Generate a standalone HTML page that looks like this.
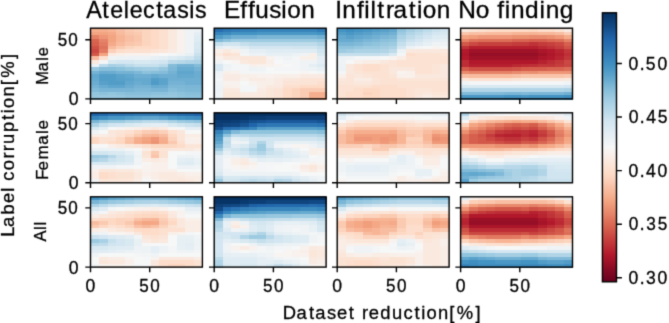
<!DOCTYPE html><html><head><meta charset="utf-8"><title>heatmaps</title><style>html,body{margin:0;padding:0;background:#fff}svg{display:block}text{font-family:"Liberation Sans",sans-serif;fill:#000;stroke:#000;stroke-width:0.30px}</style></head><body>
<svg width="669" height="323" viewBox="0 0 669 323">
<defs><filter id="bl" color-interpolation-filters="sRGB" x="-5%" y="-5%" width="110%" height="110%"><feConvolveMatrix order="3" kernelMatrix="0 0 0 0 1 0 0 0 0" edgeMode="duplicate"/></filter>
<filter id="gb" color-interpolation-filters="sRGB" x="0" y="0" width="669" height="323" filterUnits="userSpaceOnUse"><feConvolveMatrix order="3" kernelMatrix="0.01917 0.10012 0.01917 0.10012 0.52283 0.10012 0.01917 0.10012 0.01917" edgeMode="duplicate"/></filter>
<linearGradient id="cb" x1="0" y1="1" x2="0" y2="0"><stop offset="0.000" stop-color="#67001f"/><stop offset="0.025" stop-color="#790622"/><stop offset="0.050" stop-color="#8a0b25"/><stop offset="0.075" stop-color="#9f1228"/><stop offset="0.100" stop-color="#b1182b"/><stop offset="0.125" stop-color="#bb2a34"/><stop offset="0.150" stop-color="#c43b3c"/><stop offset="0.175" stop-color="#cc4c44"/><stop offset="0.200" stop-color="#d6604d"/><stop offset="0.225" stop-color="#dd7059"/><stop offset="0.250" stop-color="#e58368"/><stop offset="0.275" stop-color="#ec9374"/><stop offset="0.300" stop-color="#f3a481"/><stop offset="0.325" stop-color="#f6b394"/><stop offset="0.350" stop-color="#f8bfa4"/><stop offset="0.375" stop-color="#fbceb7"/><stop offset="0.400" stop-color="#fddbc7"/><stop offset="0.425" stop-color="#fce2d2"/><stop offset="0.450" stop-color="#fae9df"/><stop offset="0.475" stop-color="#f9f0eb"/><stop offset="0.500" stop-color="#f6f7f7"/><stop offset="0.525" stop-color="#edf2f5"/><stop offset="0.550" stop-color="#e4eef4"/><stop offset="0.575" stop-color="#dae9f2"/><stop offset="0.600" stop-color="#d1e5f0"/><stop offset="0.625" stop-color="#c0dceb"/><stop offset="0.650" stop-color="#b1d5e7"/><stop offset="0.675" stop-color="#a2cde3"/><stop offset="0.700" stop-color="#90c4dd"/><stop offset="0.725" stop-color="#7eb8d7"/><stop offset="0.750" stop-color="#68abd0"/><stop offset="0.775" stop-color="#569fc9"/><stop offset="0.800" stop-color="#4393c3"/><stop offset="0.825" stop-color="#3a87bd"/><stop offset="0.850" stop-color="#327cb7"/><stop offset="0.875" stop-color="#2870b1"/><stop offset="0.900" stop-color="#2065ab"/><stop offset="0.925" stop-color="#1a5899"/><stop offset="0.950" stop-color="#124984"/><stop offset="0.975" stop-color="#0c3d73"/><stop offset="1.000" stop-color="#053061"/></linearGradient></defs>
<g filter="url(#gb)"><rect x="0" y="0" width="669" height="323" fill="#fff"/>
<g filter="url(#bl)" shape-rendering="crispEdges"><rect x="90.50" y="28.20" width="9.21" height="4.13" fill="#f6af8e"/><rect x="99.11" y="28.20" width="9.21" height="4.13" fill="#f6af8e"/><rect x="107.72" y="28.20" width="9.21" height="4.13" fill="#f7b596"/><rect x="116.32" y="28.20" width="9.21" height="4.13" fill="#f8bfa4"/><rect x="124.93" y="28.20" width="9.21" height="4.13" fill="#facab1"/><rect x="133.54" y="28.20" width="9.21" height="4.13" fill="#fbd0b9"/><rect x="142.15" y="28.20" width="9.21" height="4.13" fill="#fcd5bf"/><rect x="150.75" y="28.20" width="9.21" height="4.13" fill="#fddbc7"/><rect x="159.36" y="28.20" width="9.21" height="4.13" fill="#fce0d0"/><rect x="167.97" y="28.20" width="9.21" height="4.13" fill="#fae9df"/><rect x="176.58" y="28.20" width="9.21" height="4.13" fill="#f8f1ed"/><rect x="185.18" y="28.20" width="9.21" height="4.13" fill="#eff3f5"/><rect x="193.79" y="28.20" width="9.21" height="4.13" fill="#ecf2f5"/><rect x="90.50" y="31.73" width="9.21" height="4.13" fill="#f3a481"/><rect x="99.11" y="31.73" width="9.21" height="4.13" fill="#f3a481"/><rect x="107.72" y="31.73" width="9.21" height="4.13" fill="#f5aa89"/><rect x="116.32" y="31.73" width="9.21" height="4.13" fill="#f8bb9e"/><rect x="124.93" y="31.73" width="9.21" height="4.13" fill="#f9c6ac"/><rect x="133.54" y="31.73" width="9.21" height="4.13" fill="#facab1"/><rect x="142.15" y="31.73" width="9.21" height="4.13" fill="#fcd5bf"/><rect x="150.75" y="31.73" width="9.21" height="4.13" fill="#fddbc7"/><rect x="159.36" y="31.73" width="9.21" height="4.13" fill="#fce0d0"/><rect x="167.97" y="31.73" width="9.21" height="4.13" fill="#fae9df"/><rect x="176.58" y="31.73" width="9.21" height="4.13" fill="#f8f1ed"/><rect x="185.18" y="31.73" width="9.21" height="4.13" fill="#eff3f5"/><rect x="193.79" y="31.73" width="9.21" height="4.13" fill="#e4eef4"/><rect x="90.50" y="35.27" width="9.21" height="4.13" fill="#e58368"/><rect x="99.11" y="35.27" width="9.21" height="4.13" fill="#ee9677"/><rect x="107.72" y="35.27" width="9.21" height="4.13" fill="#f3a481"/><rect x="116.32" y="35.27" width="9.21" height="4.13" fill="#f7b596"/><rect x="124.93" y="35.27" width="9.21" height="4.13" fill="#f8bfa4"/><rect x="133.54" y="35.27" width="9.21" height="4.13" fill="#f9c6ac"/><rect x="142.15" y="35.27" width="9.21" height="4.13" fill="#fcd5bf"/><rect x="150.75" y="35.27" width="9.21" height="4.13" fill="#fddbc7"/><rect x="159.36" y="35.27" width="9.21" height="4.13" fill="#fce0d0"/><rect x="167.97" y="35.27" width="9.21" height="4.13" fill="#fae9df"/><rect x="176.58" y="35.27" width="9.21" height="4.13" fill="#f8f1ed"/><rect x="185.18" y="35.27" width="9.21" height="4.13" fill="#eff3f5"/><rect x="193.79" y="35.27" width="9.21" height="4.13" fill="#e0ecf3"/><rect x="90.50" y="38.80" width="9.21" height="4.13" fill="#d86551"/><rect x="99.11" y="38.80" width="9.21" height="4.13" fill="#e58368"/><rect x="107.72" y="38.80" width="9.21" height="4.13" fill="#f3a481"/><rect x="116.32" y="38.80" width="9.21" height="4.13" fill="#f7b596"/><rect x="124.93" y="38.80" width="9.21" height="4.13" fill="#f8bfa4"/><rect x="133.54" y="38.80" width="9.21" height="4.13" fill="#f9c6ac"/><rect x="142.15" y="38.80" width="9.21" height="4.13" fill="#fcd5bf"/><rect x="150.75" y="38.80" width="9.21" height="4.13" fill="#fddbc7"/><rect x="159.36" y="38.80" width="9.21" height="4.13" fill="#fce0d0"/><rect x="167.97" y="38.80" width="9.21" height="4.13" fill="#fae9df"/><rect x="176.58" y="38.80" width="9.21" height="4.13" fill="#f8f1ed"/><rect x="185.18" y="38.80" width="9.21" height="4.13" fill="#eff3f5"/><rect x="193.79" y="38.80" width="9.21" height="4.13" fill="#ddebf2"/><rect x="90.50" y="42.34" width="9.21" height="4.13" fill="#d6604d"/><rect x="99.11" y="42.34" width="9.21" height="4.13" fill="#e27b62"/><rect x="107.72" y="42.34" width="9.21" height="4.13" fill="#f5aa89"/><rect x="116.32" y="42.34" width="9.21" height="4.13" fill="#f8bb9e"/><rect x="124.93" y="42.34" width="9.21" height="4.13" fill="#f9c6ac"/><rect x="133.54" y="42.34" width="9.21" height="4.13" fill="#facab1"/><rect x="142.15" y="42.34" width="9.21" height="4.13" fill="#fcd5bf"/><rect x="150.75" y="42.34" width="9.21" height="4.13" fill="#fddbc7"/><rect x="159.36" y="42.34" width="9.21" height="4.13" fill="#fce0d0"/><rect x="167.97" y="42.34" width="9.21" height="4.13" fill="#fae9df"/><rect x="176.58" y="42.34" width="9.21" height="4.13" fill="#f8f1ed"/><rect x="185.18" y="42.34" width="9.21" height="4.13" fill="#eff3f5"/><rect x="193.79" y="42.34" width="9.21" height="4.13" fill="#d8e9f1"/><rect x="90.50" y="45.88" width="9.21" height="4.13" fill="#cf5246"/><rect x="99.11" y="45.88" width="9.21" height="4.13" fill="#de735c"/><rect x="107.72" y="45.88" width="9.21" height="4.13" fill="#f8bb9e"/><rect x="116.32" y="45.88" width="9.21" height="4.13" fill="#facab1"/><rect x="124.93" y="45.88" width="9.21" height="4.13" fill="#fcd5bf"/><rect x="133.54" y="45.88" width="9.21" height="4.13" fill="#fddbc7"/><rect x="142.15" y="45.88" width="9.21" height="4.13" fill="#fddbc7"/><rect x="150.75" y="45.88" width="9.21" height="4.13" fill="#fddbc7"/><rect x="159.36" y="45.88" width="9.21" height="4.13" fill="#fce0d0"/><rect x="167.97" y="45.88" width="9.21" height="4.13" fill="#fae9df"/><rect x="176.58" y="45.88" width="9.21" height="4.13" fill="#f8f1ed"/><rect x="185.18" y="45.88" width="9.21" height="4.13" fill="#eff3f5"/><rect x="193.79" y="45.88" width="9.21" height="4.13" fill="#d8e9f1"/><rect x="90.50" y="49.41" width="9.21" height="4.13" fill="#cb4942"/><rect x="99.11" y="49.41" width="9.21" height="4.13" fill="#e27b62"/><rect x="107.72" y="49.41" width="9.21" height="4.13" fill="#fbd0b9"/><rect x="116.32" y="49.41" width="9.21" height="4.13" fill="#fdddcb"/><rect x="124.93" y="49.41" width="9.21" height="4.13" fill="#fce0d0"/><rect x="133.54" y="49.41" width="9.21" height="4.13" fill="#fce0d0"/><rect x="142.15" y="49.41" width="9.21" height="4.13" fill="#fce0d0"/><rect x="150.75" y="49.41" width="9.21" height="4.13" fill="#fbe4d6"/><rect x="159.36" y="49.41" width="9.21" height="4.13" fill="#fbe6da"/><rect x="167.97" y="49.41" width="9.21" height="4.13" fill="#f9ebe3"/><rect x="176.58" y="49.41" width="9.21" height="4.13" fill="#f8f1ed"/><rect x="185.18" y="49.41" width="9.21" height="4.13" fill="#eff3f5"/><rect x="193.79" y="49.41" width="9.21" height="4.13" fill="#d4e6f1"/><rect x="90.50" y="52.95" width="9.21" height="4.13" fill="#d25849"/><rect x="99.11" y="52.95" width="9.21" height="4.13" fill="#f3a481"/><rect x="107.72" y="52.95" width="9.21" height="4.13" fill="#f9ebe3"/><rect x="116.32" y="52.95" width="9.21" height="4.13" fill="#f9efe9"/><rect x="124.93" y="52.95" width="9.21" height="4.13" fill="#f8f1ed"/><rect x="133.54" y="52.95" width="9.21" height="4.13" fill="#f8f1ed"/><rect x="142.15" y="52.95" width="9.21" height="4.13" fill="#f8f1ed"/><rect x="150.75" y="52.95" width="9.21" height="4.13" fill="#f8f4f2"/><rect x="159.36" y="52.95" width="9.21" height="4.13" fill="#f6f7f7"/><rect x="167.97" y="52.95" width="9.21" height="4.13" fill="#f3f5f6"/><rect x="176.58" y="52.95" width="9.21" height="4.13" fill="#eff3f5"/><rect x="185.18" y="52.95" width="9.21" height="4.13" fill="#e7f0f4"/><rect x="193.79" y="52.95" width="9.21" height="4.13" fill="#cae1ee"/><rect x="90.50" y="56.48" width="9.21" height="4.13" fill="#f8bb9e"/><rect x="99.11" y="56.48" width="9.21" height="4.13" fill="#fce0d0"/><rect x="107.72" y="56.48" width="9.21" height="4.13" fill="#eff3f5"/><rect x="116.32" y="56.48" width="9.21" height="4.13" fill="#ecf2f5"/><rect x="124.93" y="56.48" width="9.21" height="4.13" fill="#ecf2f5"/><rect x="133.54" y="56.48" width="9.21" height="4.13" fill="#ecf2f5"/><rect x="142.15" y="56.48" width="9.21" height="4.13" fill="#ecf2f5"/><rect x="150.75" y="56.48" width="9.21" height="4.13" fill="#e7f0f4"/><rect x="159.36" y="56.48" width="9.21" height="4.13" fill="#e4eef4"/><rect x="167.97" y="56.48" width="9.21" height="4.13" fill="#ddebf2"/><rect x="176.58" y="56.48" width="9.21" height="4.13" fill="#d8e9f1"/><rect x="185.18" y="56.48" width="9.21" height="4.13" fill="#d1e5f0"/><rect x="193.79" y="56.48" width="9.21" height="4.13" fill="#bddbea"/><rect x="90.50" y="60.02" width="9.21" height="4.13" fill="#fae9df"/><rect x="99.11" y="60.02" width="9.21" height="4.13" fill="#f3f5f6"/><rect x="107.72" y="60.02" width="9.21" height="4.13" fill="#d8e9f1"/><rect x="116.32" y="60.02" width="9.21" height="4.13" fill="#d4e6f1"/><rect x="124.93" y="60.02" width="9.21" height="4.13" fill="#d4e6f1"/><rect x="133.54" y="60.02" width="9.21" height="4.13" fill="#d8e9f1"/><rect x="142.15" y="60.02" width="9.21" height="4.13" fill="#d8e9f1"/><rect x="150.75" y="60.02" width="9.21" height="4.13" fill="#d4e6f1"/><rect x="159.36" y="60.02" width="9.21" height="4.13" fill="#d1e5f0"/><rect x="167.97" y="60.02" width="9.21" height="4.13" fill="#bddbea"/><rect x="176.58" y="60.02" width="9.21" height="4.13" fill="#b8d8e9"/><rect x="185.18" y="60.02" width="9.21" height="4.13" fill="#b1d5e7"/><rect x="193.79" y="60.02" width="9.21" height="4.13" fill="#acd2e5"/><rect x="90.50" y="63.55" width="9.21" height="4.13" fill="#ecf2f5"/><rect x="99.11" y="63.55" width="9.21" height="4.13" fill="#bbdaea"/><rect x="107.72" y="63.55" width="9.21" height="4.13" fill="#a7d0e4"/><rect x="116.32" y="63.55" width="9.21" height="4.13" fill="#aed3e6"/><rect x="124.93" y="63.55" width="9.21" height="4.13" fill="#bbdaea"/><rect x="133.54" y="63.55" width="9.21" height="4.13" fill="#c7e0ed"/><rect x="142.15" y="63.55" width="9.21" height="4.13" fill="#c7e0ed"/><rect x="150.75" y="63.55" width="9.21" height="4.13" fill="#c7e0ed"/><rect x="159.36" y="63.55" width="9.21" height="4.13" fill="#bbdaea"/><rect x="167.97" y="63.55" width="9.21" height="4.13" fill="#84bcd9"/><rect x="176.58" y="63.55" width="9.21" height="4.13" fill="#75b2d4"/><rect x="185.18" y="63.55" width="9.21" height="4.13" fill="#75b2d4"/><rect x="193.79" y="63.55" width="9.21" height="4.13" fill="#84bcd9"/><rect x="90.50" y="67.09" width="9.21" height="4.13" fill="#96c7df"/><rect x="99.11" y="67.09" width="9.21" height="4.13" fill="#87beda"/><rect x="107.72" y="67.09" width="9.21" height="4.13" fill="#87beda"/><rect x="116.32" y="67.09" width="9.21" height="4.13" fill="#8dc2dc"/><rect x="124.93" y="67.09" width="9.21" height="4.13" fill="#96c7df"/><rect x="133.54" y="67.09" width="9.21" height="4.13" fill="#9dcbe1"/><rect x="142.15" y="67.09" width="9.21" height="4.13" fill="#a2cde3"/><rect x="150.75" y="67.09" width="9.21" height="4.13" fill="#a2cde3"/><rect x="159.36" y="67.09" width="9.21" height="4.13" fill="#96c7df"/><rect x="167.97" y="67.09" width="9.21" height="4.13" fill="#7eb8d7"/><rect x="176.58" y="67.09" width="9.21" height="4.13" fill="#68abd0"/><rect x="185.18" y="67.09" width="9.21" height="4.13" fill="#68abd0"/><rect x="193.79" y="67.09" width="9.21" height="4.13" fill="#75b2d4"/><rect x="90.50" y="70.62" width="9.21" height="4.13" fill="#75b2d4"/><rect x="99.11" y="70.62" width="9.21" height="4.13" fill="#68abd0"/><rect x="107.72" y="70.62" width="9.21" height="4.13" fill="#6bacd1"/><rect x="116.32" y="70.62" width="9.21" height="4.13" fill="#75b2d4"/><rect x="124.93" y="70.62" width="9.21" height="4.13" fill="#75b2d4"/><rect x="133.54" y="70.62" width="9.21" height="4.13" fill="#7eb8d7"/><rect x="142.15" y="70.62" width="9.21" height="4.13" fill="#8dc2dc"/><rect x="150.75" y="70.62" width="9.21" height="4.13" fill="#87beda"/><rect x="159.36" y="70.62" width="9.21" height="4.13" fill="#84bcd9"/><rect x="167.97" y="70.62" width="9.21" height="4.13" fill="#75b2d4"/><rect x="176.58" y="70.62" width="9.21" height="4.13" fill="#5fa5cd"/><rect x="185.18" y="70.62" width="9.21" height="4.13" fill="#5fa5cd"/><rect x="193.79" y="70.62" width="9.21" height="4.13" fill="#6bacd1"/><rect x="90.50" y="74.16" width="9.21" height="4.13" fill="#62a7ce"/><rect x="99.11" y="74.16" width="9.21" height="4.13" fill="#529dc8"/><rect x="107.72" y="74.16" width="9.21" height="4.13" fill="#529dc8"/><rect x="116.32" y="74.16" width="9.21" height="4.13" fill="#5ca3cb"/><rect x="124.93" y="74.16" width="9.21" height="4.13" fill="#62a7ce"/><rect x="133.54" y="74.16" width="9.21" height="4.13" fill="#6eaed2"/><rect x="142.15" y="74.16" width="9.21" height="4.13" fill="#6eaed2"/><rect x="150.75" y="74.16" width="9.21" height="4.13" fill="#65a9cf"/><rect x="159.36" y="74.16" width="9.21" height="4.13" fill="#6eaed2"/><rect x="167.97" y="74.16" width="9.21" height="4.13" fill="#6eaed2"/><rect x="176.58" y="74.16" width="9.21" height="4.13" fill="#65a9cf"/><rect x="185.18" y="74.16" width="9.21" height="4.13" fill="#65a9cf"/><rect x="193.79" y="74.16" width="9.21" height="4.13" fill="#6bacd1"/><rect x="90.50" y="77.69" width="9.21" height="4.13" fill="#65a9cf"/><rect x="99.11" y="77.69" width="9.21" height="4.13" fill="#529dc8"/><rect x="107.72" y="77.69" width="9.21" height="4.13" fill="#529dc8"/><rect x="116.32" y="77.69" width="9.21" height="4.13" fill="#59a1ca"/><rect x="124.93" y="77.69" width="9.21" height="4.13" fill="#5ca3cb"/><rect x="133.54" y="77.69" width="9.21" height="4.13" fill="#65a9cf"/><rect x="142.15" y="77.69" width="9.21" height="4.13" fill="#65a9cf"/><rect x="150.75" y="77.69" width="9.21" height="4.13" fill="#529dc8"/><rect x="159.36" y="77.69" width="9.21" height="4.13" fill="#5ca3cb"/><rect x="167.97" y="77.69" width="9.21" height="4.13" fill="#6eaed2"/><rect x="176.58" y="77.69" width="9.21" height="4.13" fill="#6eaed2"/><rect x="185.18" y="77.69" width="9.21" height="4.13" fill="#6eaed2"/><rect x="193.79" y="77.69" width="9.21" height="4.13" fill="#6eaed2"/><rect x="90.50" y="81.23" width="9.21" height="4.13" fill="#6bacd1"/><rect x="99.11" y="81.23" width="9.21" height="4.13" fill="#59a1ca"/><rect x="107.72" y="81.23" width="9.21" height="4.13" fill="#529dc8"/><rect x="116.32" y="81.23" width="9.21" height="4.13" fill="#529dc8"/><rect x="124.93" y="81.23" width="9.21" height="4.13" fill="#62a7ce"/><rect x="133.54" y="81.23" width="9.21" height="4.13" fill="#6bacd1"/><rect x="142.15" y="81.23" width="9.21" height="4.13" fill="#65a9cf"/><rect x="150.75" y="81.23" width="9.21" height="4.13" fill="#4f9bc7"/><rect x="159.36" y="81.23" width="9.21" height="4.13" fill="#5ca3cb"/><rect x="167.97" y="81.23" width="9.21" height="4.13" fill="#75b2d4"/><rect x="176.58" y="81.23" width="9.21" height="4.13" fill="#75b2d4"/><rect x="185.18" y="81.23" width="9.21" height="4.13" fill="#6eaed2"/><rect x="193.79" y="81.23" width="9.21" height="4.13" fill="#6eaed2"/><rect x="90.50" y="84.76" width="9.21" height="4.13" fill="#75b2d4"/><rect x="99.11" y="84.76" width="9.21" height="4.13" fill="#68abd0"/><rect x="107.72" y="84.76" width="9.21" height="4.13" fill="#5fa5cd"/><rect x="116.32" y="84.76" width="9.21" height="4.13" fill="#5fa5cd"/><rect x="124.93" y="84.76" width="9.21" height="4.13" fill="#6bacd1"/><rect x="133.54" y="84.76" width="9.21" height="4.13" fill="#75b2d4"/><rect x="142.15" y="84.76" width="9.21" height="4.13" fill="#75b2d4"/><rect x="150.75" y="84.76" width="9.21" height="4.13" fill="#68abd0"/><rect x="159.36" y="84.76" width="9.21" height="4.13" fill="#6bacd1"/><rect x="167.97" y="84.76" width="9.21" height="4.13" fill="#7eb8d7"/><rect x="176.58" y="84.76" width="9.21" height="4.13" fill="#7eb8d7"/><rect x="185.18" y="84.76" width="9.21" height="4.13" fill="#7bb6d6"/><rect x="193.79" y="84.76" width="9.21" height="4.13" fill="#7bb6d6"/><rect x="90.50" y="88.30" width="9.21" height="4.13" fill="#81bad8"/><rect x="99.11" y="88.30" width="9.21" height="4.13" fill="#78b4d5"/><rect x="107.72" y="88.30" width="9.21" height="4.13" fill="#78b4d5"/><rect x="116.32" y="88.30" width="9.21" height="4.13" fill="#78b4d5"/><rect x="124.93" y="88.30" width="9.21" height="4.13" fill="#78b4d5"/><rect x="133.54" y="88.30" width="9.21" height="4.13" fill="#7eb8d7"/><rect x="142.15" y="88.30" width="9.21" height="4.13" fill="#7eb8d7"/><rect x="150.75" y="88.30" width="9.21" height="4.13" fill="#78b4d5"/><rect x="159.36" y="88.30" width="9.21" height="4.13" fill="#78b4d5"/><rect x="167.97" y="88.30" width="9.21" height="4.13" fill="#87beda"/><rect x="176.58" y="88.30" width="9.21" height="4.13" fill="#81bad8"/><rect x="185.18" y="88.30" width="9.21" height="4.13" fill="#7eb8d7"/><rect x="193.79" y="88.30" width="9.21" height="4.13" fill="#7eb8d7"/><rect x="90.50" y="91.83" width="9.21" height="4.13" fill="#93c6de"/><rect x="99.11" y="91.83" width="9.21" height="4.13" fill="#8dc2dc"/><rect x="107.72" y="91.83" width="9.21" height="4.13" fill="#93c6de"/><rect x="116.32" y="91.83" width="9.21" height="4.13" fill="#8dc2dc"/><rect x="124.93" y="91.83" width="9.21" height="4.13" fill="#87beda"/><rect x="133.54" y="91.83" width="9.21" height="4.13" fill="#87beda"/><rect x="142.15" y="91.83" width="9.21" height="4.13" fill="#87beda"/><rect x="150.75" y="91.83" width="9.21" height="4.13" fill="#8dc2dc"/><rect x="159.36" y="91.83" width="9.21" height="4.13" fill="#8dc2dc"/><rect x="167.97" y="91.83" width="9.21" height="4.13" fill="#93c6de"/><rect x="176.58" y="91.83" width="9.21" height="4.13" fill="#8dc2dc"/><rect x="185.18" y="91.83" width="9.21" height="4.13" fill="#87beda"/><rect x="193.79" y="91.83" width="9.21" height="4.13" fill="#87beda"/><rect x="90.50" y="95.37" width="9.21" height="4.13" fill="#96c7df"/><rect x="99.11" y="95.37" width="9.21" height="4.13" fill="#98c8e0"/><rect x="107.72" y="95.37" width="9.21" height="4.13" fill="#98c8e0"/><rect x="116.32" y="95.37" width="9.21" height="4.13" fill="#96c7df"/><rect x="124.93" y="95.37" width="9.21" height="4.13" fill="#90c4dd"/><rect x="133.54" y="95.37" width="9.21" height="4.13" fill="#90c4dd"/><rect x="142.15" y="95.37" width="9.21" height="4.13" fill="#90c4dd"/><rect x="150.75" y="95.37" width="9.21" height="4.13" fill="#96c7df"/><rect x="159.36" y="95.37" width="9.21" height="4.13" fill="#96c7df"/><rect x="167.97" y="95.37" width="9.21" height="4.13" fill="#96c7df"/><rect x="176.58" y="95.37" width="9.21" height="4.13" fill="#90c4dd"/><rect x="185.18" y="95.37" width="9.21" height="4.13" fill="#8dc2dc"/><rect x="193.79" y="95.37" width="9.21" height="4.13" fill="#8dc2dc"/></g>
<rect x="90.50" y="28.20" width="111.90" height="70.70" fill="none" stroke="#000" stroke-width="1.40"/>
<path d="M85.30 39.70H90.50M85.30 98.90H90.50M90.50 98.90V104.10M149.70 98.90V104.10" stroke="#000" stroke-width="1.40" fill="none"/>
<g filter="url(#bl)" shape-rendering="crispEdges"><rect x="214.20" y="28.20" width="9.21" height="4.13" fill="#276eb0"/><rect x="222.81" y="28.20" width="9.21" height="4.13" fill="#2e77b5"/><rect x="231.42" y="28.20" width="9.21" height="4.13" fill="#327cb7"/><rect x="240.02" y="28.20" width="9.21" height="4.13" fill="#3480b9"/><rect x="248.63" y="28.20" width="9.21" height="4.13" fill="#3480b9"/><rect x="257.24" y="28.20" width="9.21" height="4.13" fill="#3885bc"/><rect x="265.85" y="28.20" width="9.21" height="4.13" fill="#3885bc"/><rect x="274.45" y="28.20" width="9.21" height="4.13" fill="#3885bc"/><rect x="283.06" y="28.20" width="9.21" height="4.13" fill="#3885bc"/><rect x="291.67" y="28.20" width="9.21" height="4.13" fill="#3885bc"/><rect x="300.28" y="28.20" width="9.21" height="4.13" fill="#3885bc"/><rect x="308.88" y="28.20" width="9.21" height="4.13" fill="#3885bc"/><rect x="317.49" y="28.20" width="9.21" height="4.13" fill="#327cb7"/><rect x="214.20" y="31.73" width="9.21" height="4.13" fill="#3885bc"/><rect x="222.81" y="31.73" width="9.21" height="4.13" fill="#3c8abe"/><rect x="231.42" y="31.73" width="9.21" height="4.13" fill="#4393c3"/><rect x="240.02" y="31.73" width="9.21" height="4.13" fill="#4393c3"/><rect x="248.63" y="31.73" width="9.21" height="4.13" fill="#4393c3"/><rect x="257.24" y="31.73" width="9.21" height="4.13" fill="#4997c5"/><rect x="265.85" y="31.73" width="9.21" height="4.13" fill="#4997c5"/><rect x="274.45" y="31.73" width="9.21" height="4.13" fill="#4997c5"/><rect x="283.06" y="31.73" width="9.21" height="4.13" fill="#4997c5"/><rect x="291.67" y="31.73" width="9.21" height="4.13" fill="#4997c5"/><rect x="300.28" y="31.73" width="9.21" height="4.13" fill="#4997c5"/><rect x="308.88" y="31.73" width="9.21" height="4.13" fill="#4997c5"/><rect x="317.49" y="31.73" width="9.21" height="4.13" fill="#4393c3"/><rect x="214.20" y="35.27" width="9.21" height="4.13" fill="#529dc8"/><rect x="222.81" y="35.27" width="9.21" height="4.13" fill="#62a7ce"/><rect x="231.42" y="35.27" width="9.21" height="4.13" fill="#71b0d3"/><rect x="240.02" y="35.27" width="9.21" height="4.13" fill="#71b0d3"/><rect x="248.63" y="35.27" width="9.21" height="4.13" fill="#71b0d3"/><rect x="257.24" y="35.27" width="9.21" height="4.13" fill="#7bb6d6"/><rect x="265.85" y="35.27" width="9.21" height="4.13" fill="#7bb6d6"/><rect x="274.45" y="35.27" width="9.21" height="4.13" fill="#7bb6d6"/><rect x="283.06" y="35.27" width="9.21" height="4.13" fill="#7bb6d6"/><rect x="291.67" y="35.27" width="9.21" height="4.13" fill="#7bb6d6"/><rect x="300.28" y="35.27" width="9.21" height="4.13" fill="#7bb6d6"/><rect x="308.88" y="35.27" width="9.21" height="4.13" fill="#7bb6d6"/><rect x="317.49" y="35.27" width="9.21" height="4.13" fill="#71b0d3"/><rect x="214.20" y="38.80" width="9.21" height="4.13" fill="#81bad8"/><rect x="222.81" y="38.80" width="9.21" height="4.13" fill="#90c4dd"/><rect x="231.42" y="38.80" width="9.21" height="4.13" fill="#9dcbe1"/><rect x="240.02" y="38.80" width="9.21" height="4.13" fill="#9dcbe1"/><rect x="248.63" y="38.80" width="9.21" height="4.13" fill="#9dcbe1"/><rect x="257.24" y="38.80" width="9.21" height="4.13" fill="#9dcbe1"/><rect x="265.85" y="38.80" width="9.21" height="4.13" fill="#9dcbe1"/><rect x="274.45" y="38.80" width="9.21" height="4.13" fill="#9dcbe1"/><rect x="283.06" y="38.80" width="9.21" height="4.13" fill="#9dcbe1"/><rect x="291.67" y="38.80" width="9.21" height="4.13" fill="#9dcbe1"/><rect x="300.28" y="38.80" width="9.21" height="4.13" fill="#9dcbe1"/><rect x="308.88" y="38.80" width="9.21" height="4.13" fill="#9dcbe1"/><rect x="317.49" y="38.80" width="9.21" height="4.13" fill="#98c8e0"/><rect x="214.20" y="42.34" width="9.21" height="4.13" fill="#c5dfec"/><rect x="222.81" y="42.34" width="9.21" height="4.13" fill="#d1e5f0"/><rect x="231.42" y="42.34" width="9.21" height="4.13" fill="#d1e5f0"/><rect x="240.02" y="42.34" width="9.21" height="4.13" fill="#c5dfec"/><rect x="248.63" y="42.34" width="9.21" height="4.13" fill="#bddbea"/><rect x="257.24" y="42.34" width="9.21" height="4.13" fill="#bddbea"/><rect x="265.85" y="42.34" width="9.21" height="4.13" fill="#bddbea"/><rect x="274.45" y="42.34" width="9.21" height="4.13" fill="#bddbea"/><rect x="283.06" y="42.34" width="9.21" height="4.13" fill="#bddbea"/><rect x="291.67" y="42.34" width="9.21" height="4.13" fill="#bddbea"/><rect x="300.28" y="42.34" width="9.21" height="4.13" fill="#bddbea"/><rect x="308.88" y="42.34" width="9.21" height="4.13" fill="#bddbea"/><rect x="317.49" y="42.34" width="9.21" height="4.13" fill="#b1d5e7"/><rect x="214.20" y="45.88" width="9.21" height="4.13" fill="#e4eef4"/><rect x="222.81" y="45.88" width="9.21" height="4.13" fill="#ecf2f5"/><rect x="231.42" y="45.88" width="9.21" height="4.13" fill="#e7f0f4"/><rect x="240.02" y="45.88" width="9.21" height="4.13" fill="#e0ecf3"/><rect x="248.63" y="45.88" width="9.21" height="4.13" fill="#d4e6f1"/><rect x="257.24" y="45.88" width="9.21" height="4.13" fill="#d4e6f1"/><rect x="265.85" y="45.88" width="9.21" height="4.13" fill="#d4e6f1"/><rect x="274.45" y="45.88" width="9.21" height="4.13" fill="#d4e6f1"/><rect x="283.06" y="45.88" width="9.21" height="4.13" fill="#d4e6f1"/><rect x="291.67" y="45.88" width="9.21" height="4.13" fill="#d1e5f0"/><rect x="300.28" y="45.88" width="9.21" height="4.13" fill="#d1e5f0"/><rect x="308.88" y="45.88" width="9.21" height="4.13" fill="#d1e5f0"/><rect x="317.49" y="45.88" width="9.21" height="4.13" fill="#c5dfec"/><rect x="214.20" y="49.41" width="9.21" height="4.13" fill="#f9efe9"/><rect x="222.81" y="49.41" width="9.21" height="4.13" fill="#fae9df"/><rect x="231.42" y="49.41" width="9.21" height="4.13" fill="#f9efe9"/><rect x="240.02" y="49.41" width="9.21" height="4.13" fill="#eff3f5"/><rect x="248.63" y="49.41" width="9.21" height="4.13" fill="#e4eef4"/><rect x="257.24" y="49.41" width="9.21" height="4.13" fill="#e4eef4"/><rect x="265.85" y="49.41" width="9.21" height="4.13" fill="#e0ecf3"/><rect x="274.45" y="49.41" width="9.21" height="4.13" fill="#e0ecf3"/><rect x="283.06" y="49.41" width="9.21" height="4.13" fill="#e0ecf3"/><rect x="291.67" y="49.41" width="9.21" height="4.13" fill="#e0ecf3"/><rect x="300.28" y="49.41" width="9.21" height="4.13" fill="#e0ecf3"/><rect x="308.88" y="49.41" width="9.21" height="4.13" fill="#e0ecf3"/><rect x="317.49" y="49.41" width="9.21" height="4.13" fill="#d1e5f0"/><rect x="214.20" y="52.95" width="9.21" height="4.13" fill="#fae9df"/><rect x="222.81" y="52.95" width="9.21" height="4.13" fill="#fce0d0"/><rect x="231.42" y="52.95" width="9.21" height="4.13" fill="#fbe4d6"/><rect x="240.02" y="52.95" width="9.21" height="4.13" fill="#f3f5f6"/><rect x="248.63" y="52.95" width="9.21" height="4.13" fill="#ecf2f5"/><rect x="257.24" y="52.95" width="9.21" height="4.13" fill="#ecf2f5"/><rect x="265.85" y="52.95" width="9.21" height="4.13" fill="#e7f0f4"/><rect x="274.45" y="52.95" width="9.21" height="4.13" fill="#e7f0f4"/><rect x="283.06" y="52.95" width="9.21" height="4.13" fill="#e7f0f4"/><rect x="291.67" y="52.95" width="9.21" height="4.13" fill="#ecf2f5"/><rect x="300.28" y="52.95" width="9.21" height="4.13" fill="#eff3f5"/><rect x="308.88" y="52.95" width="9.21" height="4.13" fill="#f9efe9"/><rect x="317.49" y="52.95" width="9.21" height="4.13" fill="#d8e9f1"/><rect x="214.20" y="56.48" width="9.21" height="4.13" fill="#f8f1ed"/><rect x="222.81" y="56.48" width="9.21" height="4.13" fill="#fae9df"/><rect x="231.42" y="56.48" width="9.21" height="4.13" fill="#fae9df"/><rect x="240.02" y="56.48" width="9.21" height="4.13" fill="#fbe6da"/><rect x="248.63" y="56.48" width="9.21" height="4.13" fill="#fbe6da"/><rect x="257.24" y="56.48" width="9.21" height="4.13" fill="#fbe6da"/><rect x="265.85" y="56.48" width="9.21" height="4.13" fill="#f8f1ed"/><rect x="274.45" y="56.48" width="9.21" height="4.13" fill="#f3f5f6"/><rect x="283.06" y="56.48" width="9.21" height="4.13" fill="#eff3f5"/><rect x="291.67" y="56.48" width="9.21" height="4.13" fill="#f3f5f6"/><rect x="300.28" y="56.48" width="9.21" height="4.13" fill="#f9efe9"/><rect x="308.88" y="56.48" width="9.21" height="4.13" fill="#f9efe9"/><rect x="317.49" y="56.48" width="9.21" height="4.13" fill="#e4eef4"/><rect x="214.20" y="60.02" width="9.21" height="4.13" fill="#eff3f5"/><rect x="222.81" y="60.02" width="9.21" height="4.13" fill="#f6f7f7"/><rect x="231.42" y="60.02" width="9.21" height="4.13" fill="#f8f4f2"/><rect x="240.02" y="60.02" width="9.21" height="4.13" fill="#fae9df"/><rect x="248.63" y="60.02" width="9.21" height="4.13" fill="#fbe6da"/><rect x="257.24" y="60.02" width="9.21" height="4.13" fill="#fbe6da"/><rect x="265.85" y="60.02" width="9.21" height="4.13" fill="#f9efe9"/><rect x="274.45" y="60.02" width="9.21" height="4.13" fill="#f6f7f7"/><rect x="283.06" y="60.02" width="9.21" height="4.13" fill="#f3f5f6"/><rect x="291.67" y="60.02" width="9.21" height="4.13" fill="#f3f5f6"/><rect x="300.28" y="60.02" width="9.21" height="4.13" fill="#eff3f5"/><rect x="308.88" y="60.02" width="9.21" height="4.13" fill="#eff3f5"/><rect x="317.49" y="60.02" width="9.21" height="4.13" fill="#e4eef4"/><rect x="214.20" y="63.55" width="9.21" height="4.13" fill="#d8e9f1"/><rect x="222.81" y="63.55" width="9.21" height="4.13" fill="#ecf2f5"/><rect x="231.42" y="63.55" width="9.21" height="4.13" fill="#f3f5f6"/><rect x="240.02" y="63.55" width="9.21" height="4.13" fill="#f3f5f6"/><rect x="248.63" y="63.55" width="9.21" height="4.13" fill="#f9efe9"/><rect x="257.24" y="63.55" width="9.21" height="4.13" fill="#f8f1ed"/><rect x="265.85" y="63.55" width="9.21" height="4.13" fill="#f8f1ed"/><rect x="274.45" y="63.55" width="9.21" height="4.13" fill="#f8f4f2"/><rect x="283.06" y="63.55" width="9.21" height="4.13" fill="#f6f7f7"/><rect x="291.67" y="63.55" width="9.21" height="4.13" fill="#f3f5f6"/><rect x="300.28" y="63.55" width="9.21" height="4.13" fill="#eff3f5"/><rect x="308.88" y="63.55" width="9.21" height="4.13" fill="#e4eef4"/><rect x="317.49" y="63.55" width="9.21" height="4.13" fill="#ddebf2"/><rect x="214.20" y="67.09" width="9.21" height="4.13" fill="#d8e9f1"/><rect x="222.81" y="67.09" width="9.21" height="4.13" fill="#eff3f5"/><rect x="231.42" y="67.09" width="9.21" height="4.13" fill="#f3f5f6"/><rect x="240.02" y="67.09" width="9.21" height="4.13" fill="#f3f5f6"/><rect x="248.63" y="67.09" width="9.21" height="4.13" fill="#ecf2f5"/><rect x="257.24" y="67.09" width="9.21" height="4.13" fill="#eff3f5"/><rect x="265.85" y="67.09" width="9.21" height="4.13" fill="#f6f7f7"/><rect x="274.45" y="67.09" width="9.21" height="4.13" fill="#f3f5f6"/><rect x="283.06" y="67.09" width="9.21" height="4.13" fill="#f3f5f6"/><rect x="291.67" y="67.09" width="9.21" height="4.13" fill="#f3f5f6"/><rect x="300.28" y="67.09" width="9.21" height="4.13" fill="#eff3f5"/><rect x="308.88" y="67.09" width="9.21" height="4.13" fill="#ecf2f5"/><rect x="317.49" y="67.09" width="9.21" height="4.13" fill="#e7f0f4"/><rect x="214.20" y="70.62" width="9.21" height="4.13" fill="#ecf2f5"/><rect x="222.81" y="70.62" width="9.21" height="4.13" fill="#f9efe9"/><rect x="231.42" y="70.62" width="9.21" height="4.13" fill="#f8f1ed"/><rect x="240.02" y="70.62" width="9.21" height="4.13" fill="#f3f5f6"/><rect x="248.63" y="70.62" width="9.21" height="4.13" fill="#f3f5f6"/><rect x="257.24" y="70.62" width="9.21" height="4.13" fill="#f3f5f6"/><rect x="265.85" y="70.62" width="9.21" height="4.13" fill="#f6f7f7"/><rect x="274.45" y="70.62" width="9.21" height="4.13" fill="#f6f7f7"/><rect x="283.06" y="70.62" width="9.21" height="4.13" fill="#f6f7f7"/><rect x="291.67" y="70.62" width="9.21" height="4.13" fill="#f6f7f7"/><rect x="300.28" y="70.62" width="9.21" height="4.13" fill="#f8f4f2"/><rect x="308.88" y="70.62" width="9.21" height="4.13" fill="#f6f7f7"/><rect x="317.49" y="70.62" width="9.21" height="4.13" fill="#f3f5f6"/><rect x="214.20" y="74.16" width="9.21" height="4.13" fill="#eff3f5"/><rect x="222.81" y="74.16" width="9.21" height="4.13" fill="#f9ebe3"/><rect x="231.42" y="74.16" width="9.21" height="4.13" fill="#f9ebe3"/><rect x="240.02" y="74.16" width="9.21" height="4.13" fill="#f9efe9"/><rect x="248.63" y="74.16" width="9.21" height="4.13" fill="#f9efe9"/><rect x="257.24" y="74.16" width="9.21" height="4.13" fill="#f8f1ed"/><rect x="265.85" y="74.16" width="9.21" height="4.13" fill="#f8f1ed"/><rect x="274.45" y="74.16" width="9.21" height="4.13" fill="#f9efe9"/><rect x="283.06" y="74.16" width="9.21" height="4.13" fill="#f9efe9"/><rect x="291.67" y="74.16" width="9.21" height="4.13" fill="#f9efe9"/><rect x="300.28" y="74.16" width="9.21" height="4.13" fill="#f9ebe3"/><rect x="308.88" y="74.16" width="9.21" height="4.13" fill="#f9ebe3"/><rect x="317.49" y="74.16" width="9.21" height="4.13" fill="#f9ebe3"/><rect x="214.20" y="77.69" width="9.21" height="4.13" fill="#f3f5f6"/><rect x="222.81" y="77.69" width="9.21" height="4.13" fill="#f9ebe3"/><rect x="231.42" y="77.69" width="9.21" height="4.13" fill="#f9ebe3"/><rect x="240.02" y="77.69" width="9.21" height="4.13" fill="#f8f1ed"/><rect x="248.63" y="77.69" width="9.21" height="4.13" fill="#f9ebe3"/><rect x="257.24" y="77.69" width="9.21" height="4.13" fill="#f9ebe3"/><rect x="265.85" y="77.69" width="9.21" height="4.13" fill="#f9efe9"/><rect x="274.45" y="77.69" width="9.21" height="4.13" fill="#f9ebe3"/><rect x="283.06" y="77.69" width="9.21" height="4.13" fill="#fae7dc"/><rect x="291.67" y="77.69" width="9.21" height="4.13" fill="#fae7dc"/><rect x="300.28" y="77.69" width="9.21" height="4.13" fill="#fbe4d6"/><rect x="308.88" y="77.69" width="9.21" height="4.13" fill="#fbe4d6"/><rect x="317.49" y="77.69" width="9.21" height="4.13" fill="#fbe4d6"/><rect x="214.20" y="81.23" width="9.21" height="4.13" fill="#eff3f5"/><rect x="222.81" y="81.23" width="9.21" height="4.13" fill="#f8f1ed"/><rect x="231.42" y="81.23" width="9.21" height="4.13" fill="#f8f1ed"/><rect x="240.02" y="81.23" width="9.21" height="4.13" fill="#f6f7f7"/><rect x="248.63" y="81.23" width="9.21" height="4.13" fill="#f8f1ed"/><rect x="257.24" y="81.23" width="9.21" height="4.13" fill="#f9efe9"/><rect x="265.85" y="81.23" width="9.21" height="4.13" fill="#f9efe9"/><rect x="274.45" y="81.23" width="9.21" height="4.13" fill="#f9ebe3"/><rect x="283.06" y="81.23" width="9.21" height="4.13" fill="#fbe4d6"/><rect x="291.67" y="81.23" width="9.21" height="4.13" fill="#fbe4d6"/><rect x="300.28" y="81.23" width="9.21" height="4.13" fill="#fbe4d6"/><rect x="308.88" y="81.23" width="9.21" height="4.13" fill="#fbe4d6"/><rect x="317.49" y="81.23" width="9.21" height="4.13" fill="#fcdfcf"/><rect x="214.20" y="84.76" width="9.21" height="4.13" fill="#ecf2f5"/><rect x="222.81" y="84.76" width="9.21" height="4.13" fill="#f9efe9"/><rect x="231.42" y="84.76" width="9.21" height="4.13" fill="#f8f1ed"/><rect x="240.02" y="84.76" width="9.21" height="4.13" fill="#f3f5f6"/><rect x="248.63" y="84.76" width="9.21" height="4.13" fill="#f3f5f6"/><rect x="257.24" y="84.76" width="9.21" height="4.13" fill="#f9efe9"/><rect x="265.85" y="84.76" width="9.21" height="4.13" fill="#fae9df"/><rect x="274.45" y="84.76" width="9.21" height="4.13" fill="#fae9df"/><rect x="283.06" y="84.76" width="9.21" height="4.13" fill="#fcdfcf"/><rect x="291.67" y="84.76" width="9.21" height="4.13" fill="#fcdfcf"/><rect x="300.28" y="84.76" width="9.21" height="4.13" fill="#fddbc7"/><rect x="308.88" y="84.76" width="9.21" height="4.13" fill="#fddbc7"/><rect x="317.49" y="84.76" width="9.21" height="4.13" fill="#fddbc7"/><rect x="214.20" y="88.30" width="9.21" height="4.13" fill="#ecf2f5"/><rect x="222.81" y="88.30" width="9.21" height="4.13" fill="#fae9df"/><rect x="231.42" y="88.30" width="9.21" height="4.13" fill="#fae9df"/><rect x="240.02" y="88.30" width="9.21" height="4.13" fill="#f3f5f6"/><rect x="248.63" y="88.30" width="9.21" height="4.13" fill="#f3f5f6"/><rect x="257.24" y="88.30" width="9.21" height="4.13" fill="#f9ebe3"/><rect x="265.85" y="88.30" width="9.21" height="4.13" fill="#fbe6da"/><rect x="274.45" y="88.30" width="9.21" height="4.13" fill="#fbe4d6"/><rect x="283.06" y="88.30" width="9.21" height="4.13" fill="#fddbc7"/><rect x="291.67" y="88.30" width="9.21" height="4.13" fill="#fcd5bf"/><rect x="300.28" y="88.30" width="9.21" height="4.13" fill="#fbccb4"/><rect x="308.88" y="88.30" width="9.21" height="4.13" fill="#fbccb4"/><rect x="317.49" y="88.30" width="9.21" height="4.13" fill="#fbccb4"/><rect x="214.20" y="91.83" width="9.21" height="4.13" fill="#eff3f5"/><rect x="222.81" y="91.83" width="9.21" height="4.13" fill="#fbe6da"/><rect x="231.42" y="91.83" width="9.21" height="4.13" fill="#fbe6da"/><rect x="240.02" y="91.83" width="9.21" height="4.13" fill="#f9ebe3"/><rect x="248.63" y="91.83" width="9.21" height="4.13" fill="#f9ebe3"/><rect x="257.24" y="91.83" width="9.21" height="4.13" fill="#fae9df"/><rect x="265.85" y="91.83" width="9.21" height="4.13" fill="#fbe6da"/><rect x="274.45" y="91.83" width="9.21" height="4.13" fill="#fbe4d6"/><rect x="283.06" y="91.83" width="9.21" height="4.13" fill="#fddbc7"/><rect x="291.67" y="91.83" width="9.21" height="4.13" fill="#fcd5bf"/><rect x="300.28" y="91.83" width="9.21" height="4.13" fill="#fbccb4"/><rect x="308.88" y="91.83" width="9.21" height="4.13" fill="#f6af8e"/><rect x="317.49" y="91.83" width="9.21" height="4.13" fill="#f6af8e"/><rect x="214.20" y="95.37" width="9.21" height="4.13" fill="#eff3f5"/><rect x="222.81" y="95.37" width="9.21" height="4.13" fill="#fbe6da"/><rect x="231.42" y="95.37" width="9.21" height="4.13" fill="#fbe6da"/><rect x="240.02" y="95.37" width="9.21" height="4.13" fill="#fae9df"/><rect x="248.63" y="95.37" width="9.21" height="4.13" fill="#fae9df"/><rect x="257.24" y="95.37" width="9.21" height="4.13" fill="#fae9df"/><rect x="265.85" y="95.37" width="9.21" height="4.13" fill="#fbe6da"/><rect x="274.45" y="95.37" width="9.21" height="4.13" fill="#fbe4d6"/><rect x="283.06" y="95.37" width="9.21" height="4.13" fill="#fddbc7"/><rect x="291.67" y="95.37" width="9.21" height="4.13" fill="#fcd5bf"/><rect x="300.28" y="95.37" width="9.21" height="4.13" fill="#fbccb4"/><rect x="308.88" y="95.37" width="9.21" height="4.13" fill="#f6af8e"/><rect x="317.49" y="95.37" width="9.21" height="4.13" fill="#f6af8e"/></g>
<rect x="214.20" y="28.20" width="111.90" height="70.70" fill="none" stroke="#000" stroke-width="1.40"/>
<path d="M209.00 39.70H214.20M209.00 98.90H214.20M214.20 98.90V104.10M273.40 98.90V104.10" stroke="#000" stroke-width="1.40" fill="none"/>
<g filter="url(#bl)" shape-rendering="crispEdges"><rect x="337.20" y="28.20" width="9.21" height="4.13" fill="#4393c3"/><rect x="345.81" y="28.20" width="9.21" height="4.13" fill="#3f8ec0"/><rect x="354.42" y="28.20" width="9.21" height="4.13" fill="#4393c3"/><rect x="363.02" y="28.20" width="9.21" height="4.13" fill="#4997c5"/><rect x="371.63" y="28.20" width="9.21" height="4.13" fill="#529dc8"/><rect x="380.24" y="28.20" width="9.21" height="4.13" fill="#59a1ca"/><rect x="388.85" y="28.20" width="9.21" height="4.13" fill="#62a7ce"/><rect x="397.45" y="28.20" width="9.21" height="4.13" fill="#90c4dd"/><rect x="406.06" y="28.20" width="9.21" height="4.13" fill="#a5cee3"/><rect x="414.67" y="28.20" width="9.21" height="4.13" fill="#b1d5e7"/><rect x="423.28" y="28.20" width="9.21" height="4.13" fill="#bddbea"/><rect x="431.88" y="28.20" width="9.21" height="4.13" fill="#cae1ee"/><rect x="440.49" y="28.20" width="9.21" height="4.13" fill="#d1e5f0"/><rect x="337.20" y="31.73" width="9.21" height="4.13" fill="#529dc8"/><rect x="345.81" y="31.73" width="9.21" height="4.13" fill="#4997c5"/><rect x="354.42" y="31.73" width="9.21" height="4.13" fill="#529dc8"/><rect x="363.02" y="31.73" width="9.21" height="4.13" fill="#59a1ca"/><rect x="371.63" y="31.73" width="9.21" height="4.13" fill="#62a7ce"/><rect x="380.24" y="31.73" width="9.21" height="4.13" fill="#68abd0"/><rect x="388.85" y="31.73" width="9.21" height="4.13" fill="#71b0d3"/><rect x="397.45" y="31.73" width="9.21" height="4.13" fill="#9dcbe1"/><rect x="406.06" y="31.73" width="9.21" height="4.13" fill="#b1d5e7"/><rect x="414.67" y="31.73" width="9.21" height="4.13" fill="#bddbea"/><rect x="423.28" y="31.73" width="9.21" height="4.13" fill="#cae1ee"/><rect x="431.88" y="31.73" width="9.21" height="4.13" fill="#d4e6f1"/><rect x="440.49" y="31.73" width="9.21" height="4.13" fill="#d8e9f1"/><rect x="337.20" y="35.27" width="9.21" height="4.13" fill="#62a7ce"/><rect x="345.81" y="35.27" width="9.21" height="4.13" fill="#59a1ca"/><rect x="354.42" y="35.27" width="9.21" height="4.13" fill="#62a7ce"/><rect x="363.02" y="35.27" width="9.21" height="4.13" fill="#68abd0"/><rect x="371.63" y="35.27" width="9.21" height="4.13" fill="#71b0d3"/><rect x="380.24" y="35.27" width="9.21" height="4.13" fill="#7bb6d6"/><rect x="388.85" y="35.27" width="9.21" height="4.13" fill="#81bad8"/><rect x="397.45" y="35.27" width="9.21" height="4.13" fill="#acd2e5"/><rect x="406.06" y="35.27" width="9.21" height="4.13" fill="#bddbea"/><rect x="414.67" y="35.27" width="9.21" height="4.13" fill="#cae1ee"/><rect x="423.28" y="35.27" width="9.21" height="4.13" fill="#d4e6f1"/><rect x="431.88" y="35.27" width="9.21" height="4.13" fill="#ddebf2"/><rect x="440.49" y="35.27" width="9.21" height="4.13" fill="#e0ecf3"/><rect x="337.20" y="38.80" width="9.21" height="4.13" fill="#68abd0"/><rect x="345.81" y="38.80" width="9.21" height="4.13" fill="#68abd0"/><rect x="354.42" y="38.80" width="9.21" height="4.13" fill="#71b0d3"/><rect x="363.02" y="38.80" width="9.21" height="4.13" fill="#7bb6d6"/><rect x="371.63" y="38.80" width="9.21" height="4.13" fill="#81bad8"/><rect x="380.24" y="38.80" width="9.21" height="4.13" fill="#8ac0db"/><rect x="388.85" y="38.80" width="9.21" height="4.13" fill="#90c4dd"/><rect x="397.45" y="38.80" width="9.21" height="4.13" fill="#b8d8e9"/><rect x="406.06" y="38.80" width="9.21" height="4.13" fill="#cae1ee"/><rect x="414.67" y="38.80" width="9.21" height="4.13" fill="#d4e6f1"/><rect x="423.28" y="38.80" width="9.21" height="4.13" fill="#e0ecf3"/><rect x="431.88" y="38.80" width="9.21" height="4.13" fill="#e4eef4"/><rect x="440.49" y="38.80" width="9.21" height="4.13" fill="#e7f0f4"/><rect x="337.20" y="42.34" width="9.21" height="4.13" fill="#7bb6d6"/><rect x="345.81" y="42.34" width="9.21" height="4.13" fill="#7bb6d6"/><rect x="354.42" y="42.34" width="9.21" height="4.13" fill="#81bad8"/><rect x="363.02" y="42.34" width="9.21" height="4.13" fill="#8ac0db"/><rect x="371.63" y="42.34" width="9.21" height="4.13" fill="#90c4dd"/><rect x="380.24" y="42.34" width="9.21" height="4.13" fill="#98c8e0"/><rect x="388.85" y="42.34" width="9.21" height="4.13" fill="#9dcbe1"/><rect x="397.45" y="42.34" width="9.21" height="4.13" fill="#c5dfec"/><rect x="406.06" y="42.34" width="9.21" height="4.13" fill="#d8e9f1"/><rect x="414.67" y="42.34" width="9.21" height="4.13" fill="#e0ecf3"/><rect x="423.28" y="42.34" width="9.21" height="4.13" fill="#e7f0f4"/><rect x="431.88" y="42.34" width="9.21" height="4.13" fill="#eff3f5"/><rect x="440.49" y="42.34" width="9.21" height="4.13" fill="#eff3f5"/><rect x="337.20" y="45.88" width="9.21" height="4.13" fill="#90c4dd"/><rect x="345.81" y="45.88" width="9.21" height="4.13" fill="#90c4dd"/><rect x="354.42" y="45.88" width="9.21" height="4.13" fill="#98c8e0"/><rect x="363.02" y="45.88" width="9.21" height="4.13" fill="#9dcbe1"/><rect x="371.63" y="45.88" width="9.21" height="4.13" fill="#9dcbe1"/><rect x="380.24" y="45.88" width="9.21" height="4.13" fill="#a5cee3"/><rect x="388.85" y="45.88" width="9.21" height="4.13" fill="#acd2e5"/><rect x="397.45" y="45.88" width="9.21" height="4.13" fill="#d4e6f1"/><rect x="406.06" y="45.88" width="9.21" height="4.13" fill="#ecf2f5"/><rect x="414.67" y="45.88" width="9.21" height="4.13" fill="#f3f5f6"/><rect x="423.28" y="45.88" width="9.21" height="4.13" fill="#f6f7f7"/><rect x="431.88" y="45.88" width="9.21" height="4.13" fill="#f8f3f0"/><rect x="440.49" y="45.88" width="9.21" height="4.13" fill="#f6f7f7"/><rect x="337.20" y="49.41" width="9.21" height="4.13" fill="#9dcbe1"/><rect x="345.81" y="49.41" width="9.21" height="4.13" fill="#a5cee3"/><rect x="354.42" y="49.41" width="9.21" height="4.13" fill="#acd2e5"/><rect x="363.02" y="49.41" width="9.21" height="4.13" fill="#acd2e5"/><rect x="371.63" y="49.41" width="9.21" height="4.13" fill="#acd2e5"/><rect x="380.24" y="49.41" width="9.21" height="4.13" fill="#b1d5e7"/><rect x="388.85" y="49.41" width="9.21" height="4.13" fill="#bddbea"/><rect x="397.45" y="49.41" width="9.21" height="4.13" fill="#ecf2f5"/><rect x="406.06" y="49.41" width="9.21" height="4.13" fill="#fae8de"/><rect x="414.67" y="49.41" width="9.21" height="4.13" fill="#fae8de"/><rect x="423.28" y="49.41" width="9.21" height="4.13" fill="#fae8de"/><rect x="431.88" y="49.41" width="9.21" height="4.13" fill="#fae8de"/><rect x="440.49" y="49.41" width="9.21" height="4.13" fill="#fae8de"/><rect x="337.20" y="52.95" width="9.21" height="4.13" fill="#c5dfec"/><rect x="345.81" y="52.95" width="9.21" height="4.13" fill="#c5dfec"/><rect x="354.42" y="52.95" width="9.21" height="4.13" fill="#c5dfec"/><rect x="363.02" y="52.95" width="9.21" height="4.13" fill="#c5dfec"/><rect x="371.63" y="52.95" width="9.21" height="4.13" fill="#c5dfec"/><rect x="380.24" y="52.95" width="9.21" height="4.13" fill="#cae1ee"/><rect x="388.85" y="52.95" width="9.21" height="4.13" fill="#d8e9f1"/><rect x="397.45" y="52.95" width="9.21" height="4.13" fill="#f3f5f6"/><rect x="406.06" y="52.95" width="9.21" height="4.13" fill="#fdddcb"/><rect x="414.67" y="52.95" width="9.21" height="4.13" fill="#fce2d2"/><rect x="423.28" y="52.95" width="9.21" height="4.13" fill="#fce2d2"/><rect x="431.88" y="52.95" width="9.21" height="4.13" fill="#fce2d2"/><rect x="440.49" y="52.95" width="9.21" height="4.13" fill="#fbe5d8"/><rect x="337.20" y="56.48" width="9.21" height="4.13" fill="#ecf2f5"/><rect x="345.81" y="56.48" width="9.21" height="4.13" fill="#eff3f5"/><rect x="354.42" y="56.48" width="9.21" height="4.13" fill="#f3f5f6"/><rect x="363.02" y="56.48" width="9.21" height="4.13" fill="#f3f5f6"/><rect x="371.63" y="56.48" width="9.21" height="4.13" fill="#f3f5f6"/><rect x="380.24" y="56.48" width="9.21" height="4.13" fill="#f6f7f7"/><rect x="388.85" y="56.48" width="9.21" height="4.13" fill="#f8f3f0"/><rect x="397.45" y="56.48" width="9.21" height="4.13" fill="#f9ede5"/><rect x="406.06" y="56.48" width="9.21" height="4.13" fill="#fce2d2"/><rect x="414.67" y="56.48" width="9.21" height="4.13" fill="#fce2d2"/><rect x="423.28" y="56.48" width="9.21" height="4.13" fill="#fce2d2"/><rect x="431.88" y="56.48" width="9.21" height="4.13" fill="#fce2d2"/><rect x="440.49" y="56.48" width="9.21" height="4.13" fill="#fce2d2"/><rect x="337.20" y="60.02" width="9.21" height="4.13" fill="#eff3f5"/><rect x="345.81" y="60.02" width="9.21" height="4.13" fill="#f6f7f7"/><rect x="354.42" y="60.02" width="9.21" height="4.13" fill="#f9f0eb"/><rect x="363.02" y="60.02" width="9.21" height="4.13" fill="#f9ede5"/><rect x="371.63" y="60.02" width="9.21" height="4.13" fill="#f9ede5"/><rect x="380.24" y="60.02" width="9.21" height="4.13" fill="#fae8de"/><rect x="388.85" y="60.02" width="9.21" height="4.13" fill="#fbe5d8"/><rect x="397.45" y="60.02" width="9.21" height="4.13" fill="#fce2d2"/><rect x="406.06" y="60.02" width="9.21" height="4.13" fill="#fce2d2"/><rect x="414.67" y="60.02" width="9.21" height="4.13" fill="#fce2d2"/><rect x="423.28" y="60.02" width="9.21" height="4.13" fill="#fce2d2"/><rect x="431.88" y="60.02" width="9.21" height="4.13" fill="#fce2d2"/><rect x="440.49" y="60.02" width="9.21" height="4.13" fill="#fce2d2"/><rect x="337.20" y="63.55" width="9.21" height="4.13" fill="#ecf2f5"/><rect x="345.81" y="63.55" width="9.21" height="4.13" fill="#fae8de"/><rect x="354.42" y="63.55" width="9.21" height="4.13" fill="#fce2d2"/><rect x="363.02" y="63.55" width="9.21" height="4.13" fill="#fdddcb"/><rect x="371.63" y="63.55" width="9.21" height="4.13" fill="#fdddcb"/><rect x="380.24" y="63.55" width="9.21" height="4.13" fill="#fce2d2"/><rect x="388.85" y="63.55" width="9.21" height="4.13" fill="#fbe5d8"/><rect x="397.45" y="63.55" width="9.21" height="4.13" fill="#fce2d2"/><rect x="406.06" y="63.55" width="9.21" height="4.13" fill="#fce2d2"/><rect x="414.67" y="63.55" width="9.21" height="4.13" fill="#fce2d2"/><rect x="423.28" y="63.55" width="9.21" height="4.13" fill="#fce2d2"/><rect x="431.88" y="63.55" width="9.21" height="4.13" fill="#fbe5d8"/><rect x="440.49" y="63.55" width="9.21" height="4.13" fill="#fae8de"/><rect x="337.20" y="67.09" width="9.21" height="4.13" fill="#ecf2f5"/><rect x="345.81" y="67.09" width="9.21" height="4.13" fill="#fae8de"/><rect x="354.42" y="67.09" width="9.21" height="4.13" fill="#fce2d2"/><rect x="363.02" y="67.09" width="9.21" height="4.13" fill="#fdddcb"/><rect x="371.63" y="67.09" width="9.21" height="4.13" fill="#fdddcb"/><rect x="380.24" y="67.09" width="9.21" height="4.13" fill="#fce2d2"/><rect x="388.85" y="67.09" width="9.21" height="4.13" fill="#fae8de"/><rect x="397.45" y="67.09" width="9.21" height="4.13" fill="#fae8de"/><rect x="406.06" y="67.09" width="9.21" height="4.13" fill="#fae8de"/><rect x="414.67" y="67.09" width="9.21" height="4.13" fill="#fce2d2"/><rect x="423.28" y="67.09" width="9.21" height="4.13" fill="#fce2d2"/><rect x="431.88" y="67.09" width="9.21" height="4.13" fill="#fbe5d8"/><rect x="440.49" y="67.09" width="9.21" height="4.13" fill="#fae8de"/><rect x="337.20" y="70.62" width="9.21" height="4.13" fill="#f3f5f6"/><rect x="345.81" y="70.62" width="9.21" height="4.13" fill="#fae8de"/><rect x="354.42" y="70.62" width="9.21" height="4.13" fill="#fbe5d8"/><rect x="363.02" y="70.62" width="9.21" height="4.13" fill="#fce2d2"/><rect x="371.63" y="70.62" width="9.21" height="4.13" fill="#fce2d2"/><rect x="380.24" y="70.62" width="9.21" height="4.13" fill="#fce2d2"/><rect x="388.85" y="70.62" width="9.21" height="4.13" fill="#fae8de"/><rect x="397.45" y="70.62" width="9.21" height="4.13" fill="#f8f3f0"/><rect x="406.06" y="70.62" width="9.21" height="4.13" fill="#f9f0eb"/><rect x="414.67" y="70.62" width="9.21" height="4.13" fill="#fce2d2"/><rect x="423.28" y="70.62" width="9.21" height="4.13" fill="#fce2d2"/><rect x="431.88" y="70.62" width="9.21" height="4.13" fill="#fbe5d8"/><rect x="440.49" y="70.62" width="9.21" height="4.13" fill="#fae8de"/><rect x="337.20" y="74.16" width="9.21" height="4.13" fill="#f9f0eb"/><rect x="345.81" y="74.16" width="9.21" height="4.13" fill="#fbe5d8"/><rect x="354.42" y="74.16" width="9.21" height="4.13" fill="#fae8de"/><rect x="363.02" y="74.16" width="9.21" height="4.13" fill="#fbe5d8"/><rect x="371.63" y="74.16" width="9.21" height="4.13" fill="#fce2d2"/><rect x="380.24" y="74.16" width="9.21" height="4.13" fill="#fce2d2"/><rect x="388.85" y="74.16" width="9.21" height="4.13" fill="#fbe5d8"/><rect x="397.45" y="74.16" width="9.21" height="4.13" fill="#f9f0eb"/><rect x="406.06" y="74.16" width="9.21" height="4.13" fill="#f9f0eb"/><rect x="414.67" y="74.16" width="9.21" height="4.13" fill="#fae8de"/><rect x="423.28" y="74.16" width="9.21" height="4.13" fill="#fae8de"/><rect x="431.88" y="74.16" width="9.21" height="4.13" fill="#fae8de"/><rect x="440.49" y="74.16" width="9.21" height="4.13" fill="#fae8de"/><rect x="337.20" y="77.69" width="9.21" height="4.13" fill="#fae8de"/><rect x="345.81" y="77.69" width="9.21" height="4.13" fill="#fbe5d8"/><rect x="354.42" y="77.69" width="9.21" height="4.13" fill="#f9ede5"/><rect x="363.02" y="77.69" width="9.21" height="4.13" fill="#f9ede5"/><rect x="371.63" y="77.69" width="9.21" height="4.13" fill="#fbe5d8"/><rect x="380.24" y="77.69" width="9.21" height="4.13" fill="#fce2d2"/><rect x="388.85" y="77.69" width="9.21" height="4.13" fill="#fce2d2"/><rect x="397.45" y="77.69" width="9.21" height="4.13" fill="#fbe5d8"/><rect x="406.06" y="77.69" width="9.21" height="4.13" fill="#fbe5d8"/><rect x="414.67" y="77.69" width="9.21" height="4.13" fill="#fbe5d8"/><rect x="423.28" y="77.69" width="9.21" height="4.13" fill="#fbe5d8"/><rect x="431.88" y="77.69" width="9.21" height="4.13" fill="#fbe5d8"/><rect x="440.49" y="77.69" width="9.21" height="4.13" fill="#fbe5d8"/><rect x="337.20" y="81.23" width="9.21" height="4.13" fill="#fbe5d8"/><rect x="345.81" y="81.23" width="9.21" height="4.13" fill="#fbe5d8"/><rect x="354.42" y="81.23" width="9.21" height="4.13" fill="#fae8de"/><rect x="363.02" y="81.23" width="9.21" height="4.13" fill="#fae8de"/><rect x="371.63" y="81.23" width="9.21" height="4.13" fill="#fbe5d8"/><rect x="380.24" y="81.23" width="9.21" height="4.13" fill="#fce2d2"/><rect x="388.85" y="81.23" width="9.21" height="4.13" fill="#fce2d2"/><rect x="397.45" y="81.23" width="9.21" height="4.13" fill="#fce2d2"/><rect x="406.06" y="81.23" width="9.21" height="4.13" fill="#fce2d2"/><rect x="414.67" y="81.23" width="9.21" height="4.13" fill="#fce2d2"/><rect x="423.28" y="81.23" width="9.21" height="4.13" fill="#fce2d2"/><rect x="431.88" y="81.23" width="9.21" height="4.13" fill="#fce2d2"/><rect x="440.49" y="81.23" width="9.21" height="4.13" fill="#fce2d2"/><rect x="337.20" y="84.76" width="9.21" height="4.13" fill="#fce2d2"/><rect x="345.81" y="84.76" width="9.21" height="4.13" fill="#fce2d2"/><rect x="354.42" y="84.76" width="9.21" height="4.13" fill="#fce2d2"/><rect x="363.02" y="84.76" width="9.21" height="4.13" fill="#fce2d2"/><rect x="371.63" y="84.76" width="9.21" height="4.13" fill="#fdddcb"/><rect x="380.24" y="84.76" width="9.21" height="4.13" fill="#fdddcb"/><rect x="388.85" y="84.76" width="9.21" height="4.13" fill="#fdddcb"/><rect x="397.45" y="84.76" width="9.21" height="4.13" fill="#fce2d2"/><rect x="406.06" y="84.76" width="9.21" height="4.13" fill="#fce2d2"/><rect x="414.67" y="84.76" width="9.21" height="4.13" fill="#fce2d2"/><rect x="423.28" y="84.76" width="9.21" height="4.13" fill="#fce2d2"/><rect x="431.88" y="84.76" width="9.21" height="4.13" fill="#fce2d2"/><rect x="440.49" y="84.76" width="9.21" height="4.13" fill="#fce2d2"/><rect x="337.20" y="88.30" width="9.21" height="4.13" fill="#fce2d2"/><rect x="345.81" y="88.30" width="9.21" height="4.13" fill="#fce2d2"/><rect x="354.42" y="88.30" width="9.21" height="4.13" fill="#fdddcb"/><rect x="363.02" y="88.30" width="9.21" height="4.13" fill="#fdd9c4"/><rect x="371.63" y="88.30" width="9.21" height="4.13" fill="#fdd9c4"/><rect x="380.24" y="88.30" width="9.21" height="4.13" fill="#fdddcb"/><rect x="388.85" y="88.30" width="9.21" height="4.13" fill="#fdddcb"/><rect x="397.45" y="88.30" width="9.21" height="4.13" fill="#fdddcb"/><rect x="406.06" y="88.30" width="9.21" height="4.13" fill="#fce2d2"/><rect x="414.67" y="88.30" width="9.21" height="4.13" fill="#fbe5d8"/><rect x="423.28" y="88.30" width="9.21" height="4.13" fill="#fbe5d8"/><rect x="431.88" y="88.30" width="9.21" height="4.13" fill="#fce2d2"/><rect x="440.49" y="88.30" width="9.21" height="4.13" fill="#fce2d2"/><rect x="337.20" y="91.83" width="9.21" height="4.13" fill="#fce2d2"/><rect x="345.81" y="91.83" width="9.21" height="4.13" fill="#fdddcb"/><rect x="354.42" y="91.83" width="9.21" height="4.13" fill="#fdddcb"/><rect x="363.02" y="91.83" width="9.21" height="4.13" fill="#fcd3bc"/><rect x="371.63" y="91.83" width="9.21" height="4.13" fill="#fdd9c4"/><rect x="380.24" y="91.83" width="9.21" height="4.13" fill="#fdddcb"/><rect x="388.85" y="91.83" width="9.21" height="4.13" fill="#fdddcb"/><rect x="397.45" y="91.83" width="9.21" height="4.13" fill="#fdddcb"/><rect x="406.06" y="91.83" width="9.21" height="4.13" fill="#fce2d2"/><rect x="414.67" y="91.83" width="9.21" height="4.13" fill="#fbe5d8"/><rect x="423.28" y="91.83" width="9.21" height="4.13" fill="#fae8de"/><rect x="431.88" y="91.83" width="9.21" height="4.13" fill="#fbe5d8"/><rect x="440.49" y="91.83" width="9.21" height="4.13" fill="#fbe5d8"/><rect x="337.20" y="95.37" width="9.21" height="4.13" fill="#fce2d2"/><rect x="345.81" y="95.37" width="9.21" height="4.13" fill="#fdddcb"/><rect x="354.42" y="95.37" width="9.21" height="4.13" fill="#fdddcb"/><rect x="363.02" y="95.37" width="9.21" height="4.13" fill="#fdd9c4"/><rect x="371.63" y="95.37" width="9.21" height="4.13" fill="#fdd9c4"/><rect x="380.24" y="95.37" width="9.21" height="4.13" fill="#fdddcb"/><rect x="388.85" y="95.37" width="9.21" height="4.13" fill="#fdddcb"/><rect x="397.45" y="95.37" width="9.21" height="4.13" fill="#fdddcb"/><rect x="406.06" y="95.37" width="9.21" height="4.13" fill="#fce2d2"/><rect x="414.67" y="95.37" width="9.21" height="4.13" fill="#fae8de"/><rect x="423.28" y="95.37" width="9.21" height="4.13" fill="#f9ede5"/><rect x="431.88" y="95.37" width="9.21" height="4.13" fill="#fae8de"/><rect x="440.49" y="95.37" width="9.21" height="4.13" fill="#fae8de"/></g>
<rect x="337.20" y="28.20" width="111.90" height="70.70" fill="none" stroke="#000" stroke-width="1.40"/>
<path d="M332.00 39.70H337.20M332.00 98.90H337.20M337.20 98.90V104.10M396.40 98.90V104.10" stroke="#000" stroke-width="1.40" fill="none"/>
<g filter="url(#bl)" shape-rendering="crispEdges"><rect x="460.60" y="28.20" width="9.21" height="4.13" fill="#fae9df"/><rect x="469.21" y="28.20" width="9.21" height="4.13" fill="#fbe4d6"/><rect x="477.82" y="28.20" width="9.21" height="4.13" fill="#fce0d0"/><rect x="486.42" y="28.20" width="9.21" height="4.13" fill="#fdddcb"/><rect x="495.03" y="28.20" width="9.21" height="4.13" fill="#fddbc7"/><rect x="503.64" y="28.20" width="9.21" height="4.13" fill="#fddbc7"/><rect x="512.25" y="28.20" width="9.21" height="4.13" fill="#fddbc7"/><rect x="520.85" y="28.20" width="9.21" height="4.13" fill="#fddbc7"/><rect x="529.46" y="28.20" width="9.21" height="4.13" fill="#fdd9c4"/><rect x="538.07" y="28.20" width="9.21" height="4.13" fill="#fdddcb"/><rect x="546.68" y="28.20" width="9.21" height="4.13" fill="#fdddcb"/><rect x="555.28" y="28.20" width="9.21" height="4.13" fill="#fbe3d4"/><rect x="563.89" y="28.20" width="9.21" height="4.13" fill="#f9ebe3"/><rect x="460.60" y="31.73" width="9.21" height="4.13" fill="#f9c6ac"/><rect x="469.21" y="31.73" width="9.21" height="4.13" fill="#f8bfa4"/><rect x="477.82" y="31.73" width="9.21" height="4.13" fill="#f8bfa4"/><rect x="486.42" y="31.73" width="9.21" height="4.13" fill="#f8bb9e"/><rect x="495.03" y="31.73" width="9.21" height="4.13" fill="#f8bb9e"/><rect x="503.64" y="31.73" width="9.21" height="4.13" fill="#f8bb9e"/><rect x="512.25" y="31.73" width="9.21" height="4.13" fill="#f7b596"/><rect x="520.85" y="31.73" width="9.21" height="4.13" fill="#f7b596"/><rect x="529.46" y="31.73" width="9.21" height="4.13" fill="#f6b394"/><rect x="538.07" y="31.73" width="9.21" height="4.13" fill="#f7b799"/><rect x="546.68" y="31.73" width="9.21" height="4.13" fill="#f7b799"/><rect x="555.28" y="31.73" width="9.21" height="4.13" fill="#f8bda1"/><rect x="563.89" y="31.73" width="9.21" height="4.13" fill="#fbceb7"/><rect x="460.60" y="35.27" width="9.21" height="4.13" fill="#f3a481"/><rect x="469.21" y="35.27" width="9.21" height="4.13" fill="#f19e7d"/><rect x="477.82" y="35.27" width="9.21" height="4.13" fill="#ee9677"/><rect x="486.42" y="35.27" width="9.21" height="4.13" fill="#ee9677"/><rect x="495.03" y="35.27" width="9.21" height="4.13" fill="#ee9677"/><rect x="503.64" y="35.27" width="9.21" height="4.13" fill="#ee9677"/><rect x="512.25" y="35.27" width="9.21" height="4.13" fill="#eb9172"/><rect x="520.85" y="35.27" width="9.21" height="4.13" fill="#eb9172"/><rect x="529.46" y="35.27" width="9.21" height="4.13" fill="#e98b6e"/><rect x="538.07" y="35.27" width="9.21" height="4.13" fill="#e98b6e"/><rect x="546.68" y="35.27" width="9.21" height="4.13" fill="#eb9172"/><rect x="555.28" y="35.27" width="9.21" height="4.13" fill="#ef9979"/><rect x="563.89" y="35.27" width="9.21" height="4.13" fill="#f5ac8b"/><rect x="460.60" y="38.80" width="9.21" height="4.13" fill="#e58368"/><rect x="469.21" y="38.80" width="9.21" height="4.13" fill="#de735c"/><rect x="477.82" y="38.80" width="9.21" height="4.13" fill="#dc6e57"/><rect x="486.42" y="38.80" width="9.21" height="4.13" fill="#dc6e57"/><rect x="495.03" y="38.80" width="9.21" height="4.13" fill="#dc6e57"/><rect x="503.64" y="38.80" width="9.21" height="4.13" fill="#dc6e57"/><rect x="512.25" y="38.80" width="9.21" height="4.13" fill="#d86551"/><rect x="520.85" y="38.80" width="9.21" height="4.13" fill="#d86551"/><rect x="529.46" y="38.80" width="9.21" height="4.13" fill="#d6604d"/><rect x="538.07" y="38.80" width="9.21" height="4.13" fill="#d6604d"/><rect x="546.68" y="38.80" width="9.21" height="4.13" fill="#da6853"/><rect x="555.28" y="38.80" width="9.21" height="4.13" fill="#dc6e57"/><rect x="563.89" y="38.80" width="9.21" height="4.13" fill="#e58368"/><rect x="460.60" y="42.34" width="9.21" height="4.13" fill="#d25849"/><rect x="469.21" y="42.34" width="9.21" height="4.13" fill="#cb4942"/><rect x="477.82" y="42.34" width="9.21" height="4.13" fill="#c6413e"/><rect x="486.42" y="42.34" width="9.21" height="4.13" fill="#c6413e"/><rect x="495.03" y="42.34" width="9.21" height="4.13" fill="#c6413e"/><rect x="503.64" y="42.34" width="9.21" height="4.13" fill="#c6413e"/><rect x="512.25" y="42.34" width="9.21" height="4.13" fill="#c43b3c"/><rect x="520.85" y="42.34" width="9.21" height="4.13" fill="#c43b3c"/><rect x="529.46" y="42.34" width="9.21" height="4.13" fill="#bf3338"/><rect x="538.07" y="42.34" width="9.21" height="4.13" fill="#c43b3c"/><rect x="546.68" y="42.34" width="9.21" height="4.13" fill="#c6413e"/><rect x="555.28" y="42.34" width="9.21" height="4.13" fill="#cb4942"/><rect x="563.89" y="42.34" width="9.21" height="4.13" fill="#d6604d"/><rect x="460.60" y="45.88" width="9.21" height="4.13" fill="#bf3338"/><rect x="469.21" y="45.88" width="9.21" height="4.13" fill="#b61f2e"/><rect x="477.82" y="45.88" width="9.21" height="4.13" fill="#b61f2e"/><rect x="486.42" y="45.88" width="9.21" height="4.13" fill="#b61f2e"/><rect x="495.03" y="45.88" width="9.21" height="4.13" fill="#b61f2e"/><rect x="503.64" y="45.88" width="9.21" height="4.13" fill="#b61f2e"/><rect x="512.25" y="45.88" width="9.21" height="4.13" fill="#b61f2e"/><rect x="520.85" y="45.88" width="9.21" height="4.13" fill="#b61f2e"/><rect x="529.46" y="45.88" width="9.21" height="4.13" fill="#b61f2e"/><rect x="538.07" y="45.88" width="9.21" height="4.13" fill="#bb2a34"/><rect x="546.68" y="45.88" width="9.21" height="4.13" fill="#bf3338"/><rect x="555.28" y="45.88" width="9.21" height="4.13" fill="#c53e3d"/><rect x="563.89" y="45.88" width="9.21" height="4.13" fill="#cf5246"/><rect x="460.60" y="49.41" width="9.21" height="4.13" fill="#b3192c"/><rect x="469.21" y="49.41" width="9.21" height="4.13" fill="#9f1228"/><rect x="477.82" y="49.41" width="9.21" height="4.13" fill="#9f1228"/><rect x="486.42" y="49.41" width="9.21" height="4.13" fill="#9f1228"/><rect x="495.03" y="49.41" width="9.21" height="4.13" fill="#9f1228"/><rect x="503.64" y="49.41" width="9.21" height="4.13" fill="#9f1228"/><rect x="512.25" y="49.41" width="9.21" height="4.13" fill="#9f1228"/><rect x="520.85" y="49.41" width="9.21" height="4.13" fill="#9f1228"/><rect x="529.46" y="49.41" width="9.21" height="4.13" fill="#9f1228"/><rect x="538.07" y="49.41" width="9.21" height="4.13" fill="#ab162a"/><rect x="546.68" y="49.41" width="9.21" height="4.13" fill="#b3192c"/><rect x="555.28" y="49.41" width="9.21" height="4.13" fill="#b82531"/><rect x="563.89" y="49.41" width="9.21" height="4.13" fill="#c2383a"/><rect x="460.60" y="52.95" width="9.21" height="4.13" fill="#ae172a"/><rect x="469.21" y="52.95" width="9.21" height="4.13" fill="#960f27"/><rect x="477.82" y="52.95" width="9.21" height="4.13" fill="#960f27"/><rect x="486.42" y="52.95" width="9.21" height="4.13" fill="#960f27"/><rect x="495.03" y="52.95" width="9.21" height="4.13" fill="#960f27"/><rect x="503.64" y="52.95" width="9.21" height="4.13" fill="#960f27"/><rect x="512.25" y="52.95" width="9.21" height="4.13" fill="#960f27"/><rect x="520.85" y="52.95" width="9.21" height="4.13" fill="#960f27"/><rect x="529.46" y="52.95" width="9.21" height="4.13" fill="#960f27"/><rect x="538.07" y="52.95" width="9.21" height="4.13" fill="#a21328"/><rect x="546.68" y="52.95" width="9.21" height="4.13" fill="#ae172a"/><rect x="555.28" y="52.95" width="9.21" height="4.13" fill="#b61f2e"/><rect x="563.89" y="52.95" width="9.21" height="4.13" fill="#be3036"/><rect x="460.60" y="56.48" width="9.21" height="4.13" fill="#b3192c"/><rect x="469.21" y="56.48" width="9.21" height="4.13" fill="#9f1228"/><rect x="477.82" y="56.48" width="9.21" height="4.13" fill="#9f1228"/><rect x="486.42" y="56.48" width="9.21" height="4.13" fill="#9f1228"/><rect x="495.03" y="56.48" width="9.21" height="4.13" fill="#9f1228"/><rect x="503.64" y="56.48" width="9.21" height="4.13" fill="#9f1228"/><rect x="512.25" y="56.48" width="9.21" height="4.13" fill="#9f1228"/><rect x="520.85" y="56.48" width="9.21" height="4.13" fill="#9f1228"/><rect x="529.46" y="56.48" width="9.21" height="4.13" fill="#9f1228"/><rect x="538.07" y="56.48" width="9.21" height="4.13" fill="#ab162a"/><rect x="546.68" y="56.48" width="9.21" height="4.13" fill="#b3192c"/><rect x="555.28" y="56.48" width="9.21" height="4.13" fill="#b82531"/><rect x="563.89" y="56.48" width="9.21" height="4.13" fill="#c2383a"/><rect x="460.60" y="60.02" width="9.21" height="4.13" fill="#bd2d35"/><rect x="469.21" y="60.02" width="9.21" height="4.13" fill="#b1182b"/><rect x="477.82" y="60.02" width="9.21" height="4.13" fill="#b1182b"/><rect x="486.42" y="60.02" width="9.21" height="4.13" fill="#b1182b"/><rect x="495.03" y="60.02" width="9.21" height="4.13" fill="#b1182b"/><rect x="503.64" y="60.02" width="9.21" height="4.13" fill="#b1182b"/><rect x="512.25" y="60.02" width="9.21" height="4.13" fill="#b1182b"/><rect x="520.85" y="60.02" width="9.21" height="4.13" fill="#b1182b"/><rect x="529.46" y="60.02" width="9.21" height="4.13" fill="#b1182b"/><rect x="538.07" y="60.02" width="9.21" height="4.13" fill="#b72230"/><rect x="546.68" y="60.02" width="9.21" height="4.13" fill="#bd2d35"/><rect x="555.28" y="60.02" width="9.21" height="4.13" fill="#c2383a"/><rect x="563.89" y="60.02" width="9.21" height="4.13" fill="#cb4942"/><rect x="460.60" y="63.55" width="9.21" height="4.13" fill="#bd2d35"/><rect x="469.21" y="63.55" width="9.21" height="4.13" fill="#b61f2e"/><rect x="477.82" y="63.55" width="9.21" height="4.13" fill="#b61f2e"/><rect x="486.42" y="63.55" width="9.21" height="4.13" fill="#b61f2e"/><rect x="495.03" y="63.55" width="9.21" height="4.13" fill="#b61f2e"/><rect x="503.64" y="63.55" width="9.21" height="4.13" fill="#b61f2e"/><rect x="512.25" y="63.55" width="9.21" height="4.13" fill="#ba2832"/><rect x="520.85" y="63.55" width="9.21" height="4.13" fill="#bd2d35"/><rect x="529.46" y="63.55" width="9.21" height="4.13" fill="#be3036"/><rect x="538.07" y="63.55" width="9.21" height="4.13" fill="#c13639"/><rect x="546.68" y="63.55" width="9.21" height="4.13" fill="#c13639"/><rect x="555.28" y="63.55" width="9.21" height="4.13" fill="#c53e3d"/><rect x="563.89" y="63.55" width="9.21" height="4.13" fill="#c94741"/><rect x="460.60" y="67.09" width="9.21" height="4.13" fill="#d55d4c"/><rect x="469.21" y="67.09" width="9.21" height="4.13" fill="#ce4f45"/><rect x="477.82" y="67.09" width="9.21" height="4.13" fill="#ce4f45"/><rect x="486.42" y="67.09" width="9.21" height="4.13" fill="#ce4f45"/><rect x="495.03" y="67.09" width="9.21" height="4.13" fill="#ce4f45"/><rect x="503.64" y="67.09" width="9.21" height="4.13" fill="#ce4f45"/><rect x="512.25" y="67.09" width="9.21" height="4.13" fill="#d05548"/><rect x="520.85" y="67.09" width="9.21" height="4.13" fill="#d55d4c"/><rect x="529.46" y="67.09" width="9.21" height="4.13" fill="#d6604d"/><rect x="538.07" y="67.09" width="9.21" height="4.13" fill="#d6604d"/><rect x="546.68" y="67.09" width="9.21" height="4.13" fill="#d86551"/><rect x="555.28" y="67.09" width="9.21" height="4.13" fill="#d86551"/><rect x="563.89" y="67.09" width="9.21" height="4.13" fill="#dc6e57"/><rect x="460.60" y="70.62" width="9.21" height="4.13" fill="#e98b6e"/><rect x="469.21" y="70.62" width="9.21" height="4.13" fill="#e58368"/><rect x="477.82" y="70.62" width="9.21" height="4.13" fill="#e58368"/><rect x="486.42" y="70.62" width="9.21" height="4.13" fill="#e58368"/><rect x="495.03" y="70.62" width="9.21" height="4.13" fill="#e58368"/><rect x="503.64" y="70.62" width="9.21" height="4.13" fill="#e58368"/><rect x="512.25" y="70.62" width="9.21" height="4.13" fill="#e98b6e"/><rect x="520.85" y="70.62" width="9.21" height="4.13" fill="#eb9172"/><rect x="529.46" y="70.62" width="9.21" height="4.13" fill="#ea8e70"/><rect x="538.07" y="70.62" width="9.21" height="4.13" fill="#ee9677"/><rect x="546.68" y="70.62" width="9.21" height="4.13" fill="#ee9677"/><rect x="555.28" y="70.62" width="9.21" height="4.13" fill="#ee9677"/><rect x="563.89" y="70.62" width="9.21" height="4.13" fill="#ee9677"/><rect x="460.60" y="74.16" width="9.21" height="4.13" fill="#f8bfa4"/><rect x="469.21" y="74.16" width="9.21" height="4.13" fill="#f8bb9e"/><rect x="477.82" y="74.16" width="9.21" height="4.13" fill="#f8bb9e"/><rect x="486.42" y="74.16" width="9.21" height="4.13" fill="#f8bb9e"/><rect x="495.03" y="74.16" width="9.21" height="4.13" fill="#f8bb9e"/><rect x="503.64" y="74.16" width="9.21" height="4.13" fill="#f8bb9e"/><rect x="512.25" y="74.16" width="9.21" height="4.13" fill="#f8bfa4"/><rect x="520.85" y="74.16" width="9.21" height="4.13" fill="#f9c6ac"/><rect x="529.46" y="74.16" width="9.21" height="4.13" fill="#f9c4a9"/><rect x="538.07" y="74.16" width="9.21" height="4.13" fill="#f9c4a9"/><rect x="546.68" y="74.16" width="9.21" height="4.13" fill="#f9c4a9"/><rect x="555.28" y="74.16" width="9.21" height="4.13" fill="#f9c4a9"/><rect x="563.89" y="74.16" width="9.21" height="4.13" fill="#fac8af"/><rect x="460.60" y="77.69" width="9.21" height="4.13" fill="#fbe6da"/><rect x="469.21" y="77.69" width="9.21" height="4.13" fill="#fce0d0"/><rect x="477.82" y="77.69" width="9.21" height="4.13" fill="#fce0d0"/><rect x="486.42" y="77.69" width="9.21" height="4.13" fill="#fce0d0"/><rect x="495.03" y="77.69" width="9.21" height="4.13" fill="#fce0d0"/><rect x="503.64" y="77.69" width="9.21" height="4.13" fill="#fce0d0"/><rect x="512.25" y="77.69" width="9.21" height="4.13" fill="#fbe4d6"/><rect x="520.85" y="77.69" width="9.21" height="4.13" fill="#fbe6da"/><rect x="529.46" y="77.69" width="9.21" height="4.13" fill="#fbe6da"/><rect x="538.07" y="77.69" width="9.21" height="4.13" fill="#fbe6da"/><rect x="546.68" y="77.69" width="9.21" height="4.13" fill="#fbe6da"/><rect x="555.28" y="77.69" width="9.21" height="4.13" fill="#fbe6da"/><rect x="563.89" y="77.69" width="9.21" height="4.13" fill="#fae9df"/><rect x="460.60" y="81.23" width="9.21" height="4.13" fill="#eff3f5"/><rect x="469.21" y="81.23" width="9.21" height="4.13" fill="#f3f5f6"/><rect x="477.82" y="81.23" width="9.21" height="4.13" fill="#f3f5f6"/><rect x="486.42" y="81.23" width="9.21" height="4.13" fill="#f3f5f6"/><rect x="495.03" y="81.23" width="9.21" height="4.13" fill="#f3f5f6"/><rect x="503.64" y="81.23" width="9.21" height="4.13" fill="#f3f5f6"/><rect x="512.25" y="81.23" width="9.21" height="4.13" fill="#f3f5f6"/><rect x="520.85" y="81.23" width="9.21" height="4.13" fill="#f3f5f6"/><rect x="529.46" y="81.23" width="9.21" height="4.13" fill="#f3f5f6"/><rect x="538.07" y="81.23" width="9.21" height="4.13" fill="#f3f5f6"/><rect x="546.68" y="81.23" width="9.21" height="4.13" fill="#f3f5f6"/><rect x="555.28" y="81.23" width="9.21" height="4.13" fill="#f3f5f6"/><rect x="563.89" y="81.23" width="9.21" height="4.13" fill="#eff3f5"/><rect x="460.60" y="84.76" width="9.21" height="4.13" fill="#d8e9f1"/><rect x="469.21" y="84.76" width="9.21" height="4.13" fill="#d8e9f1"/><rect x="477.82" y="84.76" width="9.21" height="4.13" fill="#d8e9f1"/><rect x="486.42" y="84.76" width="9.21" height="4.13" fill="#d8e9f1"/><rect x="495.03" y="84.76" width="9.21" height="4.13" fill="#d8e9f1"/><rect x="503.64" y="84.76" width="9.21" height="4.13" fill="#d8e9f1"/><rect x="512.25" y="84.76" width="9.21" height="4.13" fill="#d8e9f1"/><rect x="520.85" y="84.76" width="9.21" height="4.13" fill="#d8e9f1"/><rect x="529.46" y="84.76" width="9.21" height="4.13" fill="#d8e9f1"/><rect x="538.07" y="84.76" width="9.21" height="4.13" fill="#d8e9f1"/><rect x="546.68" y="84.76" width="9.21" height="4.13" fill="#d8e9f1"/><rect x="555.28" y="84.76" width="9.21" height="4.13" fill="#d8e9f1"/><rect x="563.89" y="84.76" width="9.21" height="4.13" fill="#d4e6f1"/><rect x="460.60" y="88.30" width="9.21" height="4.13" fill="#b1d5e7"/><rect x="469.21" y="88.30" width="9.21" height="4.13" fill="#b1d5e7"/><rect x="477.82" y="88.30" width="9.21" height="4.13" fill="#b1d5e7"/><rect x="486.42" y="88.30" width="9.21" height="4.13" fill="#b1d5e7"/><rect x="495.03" y="88.30" width="9.21" height="4.13" fill="#b1d5e7"/><rect x="503.64" y="88.30" width="9.21" height="4.13" fill="#b1d5e7"/><rect x="512.25" y="88.30" width="9.21" height="4.13" fill="#b1d5e7"/><rect x="520.85" y="88.30" width="9.21" height="4.13" fill="#b1d5e7"/><rect x="529.46" y="88.30" width="9.21" height="4.13" fill="#b1d5e7"/><rect x="538.07" y="88.30" width="9.21" height="4.13" fill="#b1d5e7"/><rect x="546.68" y="88.30" width="9.21" height="4.13" fill="#b1d5e7"/><rect x="555.28" y="88.30" width="9.21" height="4.13" fill="#b1d5e7"/><rect x="563.89" y="88.30" width="9.21" height="4.13" fill="#acd2e5"/><rect x="460.60" y="91.83" width="9.21" height="4.13" fill="#81bad8"/><rect x="469.21" y="91.83" width="9.21" height="4.13" fill="#81bad8"/><rect x="477.82" y="91.83" width="9.21" height="4.13" fill="#81bad8"/><rect x="486.42" y="91.83" width="9.21" height="4.13" fill="#81bad8"/><rect x="495.03" y="91.83" width="9.21" height="4.13" fill="#81bad8"/><rect x="503.64" y="91.83" width="9.21" height="4.13" fill="#7bb6d6"/><rect x="512.25" y="91.83" width="9.21" height="4.13" fill="#7bb6d6"/><rect x="520.85" y="91.83" width="9.21" height="4.13" fill="#81bad8"/><rect x="529.46" y="91.83" width="9.21" height="4.13" fill="#7bb6d6"/><rect x="538.07" y="91.83" width="9.21" height="4.13" fill="#7bb6d6"/><rect x="546.68" y="91.83" width="9.21" height="4.13" fill="#7bb6d6"/><rect x="555.28" y="91.83" width="9.21" height="4.13" fill="#7bb6d6"/><rect x="563.89" y="91.83" width="9.21" height="4.13" fill="#71b0d3"/><rect x="460.60" y="95.37" width="9.21" height="4.13" fill="#4997c5"/><rect x="469.21" y="95.37" width="9.21" height="4.13" fill="#4997c5"/><rect x="477.82" y="95.37" width="9.21" height="4.13" fill="#4997c5"/><rect x="486.42" y="95.37" width="9.21" height="4.13" fill="#4997c5"/><rect x="495.03" y="95.37" width="9.21" height="4.13" fill="#4997c5"/><rect x="503.64" y="95.37" width="9.21" height="4.13" fill="#4393c3"/><rect x="512.25" y="95.37" width="9.21" height="4.13" fill="#4393c3"/><rect x="520.85" y="95.37" width="9.21" height="4.13" fill="#4997c5"/><rect x="529.46" y="95.37" width="9.21" height="4.13" fill="#4393c3"/><rect x="538.07" y="95.37" width="9.21" height="4.13" fill="#4393c3"/><rect x="546.68" y="95.37" width="9.21" height="4.13" fill="#4393c3"/><rect x="555.28" y="95.37" width="9.21" height="4.13" fill="#4393c3"/><rect x="563.89" y="95.37" width="9.21" height="4.13" fill="#3f8ec0"/></g>
<rect x="460.60" y="28.20" width="111.90" height="70.70" fill="none" stroke="#000" stroke-width="1.40"/>
<path d="M455.40 39.70H460.60M455.40 98.90H460.60M460.60 98.90V104.10M519.80 98.90V104.10" stroke="#000" stroke-width="1.40" fill="none"/>
<g filter="url(#bl)" shape-rendering="crispEdges"><rect x="90.50" y="112.80" width="9.21" height="4.10" fill="#2065ab"/><rect x="99.11" y="112.80" width="9.21" height="4.10" fill="#246aae"/><rect x="107.72" y="112.80" width="9.21" height="4.10" fill="#2b73b3"/><rect x="116.32" y="112.80" width="9.21" height="4.10" fill="#2b73b3"/><rect x="124.93" y="112.80" width="9.21" height="4.10" fill="#2e77b5"/><rect x="133.54" y="112.80" width="9.21" height="4.10" fill="#327cb7"/><rect x="142.15" y="112.80" width="9.21" height="4.10" fill="#327cb7"/><rect x="150.75" y="112.80" width="9.21" height="4.10" fill="#327cb7"/><rect x="159.36" y="112.80" width="9.21" height="4.10" fill="#2e77b5"/><rect x="167.97" y="112.80" width="9.21" height="4.10" fill="#2b73b3"/><rect x="176.58" y="112.80" width="9.21" height="4.10" fill="#276eb0"/><rect x="185.18" y="112.80" width="9.21" height="4.10" fill="#246aae"/><rect x="193.79" y="112.80" width="9.21" height="4.10" fill="#2065ab"/><rect x="90.50" y="116.30" width="9.21" height="4.10" fill="#3885bc"/><rect x="99.11" y="116.30" width="9.21" height="4.10" fill="#3f8ec0"/><rect x="107.72" y="116.30" width="9.21" height="4.10" fill="#4997c5"/><rect x="116.32" y="116.30" width="9.21" height="4.10" fill="#4997c5"/><rect x="124.93" y="116.30" width="9.21" height="4.10" fill="#529dc8"/><rect x="133.54" y="116.30" width="9.21" height="4.10" fill="#59a1ca"/><rect x="142.15" y="116.30" width="9.21" height="4.10" fill="#5fa5cd"/><rect x="150.75" y="116.30" width="9.21" height="4.10" fill="#62a7ce"/><rect x="159.36" y="116.30" width="9.21" height="4.10" fill="#59a1ca"/><rect x="167.97" y="116.30" width="9.21" height="4.10" fill="#4997c5"/><rect x="176.58" y="116.30" width="9.21" height="4.10" fill="#4393c3"/><rect x="185.18" y="116.30" width="9.21" height="4.10" fill="#3f8ec0"/><rect x="193.79" y="116.30" width="9.21" height="4.10" fill="#3c8abe"/><rect x="90.50" y="119.80" width="9.21" height="4.10" fill="#7bb6d6"/><rect x="99.11" y="119.80" width="9.21" height="4.10" fill="#90c4dd"/><rect x="107.72" y="119.80" width="9.21" height="4.10" fill="#9dcbe1"/><rect x="116.32" y="119.80" width="9.21" height="4.10" fill="#9dcbe1"/><rect x="124.93" y="119.80" width="9.21" height="4.10" fill="#acd2e5"/><rect x="133.54" y="119.80" width="9.21" height="4.10" fill="#b1d5e7"/><rect x="142.15" y="119.80" width="9.21" height="4.10" fill="#bbdaea"/><rect x="150.75" y="119.80" width="9.21" height="4.10" fill="#bddbea"/><rect x="159.36" y="119.80" width="9.21" height="4.10" fill="#b8d8e9"/><rect x="167.97" y="119.80" width="9.21" height="4.10" fill="#acd2e5"/><rect x="176.58" y="119.80" width="9.21" height="4.10" fill="#9dcbe1"/><rect x="185.18" y="119.80" width="9.21" height="4.10" fill="#98c8e0"/><rect x="193.79" y="119.80" width="9.21" height="4.10" fill="#90c4dd"/><rect x="90.50" y="123.30" width="9.21" height="4.10" fill="#acd2e5"/><rect x="99.11" y="123.30" width="9.21" height="4.10" fill="#c5dfec"/><rect x="107.72" y="123.30" width="9.21" height="4.10" fill="#d1e5f0"/><rect x="116.32" y="123.30" width="9.21" height="4.10" fill="#d4e6f1"/><rect x="124.93" y="123.30" width="9.21" height="4.10" fill="#d8e9f1"/><rect x="133.54" y="123.30" width="9.21" height="4.10" fill="#ddebf2"/><rect x="142.15" y="123.30" width="9.21" height="4.10" fill="#e1edf3"/><rect x="150.75" y="123.30" width="9.21" height="4.10" fill="#e4eef4"/><rect x="159.36" y="123.30" width="9.21" height="4.10" fill="#e4eef4"/><rect x="167.97" y="123.30" width="9.21" height="4.10" fill="#d8e9f1"/><rect x="176.58" y="123.30" width="9.21" height="4.10" fill="#d1e5f0"/><rect x="185.18" y="123.30" width="9.21" height="4.10" fill="#cae1ee"/><rect x="193.79" y="123.30" width="9.21" height="4.10" fill="#c5dfec"/><rect x="90.50" y="126.80" width="9.21" height="4.10" fill="#d8e9f1"/><rect x="99.11" y="126.80" width="9.21" height="4.10" fill="#e4eef4"/><rect x="107.72" y="126.80" width="9.21" height="4.10" fill="#f6f7f7"/><rect x="116.32" y="126.80" width="9.21" height="4.10" fill="#f8f4f2"/><rect x="124.93" y="126.80" width="9.21" height="4.10" fill="#f8f1ed"/><rect x="133.54" y="126.80" width="9.21" height="4.10" fill="#f9efe9"/><rect x="142.15" y="126.80" width="9.21" height="4.10" fill="#faeae1"/><rect x="150.75" y="126.80" width="9.21" height="4.10" fill="#fae7dc"/><rect x="159.36" y="126.80" width="9.21" height="4.10" fill="#faeae1"/><rect x="167.97" y="126.80" width="9.21" height="4.10" fill="#f8f4f2"/><rect x="176.58" y="126.80" width="9.21" height="4.10" fill="#f3f5f6"/><rect x="185.18" y="126.80" width="9.21" height="4.10" fill="#e4eef4"/><rect x="193.79" y="126.80" width="9.21" height="4.10" fill="#e4eef4"/><rect x="90.50" y="130.30" width="9.21" height="4.10" fill="#eff3f5"/><rect x="99.11" y="130.30" width="9.21" height="4.10" fill="#f6f7f7"/><rect x="107.72" y="130.30" width="9.21" height="4.10" fill="#fae7dc"/><rect x="116.32" y="130.30" width="9.21" height="4.10" fill="#fbe4d6"/><rect x="124.93" y="130.30" width="9.21" height="4.10" fill="#fce0d0"/><rect x="133.54" y="130.30" width="9.21" height="4.10" fill="#fcd7c2"/><rect x="142.15" y="130.30" width="9.21" height="4.10" fill="#fbccb4"/><rect x="150.75" y="130.30" width="9.21" height="4.10" fill="#fac8af"/><rect x="159.36" y="130.30" width="9.21" height="4.10" fill="#fbd0b9"/><rect x="167.97" y="130.30" width="9.21" height="4.10" fill="#fce0d0"/><rect x="176.58" y="130.30" width="9.21" height="4.10" fill="#fae7dc"/><rect x="185.18" y="130.30" width="9.21" height="4.10" fill="#f6f7f7"/><rect x="193.79" y="130.30" width="9.21" height="4.10" fill="#f6f7f7"/><rect x="90.50" y="133.80" width="9.21" height="4.10" fill="#f9ede5"/><rect x="99.11" y="133.80" width="9.21" height="4.10" fill="#f9ede5"/><rect x="107.72" y="133.80" width="9.21" height="4.10" fill="#fae8de"/><rect x="116.32" y="133.80" width="9.21" height="4.10" fill="#fce2d2"/><rect x="124.93" y="133.80" width="9.21" height="4.10" fill="#fdd9c4"/><rect x="133.54" y="133.80" width="9.21" height="4.10" fill="#facab1"/><rect x="142.15" y="133.80" width="9.21" height="4.10" fill="#f7b99c"/><rect x="150.75" y="133.80" width="9.21" height="4.10" fill="#f7b596"/><rect x="159.36" y="133.80" width="9.21" height="4.10" fill="#f8bda1"/><rect x="167.97" y="133.80" width="9.21" height="4.10" fill="#fdd9c4"/><rect x="176.58" y="133.80" width="9.21" height="4.10" fill="#fbe5d8"/><rect x="185.18" y="133.80" width="9.21" height="4.10" fill="#f9ede5"/><rect x="193.79" y="133.80" width="9.21" height="4.10" fill="#f9ede5"/><rect x="90.50" y="137.30" width="9.21" height="4.10" fill="#fdd9c4"/><rect x="99.11" y="137.30" width="9.21" height="4.10" fill="#fce2d2"/><rect x="107.72" y="137.30" width="9.21" height="4.10" fill="#fce2d2"/><rect x="116.32" y="137.30" width="9.21" height="4.10" fill="#fdd9c4"/><rect x="124.93" y="137.30" width="9.21" height="4.10" fill="#f9c4a9"/><rect x="133.54" y="137.30" width="9.21" height="4.10" fill="#f6af8e"/><rect x="142.15" y="137.30" width="9.21" height="4.10" fill="#f3a481"/><rect x="150.75" y="137.30" width="9.21" height="4.10" fill="#ee9677"/><rect x="159.36" y="137.30" width="9.21" height="4.10" fill="#f6af8e"/><rect x="167.97" y="137.30" width="9.21" height="4.10" fill="#fcd3bc"/><rect x="176.58" y="137.30" width="9.21" height="4.10" fill="#fbe5d8"/><rect x="185.18" y="137.30" width="9.21" height="4.10" fill="#f9f0eb"/><rect x="193.79" y="137.30" width="9.21" height="4.10" fill="#f9f0eb"/><rect x="90.50" y="140.80" width="9.21" height="4.10" fill="#fdd9c4"/><rect x="99.11" y="140.80" width="9.21" height="4.10" fill="#fce2d2"/><rect x="107.72" y="140.80" width="9.21" height="4.10" fill="#fddcc9"/><rect x="116.32" y="140.80" width="9.21" height="4.10" fill="#fcd7c2"/><rect x="124.93" y="140.80" width="9.21" height="4.10" fill="#f9c2a7"/><rect x="133.54" y="140.80" width="9.21" height="4.10" fill="#f5ac8b"/><rect x="142.15" y="140.80" width="9.21" height="4.10" fill="#f2a17f"/><rect x="150.75" y="140.80" width="9.21" height="4.10" fill="#ec9374"/><rect x="159.36" y="140.80" width="9.21" height="4.10" fill="#f5ac8b"/><rect x="167.97" y="140.80" width="9.21" height="4.10" fill="#fac8af"/><rect x="176.58" y="140.80" width="9.21" height="4.10" fill="#fce0d0"/><rect x="185.18" y="140.80" width="9.21" height="4.10" fill="#f9f0eb"/><rect x="193.79" y="140.80" width="9.21" height="4.10" fill="#f9f0eb"/><rect x="90.50" y="144.30" width="9.21" height="4.10" fill="#f6f7f7"/><rect x="99.11" y="144.30" width="9.21" height="4.10" fill="#f6f7f7"/><rect x="107.72" y="144.30" width="9.21" height="4.10" fill="#f9efe9"/><rect x="116.32" y="144.30" width="9.21" height="4.10" fill="#faeae1"/><rect x="124.93" y="144.30" width="9.21" height="4.10" fill="#fae7dc"/><rect x="133.54" y="144.30" width="9.21" height="4.10" fill="#fbe4d6"/><rect x="142.15" y="144.30" width="9.21" height="4.10" fill="#fcdecd"/><rect x="150.75" y="144.30" width="9.21" height="4.10" fill="#fcd7c2"/><rect x="159.36" y="144.30" width="9.21" height="4.10" fill="#fcd7c2"/><rect x="167.97" y="144.30" width="9.21" height="4.10" fill="#fcd7c2"/><rect x="176.58" y="144.30" width="9.21" height="4.10" fill="#fddcc9"/><rect x="185.18" y="144.30" width="9.21" height="4.10" fill="#fbe5d8"/><rect x="193.79" y="144.30" width="9.21" height="4.10" fill="#fbe5d8"/><rect x="90.50" y="147.80" width="9.21" height="4.10" fill="#ecf2f5"/><rect x="99.11" y="147.80" width="9.21" height="4.10" fill="#ecf2f5"/><rect x="107.72" y="147.80" width="9.21" height="4.10" fill="#ecf2f5"/><rect x="116.32" y="147.80" width="9.21" height="4.10" fill="#ecf2f5"/><rect x="124.93" y="147.80" width="9.21" height="4.10" fill="#f3f5f6"/><rect x="133.54" y="147.80" width="9.21" height="4.10" fill="#f6f7f7"/><rect x="142.15" y="147.80" width="9.21" height="4.10" fill="#f9ede5"/><rect x="150.75" y="147.80" width="9.21" height="4.10" fill="#fbe5d8"/><rect x="159.36" y="147.80" width="9.21" height="4.10" fill="#fbe5d8"/><rect x="167.97" y="147.80" width="9.21" height="4.10" fill="#fae8de"/><rect x="176.58" y="147.80" width="9.21" height="4.10" fill="#fae8de"/><rect x="185.18" y="147.80" width="9.21" height="4.10" fill="#fae8de"/><rect x="193.79" y="147.80" width="9.21" height="4.10" fill="#f9ede5"/><rect x="90.50" y="151.30" width="9.21" height="4.10" fill="#d2e6f0"/><rect x="99.11" y="151.30" width="9.21" height="4.10" fill="#d2e6f0"/><rect x="107.72" y="151.30" width="9.21" height="4.10" fill="#d8e9f1"/><rect x="116.32" y="151.30" width="9.21" height="4.10" fill="#dbeaf2"/><rect x="124.93" y="151.30" width="9.21" height="4.10" fill="#e4eef4"/><rect x="133.54" y="151.30" width="9.21" height="4.10" fill="#f0f4f6"/><rect x="142.15" y="151.30" width="9.21" height="4.10" fill="#fbe3d4"/><rect x="150.75" y="151.30" width="9.21" height="4.10" fill="#facab1"/><rect x="159.36" y="151.30" width="9.21" height="4.10" fill="#fce2d2"/><rect x="167.97" y="151.30" width="9.21" height="4.10" fill="#f6f7f7"/><rect x="176.58" y="151.30" width="9.21" height="4.10" fill="#f6f7f7"/><rect x="185.18" y="151.30" width="9.21" height="4.10" fill="#f3f5f6"/><rect x="193.79" y="151.30" width="9.21" height="4.10" fill="#f3f5f6"/><rect x="90.50" y="154.80" width="9.21" height="4.10" fill="#9bc9e0"/><rect x="99.11" y="154.80" width="9.21" height="4.10" fill="#a0cce2"/><rect x="107.72" y="154.80" width="9.21" height="4.10" fill="#b6d7e8"/><rect x="116.32" y="154.80" width="9.21" height="4.10" fill="#cfe4ef"/><rect x="124.93" y="154.80" width="9.21" height="4.10" fill="#d8e9f1"/><rect x="133.54" y="154.80" width="9.21" height="4.10" fill="#edf2f5"/><rect x="142.15" y="154.80" width="9.21" height="4.10" fill="#fbe5d8"/><rect x="150.75" y="154.80" width="9.21" height="4.10" fill="#f9c4a9"/><rect x="159.36" y="154.80" width="9.21" height="4.10" fill="#fbe3d4"/><rect x="167.97" y="154.80" width="9.21" height="4.10" fill="#f6f7f7"/><rect x="176.58" y="154.80" width="9.21" height="4.10" fill="#edf2f5"/><rect x="185.18" y="154.80" width="9.21" height="4.10" fill="#edf2f5"/><rect x="193.79" y="154.80" width="9.21" height="4.10" fill="#f0f4f6"/><rect x="90.50" y="158.30" width="9.21" height="4.10" fill="#acd2e5"/><rect x="99.11" y="158.30" width="9.21" height="4.10" fill="#b6d7e8"/><rect x="107.72" y="158.30" width="9.21" height="4.10" fill="#cae1ee"/><rect x="116.32" y="158.30" width="9.21" height="4.10" fill="#d2e6f0"/><rect x="124.93" y="158.30" width="9.21" height="4.10" fill="#d8e9f1"/><rect x="133.54" y="158.30" width="9.21" height="4.10" fill="#f0f4f6"/><rect x="142.15" y="158.30" width="9.21" height="4.10" fill="#f9ede5"/><rect x="150.75" y="158.30" width="9.21" height="4.10" fill="#fae9df"/><rect x="159.36" y="158.30" width="9.21" height="4.10" fill="#f9ede5"/><rect x="167.97" y="158.30" width="9.21" height="4.10" fill="#f6f7f7"/><rect x="176.58" y="158.30" width="9.21" height="4.10" fill="#e4eef4"/><rect x="185.18" y="158.30" width="9.21" height="4.10" fill="#e1edf3"/><rect x="193.79" y="158.30" width="9.21" height="4.10" fill="#eaf1f5"/><rect x="90.50" y="161.80" width="9.21" height="4.10" fill="#d8e9f1"/><rect x="99.11" y="161.80" width="9.21" height="4.10" fill="#d8e9f1"/><rect x="107.72" y="161.80" width="9.21" height="4.10" fill="#d8e9f1"/><rect x="116.32" y="161.80" width="9.21" height="4.10" fill="#ddebf2"/><rect x="124.93" y="161.80" width="9.21" height="4.10" fill="#e0ecf3"/><rect x="133.54" y="161.80" width="9.21" height="4.10" fill="#eff3f5"/><rect x="142.15" y="161.80" width="9.21" height="4.10" fill="#f7f5f4"/><rect x="150.75" y="161.80" width="9.21" height="4.10" fill="#f9f0eb"/><rect x="159.36" y="161.80" width="9.21" height="4.10" fill="#f9f0eb"/><rect x="167.97" y="161.80" width="9.21" height="4.10" fill="#f6f7f7"/><rect x="176.58" y="161.80" width="9.21" height="4.10" fill="#e0ecf3"/><rect x="185.18" y="161.80" width="9.21" height="4.10" fill="#ddebf2"/><rect x="193.79" y="161.80" width="9.21" height="4.10" fill="#e7f0f4"/><rect x="90.50" y="165.30" width="9.21" height="4.10" fill="#eff3f5"/><rect x="99.11" y="165.30" width="9.21" height="4.10" fill="#eff3f5"/><rect x="107.72" y="165.30" width="9.21" height="4.10" fill="#eff3f5"/><rect x="116.32" y="165.30" width="9.21" height="4.10" fill="#f3f5f6"/><rect x="124.93" y="165.30" width="9.21" height="4.10" fill="#f3f5f6"/><rect x="133.54" y="165.30" width="9.21" height="4.10" fill="#f6f7f7"/><rect x="142.15" y="165.30" width="9.21" height="4.10" fill="#f8f3f0"/><rect x="150.75" y="165.30" width="9.21" height="4.10" fill="#f9f0eb"/><rect x="159.36" y="165.30" width="9.21" height="4.10" fill="#f9f0eb"/><rect x="167.97" y="165.30" width="9.21" height="4.10" fill="#f6f7f7"/><rect x="176.58" y="165.30" width="9.21" height="4.10" fill="#ecf2f5"/><rect x="185.18" y="165.30" width="9.21" height="4.10" fill="#ecf2f5"/><rect x="193.79" y="165.30" width="9.21" height="4.10" fill="#eff3f5"/><rect x="90.50" y="168.80" width="9.21" height="4.10" fill="#f9f0eb"/><rect x="99.11" y="168.80" width="9.21" height="4.10" fill="#fbe6da"/><rect x="107.72" y="168.80" width="9.21" height="4.10" fill="#fbe6da"/><rect x="116.32" y="168.80" width="9.21" height="4.10" fill="#fae9df"/><rect x="124.93" y="168.80" width="9.21" height="4.10" fill="#fae9df"/><rect x="133.54" y="168.80" width="9.21" height="4.10" fill="#f9ede5"/><rect x="142.15" y="168.80" width="9.21" height="4.10" fill="#f8f2ef"/><rect x="150.75" y="168.80" width="9.21" height="4.10" fill="#f9f0eb"/><rect x="159.36" y="168.80" width="9.21" height="4.10" fill="#f9f0eb"/><rect x="167.97" y="168.80" width="9.21" height="4.10" fill="#f9f0eb"/><rect x="176.58" y="168.80" width="9.21" height="4.10" fill="#f6f7f7"/><rect x="185.18" y="168.80" width="9.21" height="4.10" fill="#f6f7f7"/><rect x="193.79" y="168.80" width="9.21" height="4.10" fill="#f6f7f7"/><rect x="90.50" y="172.30" width="9.21" height="4.10" fill="#f9ede5"/><rect x="99.11" y="172.30" width="9.21" height="4.10" fill="#fddcc9"/><rect x="107.72" y="172.30" width="9.21" height="4.10" fill="#fcdfcf"/><rect x="116.32" y="172.30" width="9.21" height="4.10" fill="#fbe3d4"/><rect x="124.93" y="172.30" width="9.21" height="4.10" fill="#fbe3d4"/><rect x="133.54" y="172.30" width="9.21" height="4.10" fill="#fae9df"/><rect x="142.15" y="172.30" width="9.21" height="4.10" fill="#f9f0eb"/><rect x="150.75" y="172.30" width="9.21" height="4.10" fill="#f9ede5"/><rect x="159.36" y="172.30" width="9.21" height="4.10" fill="#fae9df"/><rect x="167.97" y="172.30" width="9.21" height="4.10" fill="#fae9df"/><rect x="176.58" y="172.30" width="9.21" height="4.10" fill="#f9ede5"/><rect x="185.18" y="172.30" width="9.21" height="4.10" fill="#f9f0eb"/><rect x="193.79" y="172.30" width="9.21" height="4.10" fill="#f9f0eb"/><rect x="90.50" y="175.80" width="9.21" height="4.10" fill="#f9ede5"/><rect x="99.11" y="175.80" width="9.21" height="4.10" fill="#fddcc9"/><rect x="107.72" y="175.80" width="9.21" height="4.10" fill="#fcdfcf"/><rect x="116.32" y="175.80" width="9.21" height="4.10" fill="#fbe3d4"/><rect x="124.93" y="175.80" width="9.21" height="4.10" fill="#fbe3d4"/><rect x="133.54" y="175.80" width="9.21" height="4.10" fill="#fae9df"/><rect x="142.15" y="175.80" width="9.21" height="4.10" fill="#f8f3f0"/><rect x="150.75" y="175.80" width="9.21" height="4.10" fill="#f9ede5"/><rect x="159.36" y="175.80" width="9.21" height="4.10" fill="#fae9df"/><rect x="167.97" y="175.80" width="9.21" height="4.10" fill="#fae9df"/><rect x="176.58" y="175.80" width="9.21" height="4.10" fill="#fae9df"/><rect x="185.18" y="175.80" width="9.21" height="4.10" fill="#f9ede5"/><rect x="193.79" y="175.80" width="9.21" height="4.10" fill="#f9ede5"/><rect x="90.50" y="179.30" width="9.21" height="4.10" fill="#eff3f5"/><rect x="99.11" y="179.30" width="9.21" height="4.10" fill="#fbe6da"/><rect x="107.72" y="179.30" width="9.21" height="4.10" fill="#fbe6da"/><rect x="116.32" y="179.30" width="9.21" height="4.10" fill="#fbe6da"/><rect x="124.93" y="179.30" width="9.21" height="4.10" fill="#fbe6da"/><rect x="133.54" y="179.30" width="9.21" height="4.10" fill="#f9ede5"/><rect x="142.15" y="179.30" width="9.21" height="4.10" fill="#f5f6f7"/><rect x="150.75" y="179.30" width="9.21" height="4.10" fill="#f8f3f0"/><rect x="159.36" y="179.30" width="9.21" height="4.10" fill="#f9ede5"/><rect x="167.97" y="179.30" width="9.21" height="4.10" fill="#fae9df"/><rect x="176.58" y="179.30" width="9.21" height="4.10" fill="#fbe6da"/><rect x="185.18" y="179.30" width="9.21" height="4.10" fill="#fae9df"/><rect x="193.79" y="179.30" width="9.21" height="4.10" fill="#f9ede5"/></g>
<rect x="90.50" y="112.80" width="111.90" height="70.00" fill="none" stroke="#000" stroke-width="1.40"/>
<path d="M85.30 123.60H90.50M85.30 182.80H90.50M90.50 182.80V188.00M149.70 182.80V188.00" stroke="#000" stroke-width="1.40" fill="none"/>
<g filter="url(#bl)" shape-rendering="crispEdges"><rect x="214.20" y="112.80" width="9.21" height="4.10" fill="#053061"/><rect x="222.81" y="112.80" width="9.21" height="4.10" fill="#053061"/><rect x="231.42" y="112.80" width="9.21" height="4.10" fill="#053061"/><rect x="240.02" y="112.80" width="9.21" height="4.10" fill="#053061"/><rect x="248.63" y="112.80" width="9.21" height="4.10" fill="#053061"/><rect x="257.24" y="112.80" width="9.21" height="4.10" fill="#053061"/><rect x="265.85" y="112.80" width="9.21" height="4.10" fill="#053061"/><rect x="274.45" y="112.80" width="9.21" height="4.10" fill="#053061"/><rect x="283.06" y="112.80" width="9.21" height="4.10" fill="#053061"/><rect x="291.67" y="112.80" width="9.21" height="4.10" fill="#053061"/><rect x="300.28" y="112.80" width="9.21" height="4.10" fill="#053061"/><rect x="308.88" y="112.80" width="9.21" height="4.10" fill="#053061"/><rect x="317.49" y="112.80" width="9.21" height="4.10" fill="#053061"/><rect x="214.20" y="116.30" width="9.21" height="4.10" fill="#053061"/><rect x="222.81" y="116.30" width="9.21" height="4.10" fill="#053061"/><rect x="231.42" y="116.30" width="9.21" height="4.10" fill="#053061"/><rect x="240.02" y="116.30" width="9.21" height="4.10" fill="#073467"/><rect x="248.63" y="116.30" width="9.21" height="4.10" fill="#0a3b70"/><rect x="257.24" y="116.30" width="9.21" height="4.10" fill="#0a3b70"/><rect x="265.85" y="116.30" width="9.21" height="4.10" fill="#0d3f76"/><rect x="274.45" y="116.30" width="9.21" height="4.10" fill="#0d3f76"/><rect x="283.06" y="116.30" width="9.21" height="4.10" fill="#0d3f76"/><rect x="291.67" y="116.30" width="9.21" height="4.10" fill="#0d3f76"/><rect x="300.28" y="116.30" width="9.21" height="4.10" fill="#0d3f76"/><rect x="308.88" y="116.30" width="9.21" height="4.10" fill="#0d3f76"/><rect x="317.49" y="116.30" width="9.21" height="4.10" fill="#0d3f76"/><rect x="214.20" y="119.80" width="9.21" height="4.10" fill="#0a3b70"/><rect x="222.81" y="119.80" width="9.21" height="4.10" fill="#0a3b70"/><rect x="231.42" y="119.80" width="9.21" height="4.10" fill="#0d3f76"/><rect x="240.02" y="119.80" width="9.21" height="4.10" fill="#10457e"/><rect x="248.63" y="119.80" width="9.21" height="4.10" fill="#15508d"/><rect x="257.24" y="119.80" width="9.21" height="4.10" fill="#185493"/><rect x="265.85" y="119.80" width="9.21" height="4.10" fill="#1b5a9c"/><rect x="274.45" y="119.80" width="9.21" height="4.10" fill="#1b5a9c"/><rect x="283.06" y="119.80" width="9.21" height="4.10" fill="#1b5a9c"/><rect x="291.67" y="119.80" width="9.21" height="4.10" fill="#1b5a9c"/><rect x="300.28" y="119.80" width="9.21" height="4.10" fill="#1b5a9c"/><rect x="308.88" y="119.80" width="9.21" height="4.10" fill="#1b5a9c"/><rect x="317.49" y="119.80" width="9.21" height="4.10" fill="#185493"/><rect x="214.20" y="123.30" width="9.21" height="4.10" fill="#0d3f76"/><rect x="222.81" y="123.30" width="9.21" height="4.10" fill="#10457e"/><rect x="231.42" y="123.30" width="9.21" height="4.10" fill="#124984"/><rect x="240.02" y="123.30" width="9.21" height="4.10" fill="#185493"/><rect x="248.63" y="123.30" width="9.21" height="4.10" fill="#2065ab"/><rect x="257.24" y="123.30" width="9.21" height="4.10" fill="#2b73b3"/><rect x="265.85" y="123.30" width="9.21" height="4.10" fill="#2e77b5"/><rect x="274.45" y="123.30" width="9.21" height="4.10" fill="#2e77b5"/><rect x="283.06" y="123.30" width="9.21" height="4.10" fill="#2e77b5"/><rect x="291.67" y="123.30" width="9.21" height="4.10" fill="#2e77b5"/><rect x="300.28" y="123.30" width="9.21" height="4.10" fill="#2e77b5"/><rect x="308.88" y="123.30" width="9.21" height="4.10" fill="#2e77b5"/><rect x="317.49" y="123.30" width="9.21" height="4.10" fill="#2b73b3"/><rect x="214.20" y="126.80" width="9.21" height="4.10" fill="#15508d"/><rect x="222.81" y="126.80" width="9.21" height="4.10" fill="#276eb0"/><rect x="231.42" y="126.80" width="9.21" height="4.10" fill="#2b73b3"/><rect x="240.02" y="126.80" width="9.21" height="4.10" fill="#327cb7"/><rect x="248.63" y="126.80" width="9.21" height="4.10" fill="#3885bc"/><rect x="257.24" y="126.80" width="9.21" height="4.10" fill="#529dc8"/><rect x="265.85" y="126.80" width="9.21" height="4.10" fill="#59a1ca"/><rect x="274.45" y="126.80" width="9.21" height="4.10" fill="#59a1ca"/><rect x="283.06" y="126.80" width="9.21" height="4.10" fill="#59a1ca"/><rect x="291.67" y="126.80" width="9.21" height="4.10" fill="#59a1ca"/><rect x="300.28" y="126.80" width="9.21" height="4.10" fill="#59a1ca"/><rect x="308.88" y="126.80" width="9.21" height="4.10" fill="#59a1ca"/><rect x="317.49" y="126.80" width="9.21" height="4.10" fill="#529dc8"/><rect x="214.20" y="130.30" width="9.21" height="4.10" fill="#3480b9"/><rect x="222.81" y="130.30" width="9.21" height="4.10" fill="#59a1ca"/><rect x="231.42" y="130.30" width="9.21" height="4.10" fill="#81bad8"/><rect x="240.02" y="130.30" width="9.21" height="4.10" fill="#90c4dd"/><rect x="248.63" y="130.30" width="9.21" height="4.10" fill="#90c4dd"/><rect x="257.24" y="130.30" width="9.21" height="4.10" fill="#90c4dd"/><rect x="265.85" y="130.30" width="9.21" height="4.10" fill="#90c4dd"/><rect x="274.45" y="130.30" width="9.21" height="4.10" fill="#90c4dd"/><rect x="283.06" y="130.30" width="9.21" height="4.10" fill="#90c4dd"/><rect x="291.67" y="130.30" width="9.21" height="4.10" fill="#90c4dd"/><rect x="300.28" y="130.30" width="9.21" height="4.10" fill="#90c4dd"/><rect x="308.88" y="130.30" width="9.21" height="4.10" fill="#90c4dd"/><rect x="317.49" y="130.30" width="9.21" height="4.10" fill="#8ac0db"/><rect x="214.20" y="133.80" width="9.21" height="4.10" fill="#4393c3"/><rect x="222.81" y="133.80" width="9.21" height="4.10" fill="#90c4dd"/><rect x="231.42" y="133.80" width="9.21" height="4.10" fill="#bddbea"/><rect x="240.02" y="133.80" width="9.21" height="4.10" fill="#b8d8e9"/><rect x="248.63" y="133.80" width="9.21" height="4.10" fill="#b1d5e7"/><rect x="257.24" y="133.80" width="9.21" height="4.10" fill="#b1d5e7"/><rect x="265.85" y="133.80" width="9.21" height="4.10" fill="#b3d6e8"/><rect x="274.45" y="133.80" width="9.21" height="4.10" fill="#b8d8e9"/><rect x="283.06" y="133.80" width="9.21" height="4.10" fill="#b8d8e9"/><rect x="291.67" y="133.80" width="9.21" height="4.10" fill="#b8d8e9"/><rect x="300.28" y="133.80" width="9.21" height="4.10" fill="#b8d8e9"/><rect x="308.88" y="133.80" width="9.21" height="4.10" fill="#b8d8e9"/><rect x="317.49" y="133.80" width="9.21" height="4.10" fill="#b1d5e7"/><rect x="214.20" y="137.30" width="9.21" height="4.10" fill="#529dc8"/><rect x="222.81" y="137.30" width="9.21" height="4.10" fill="#c5dfec"/><rect x="231.42" y="137.30" width="9.21" height="4.10" fill="#e4eef4"/><rect x="240.02" y="137.30" width="9.21" height="4.10" fill="#ddebf2"/><rect x="248.63" y="137.30" width="9.21" height="4.10" fill="#d1e5f0"/><rect x="257.24" y="137.30" width="9.21" height="4.10" fill="#d1e5f0"/><rect x="265.85" y="137.30" width="9.21" height="4.10" fill="#d1e5f0"/><rect x="274.45" y="137.30" width="9.21" height="4.10" fill="#d1e5f0"/><rect x="283.06" y="137.30" width="9.21" height="4.10" fill="#d1e5f0"/><rect x="291.67" y="137.30" width="9.21" height="4.10" fill="#d1e5f0"/><rect x="300.28" y="137.30" width="9.21" height="4.10" fill="#d1e5f0"/><rect x="308.88" y="137.30" width="9.21" height="4.10" fill="#d1e5f0"/><rect x="317.49" y="137.30" width="9.21" height="4.10" fill="#cae1ee"/><rect x="214.20" y="140.80" width="9.21" height="4.10" fill="#62a7ce"/><rect x="222.81" y="140.80" width="9.21" height="4.10" fill="#bddbea"/><rect x="231.42" y="140.80" width="9.21" height="4.10" fill="#eff3f5"/><rect x="240.02" y="140.80" width="9.21" height="4.10" fill="#ecf2f5"/><rect x="248.63" y="140.80" width="9.21" height="4.10" fill="#d1e5f0"/><rect x="257.24" y="140.80" width="9.21" height="4.10" fill="#b1d5e7"/><rect x="265.85" y="140.80" width="9.21" height="4.10" fill="#d2e6f0"/><rect x="274.45" y="140.80" width="9.21" height="4.10" fill="#e4eef4"/><rect x="283.06" y="140.80" width="9.21" height="4.10" fill="#e7f0f4"/><rect x="291.67" y="140.80" width="9.21" height="4.10" fill="#e7f0f4"/><rect x="300.28" y="140.80" width="9.21" height="4.10" fill="#e7f0f4"/><rect x="308.88" y="140.80" width="9.21" height="4.10" fill="#e4eef4"/><rect x="317.49" y="140.80" width="9.21" height="4.10" fill="#ddebf2"/><rect x="214.20" y="144.30" width="9.21" height="4.10" fill="#7bb6d6"/><rect x="222.81" y="144.30" width="9.21" height="4.10" fill="#c5dfec"/><rect x="231.42" y="144.30" width="9.21" height="4.10" fill="#e0ecf3"/><rect x="240.02" y="144.30" width="9.21" height="4.10" fill="#d8e9f1"/><rect x="248.63" y="144.30" width="9.21" height="4.10" fill="#c5dfec"/><rect x="257.24" y="144.30" width="9.21" height="4.10" fill="#9dcbe1"/><rect x="265.85" y="144.30" width="9.21" height="4.10" fill="#d4e6f1"/><rect x="274.45" y="144.30" width="9.21" height="4.10" fill="#eff3f5"/><rect x="283.06" y="144.30" width="9.21" height="4.10" fill="#f3f5f6"/><rect x="291.67" y="144.30" width="9.21" height="4.10" fill="#f8f4f2"/><rect x="300.28" y="144.30" width="9.21" height="4.10" fill="#f8f4f2"/><rect x="308.88" y="144.30" width="9.21" height="4.10" fill="#eff3f5"/><rect x="317.49" y="144.30" width="9.21" height="4.10" fill="#e4eef4"/><rect x="214.20" y="147.80" width="9.21" height="4.10" fill="#9dcbe1"/><rect x="222.81" y="147.80" width="9.21" height="4.10" fill="#d8e9f1"/><rect x="231.42" y="147.80" width="9.21" height="4.10" fill="#d1e5f0"/><rect x="240.02" y="147.80" width="9.21" height="4.10" fill="#c5dfec"/><rect x="248.63" y="147.80" width="9.21" height="4.10" fill="#acd2e5"/><rect x="257.24" y="147.80" width="9.21" height="4.10" fill="#9dcbe1"/><rect x="265.85" y="147.80" width="9.21" height="4.10" fill="#c0dceb"/><rect x="274.45" y="147.80" width="9.21" height="4.10" fill="#d8e9f1"/><rect x="283.06" y="147.80" width="9.21" height="4.10" fill="#e4eef4"/><rect x="291.67" y="147.80" width="9.21" height="4.10" fill="#ecf2f5"/><rect x="300.28" y="147.80" width="9.21" height="4.10" fill="#f6f7f7"/><rect x="308.88" y="147.80" width="9.21" height="4.10" fill="#f9efe9"/><rect x="317.49" y="147.80" width="9.21" height="4.10" fill="#f9efe9"/><rect x="214.20" y="151.30" width="9.21" height="4.10" fill="#c5dfec"/><rect x="222.81" y="151.30" width="9.21" height="4.10" fill="#e4eef4"/><rect x="231.42" y="151.30" width="9.21" height="4.10" fill="#d8e9f1"/><rect x="240.02" y="151.30" width="9.21" height="4.10" fill="#d1e5f0"/><rect x="248.63" y="151.30" width="9.21" height="4.10" fill="#bddbea"/><rect x="257.24" y="151.30" width="9.21" height="4.10" fill="#b1d5e7"/><rect x="265.85" y="151.30" width="9.21" height="4.10" fill="#cae1ee"/><rect x="274.45" y="151.30" width="9.21" height="4.10" fill="#d1e5f0"/><rect x="283.06" y="151.30" width="9.21" height="4.10" fill="#ddebf2"/><rect x="291.67" y="151.30" width="9.21" height="4.10" fill="#e4eef4"/><rect x="300.28" y="151.30" width="9.21" height="4.10" fill="#ecf2f5"/><rect x="308.88" y="151.30" width="9.21" height="4.10" fill="#f9efe9"/><rect x="317.49" y="151.30" width="9.21" height="4.10" fill="#f8f1ed"/><rect x="214.20" y="154.80" width="9.21" height="4.10" fill="#e4eef4"/><rect x="222.81" y="154.80" width="9.21" height="4.10" fill="#eff3f5"/><rect x="231.42" y="154.80" width="9.21" height="4.10" fill="#ecf2f5"/><rect x="240.02" y="154.80" width="9.21" height="4.10" fill="#e4eef4"/><rect x="248.63" y="154.80" width="9.21" height="4.10" fill="#d8e9f1"/><rect x="257.24" y="154.80" width="9.21" height="4.10" fill="#d1e5f0"/><rect x="265.85" y="154.80" width="9.21" height="4.10" fill="#d8e9f1"/><rect x="274.45" y="154.80" width="9.21" height="4.10" fill="#d8e9f1"/><rect x="283.06" y="154.80" width="9.21" height="4.10" fill="#ddebf2"/><rect x="291.67" y="154.80" width="9.21" height="4.10" fill="#e0ecf3"/><rect x="300.28" y="154.80" width="9.21" height="4.10" fill="#e7f0f4"/><rect x="308.88" y="154.80" width="9.21" height="4.10" fill="#f6f7f7"/><rect x="317.49" y="154.80" width="9.21" height="4.10" fill="#f3f5f6"/><rect x="214.20" y="158.30" width="9.21" height="4.10" fill="#e4eef4"/><rect x="222.81" y="158.30" width="9.21" height="4.10" fill="#f3f5f6"/><rect x="231.42" y="158.30" width="9.21" height="4.10" fill="#f9efe9"/><rect x="240.02" y="158.30" width="9.21" height="4.10" fill="#f9ebe3"/><rect x="248.63" y="158.30" width="9.21" height="4.10" fill="#eff3f5"/><rect x="257.24" y="158.30" width="9.21" height="4.10" fill="#e4eef4"/><rect x="265.85" y="158.30" width="9.21" height="4.10" fill="#e7f0f4"/><rect x="274.45" y="158.30" width="9.21" height="4.10" fill="#e4eef4"/><rect x="283.06" y="158.30" width="9.21" height="4.10" fill="#e7f0f4"/><rect x="291.67" y="158.30" width="9.21" height="4.10" fill="#ecf2f5"/><rect x="300.28" y="158.30" width="9.21" height="4.10" fill="#eff3f5"/><rect x="308.88" y="158.30" width="9.21" height="4.10" fill="#f3f5f6"/><rect x="317.49" y="158.30" width="9.21" height="4.10" fill="#f3f5f6"/><rect x="214.20" y="161.80" width="9.21" height="4.10" fill="#e4eef4"/><rect x="222.81" y="161.80" width="9.21" height="4.10" fill="#f3f5f6"/><rect x="231.42" y="161.80" width="9.21" height="4.10" fill="#f9efe9"/><rect x="240.02" y="161.80" width="9.21" height="4.10" fill="#fae9df"/><rect x="248.63" y="161.80" width="9.21" height="4.10" fill="#f9efe9"/><rect x="257.24" y="161.80" width="9.21" height="4.10" fill="#f3f5f6"/><rect x="265.85" y="161.80" width="9.21" height="4.10" fill="#f3f5f6"/><rect x="274.45" y="161.80" width="9.21" height="4.10" fill="#f3f5f6"/><rect x="283.06" y="161.80" width="9.21" height="4.10" fill="#f6f7f7"/><rect x="291.67" y="161.80" width="9.21" height="4.10" fill="#f6f7f7"/><rect x="300.28" y="161.80" width="9.21" height="4.10" fill="#f8f4f2"/><rect x="308.88" y="161.80" width="9.21" height="4.10" fill="#f8f1ed"/><rect x="317.49" y="161.80" width="9.21" height="4.10" fill="#f8f4f2"/><rect x="214.20" y="165.30" width="9.21" height="4.10" fill="#e4eef4"/><rect x="222.81" y="165.30" width="9.21" height="4.10" fill="#f3f5f6"/><rect x="231.42" y="165.30" width="9.21" height="4.10" fill="#f8f4f2"/><rect x="240.02" y="165.30" width="9.21" height="4.10" fill="#f8f1ed"/><rect x="248.63" y="165.30" width="9.21" height="4.10" fill="#f8f4f2"/><rect x="257.24" y="165.30" width="9.21" height="4.10" fill="#f3f5f6"/><rect x="265.85" y="165.30" width="9.21" height="4.10" fill="#f5f6f7"/><rect x="274.45" y="165.30" width="9.21" height="4.10" fill="#f6f7f7"/><rect x="283.06" y="165.30" width="9.21" height="4.10" fill="#f6f7f7"/><rect x="291.67" y="165.30" width="9.21" height="4.10" fill="#f8f4f2"/><rect x="300.28" y="165.30" width="9.21" height="4.10" fill="#f9ebe3"/><rect x="308.88" y="165.30" width="9.21" height="4.10" fill="#fbe6da"/><rect x="317.49" y="165.30" width="9.21" height="4.10" fill="#f9efe9"/><rect x="214.20" y="168.80" width="9.21" height="4.10" fill="#e0ecf3"/><rect x="222.81" y="168.80" width="9.21" height="4.10" fill="#eff3f5"/><rect x="231.42" y="168.80" width="9.21" height="4.10" fill="#f3f5f6"/><rect x="240.02" y="168.80" width="9.21" height="4.10" fill="#f3f5f6"/><rect x="248.63" y="168.80" width="9.21" height="4.10" fill="#f3f5f6"/><rect x="257.24" y="168.80" width="9.21" height="4.10" fill="#f3f5f6"/><rect x="265.85" y="168.80" width="9.21" height="4.10" fill="#f5f6f7"/><rect x="274.45" y="168.80" width="9.21" height="4.10" fill="#f6f7f7"/><rect x="283.06" y="168.80" width="9.21" height="4.10" fill="#f6f7f7"/><rect x="291.67" y="168.80" width="9.21" height="4.10" fill="#f6f7f7"/><rect x="300.28" y="168.80" width="9.21" height="4.10" fill="#f9efe9"/><rect x="308.88" y="168.80" width="9.21" height="4.10" fill="#fae9df"/><rect x="317.49" y="168.80" width="9.21" height="4.10" fill="#f8f1ed"/><rect x="214.20" y="172.30" width="9.21" height="4.10" fill="#d8e9f1"/><rect x="222.81" y="172.30" width="9.21" height="4.10" fill="#ecf2f5"/><rect x="231.42" y="172.30" width="9.21" height="4.10" fill="#ecf2f5"/><rect x="240.02" y="172.30" width="9.21" height="4.10" fill="#ecf2f5"/><rect x="248.63" y="172.30" width="9.21" height="4.10" fill="#ecf2f5"/><rect x="257.24" y="172.30" width="9.21" height="4.10" fill="#ecf2f5"/><rect x="265.85" y="172.30" width="9.21" height="4.10" fill="#edf2f5"/><rect x="274.45" y="172.30" width="9.21" height="4.10" fill="#ecf2f5"/><rect x="283.06" y="172.30" width="9.21" height="4.10" fill="#ecf2f5"/><rect x="291.67" y="172.30" width="9.21" height="4.10" fill="#eff3f5"/><rect x="300.28" y="172.30" width="9.21" height="4.10" fill="#f6f7f7"/><rect x="308.88" y="172.30" width="9.21" height="4.10" fill="#f6f7f7"/><rect x="317.49" y="172.30" width="9.21" height="4.10" fill="#f6f7f7"/><rect x="214.20" y="175.80" width="9.21" height="4.10" fill="#bddbea"/><rect x="222.81" y="175.80" width="9.21" height="4.10" fill="#d8e9f1"/><rect x="231.42" y="175.80" width="9.21" height="4.10" fill="#d8e9f1"/><rect x="240.02" y="175.80" width="9.21" height="4.10" fill="#d4e6f1"/><rect x="248.63" y="175.80" width="9.21" height="4.10" fill="#d1e5f0"/><rect x="257.24" y="175.80" width="9.21" height="4.10" fill="#d4e6f1"/><rect x="265.85" y="175.80" width="9.21" height="4.10" fill="#d8e9f1"/><rect x="274.45" y="175.80" width="9.21" height="4.10" fill="#d1e5f0"/><rect x="283.06" y="175.80" width="9.21" height="4.10" fill="#d4e6f1"/><rect x="291.67" y="175.80" width="9.21" height="4.10" fill="#ddebf2"/><rect x="300.28" y="175.80" width="9.21" height="4.10" fill="#e4eef4"/><rect x="308.88" y="175.80" width="9.21" height="4.10" fill="#ecf2f5"/><rect x="317.49" y="175.80" width="9.21" height="4.10" fill="#eff3f5"/><rect x="214.20" y="179.30" width="9.21" height="4.10" fill="#9dcbe1"/><rect x="222.81" y="179.30" width="9.21" height="4.10" fill="#d1e5f0"/><rect x="231.42" y="179.30" width="9.21" height="4.10" fill="#d1e5f0"/><rect x="240.02" y="179.30" width="9.21" height="4.10" fill="#c5dfec"/><rect x="248.63" y="179.30" width="9.21" height="4.10" fill="#bddbea"/><rect x="257.24" y="179.30" width="9.21" height="4.10" fill="#c5dfec"/><rect x="265.85" y="179.30" width="9.21" height="4.10" fill="#cae1ee"/><rect x="274.45" y="179.30" width="9.21" height="4.10" fill="#b1d5e7"/><rect x="283.06" y="179.30" width="9.21" height="4.10" fill="#b8d8e9"/><rect x="291.67" y="179.30" width="9.21" height="4.10" fill="#d1e5f0"/><rect x="300.28" y="179.30" width="9.21" height="4.10" fill="#ddebf2"/><rect x="308.88" y="179.30" width="9.21" height="4.10" fill="#e4eef4"/><rect x="317.49" y="179.30" width="9.21" height="4.10" fill="#ecf2f5"/></g>
<rect x="214.20" y="112.80" width="111.90" height="70.00" fill="none" stroke="#000" stroke-width="1.40"/>
<path d="M209.00 123.60H214.20M209.00 182.80H214.20M214.20 182.80V188.00M273.40 182.80V188.00" stroke="#000" stroke-width="1.40" fill="none"/>
<g filter="url(#bl)" shape-rendering="crispEdges"><rect x="337.20" y="112.80" width="9.21" height="4.10" fill="#d1e5f0"/><rect x="345.81" y="112.80" width="9.21" height="4.10" fill="#e0ecf3"/><rect x="354.42" y="112.80" width="9.21" height="4.10" fill="#e4eef4"/><rect x="363.02" y="112.80" width="9.21" height="4.10" fill="#e7f0f4"/><rect x="371.63" y="112.80" width="9.21" height="4.10" fill="#e7f0f4"/><rect x="380.24" y="112.80" width="9.21" height="4.10" fill="#ecf2f5"/><rect x="388.85" y="112.80" width="9.21" height="4.10" fill="#ecf2f5"/><rect x="397.45" y="112.80" width="9.21" height="4.10" fill="#ecf2f5"/><rect x="406.06" y="112.80" width="9.21" height="4.10" fill="#ecf2f5"/><rect x="414.67" y="112.80" width="9.21" height="4.10" fill="#ecf2f5"/><rect x="423.28" y="112.80" width="9.21" height="4.10" fill="#e7f0f4"/><rect x="431.88" y="112.80" width="9.21" height="4.10" fill="#e7f0f4"/><rect x="440.49" y="112.80" width="9.21" height="4.10" fill="#e4eef4"/><rect x="337.20" y="116.30" width="9.21" height="4.10" fill="#e4eef4"/><rect x="345.81" y="116.30" width="9.21" height="4.10" fill="#f3f5f6"/><rect x="354.42" y="116.30" width="9.21" height="4.10" fill="#f6f7f7"/><rect x="363.02" y="116.30" width="9.21" height="4.10" fill="#f8f4f2"/><rect x="371.63" y="116.30" width="9.21" height="4.10" fill="#f8f4f2"/><rect x="380.24" y="116.30" width="9.21" height="4.10" fill="#f8f4f2"/><rect x="388.85" y="116.30" width="9.21" height="4.10" fill="#f8f4f2"/><rect x="397.45" y="116.30" width="9.21" height="4.10" fill="#f8f4f2"/><rect x="406.06" y="116.30" width="9.21" height="4.10" fill="#f8f4f2"/><rect x="414.67" y="116.30" width="9.21" height="4.10" fill="#f6f7f7"/><rect x="423.28" y="116.30" width="9.21" height="4.10" fill="#f6f7f7"/><rect x="431.88" y="116.30" width="9.21" height="4.10" fill="#f3f5f6"/><rect x="440.49" y="116.30" width="9.21" height="4.10" fill="#f3f5f6"/><rect x="337.20" y="119.80" width="9.21" height="4.10" fill="#f6f7f7"/><rect x="345.81" y="119.80" width="9.21" height="4.10" fill="#f9ede5"/><rect x="354.42" y="119.80" width="9.21" height="4.10" fill="#fbe5d8"/><rect x="363.02" y="119.80" width="9.21" height="4.10" fill="#fbe5d8"/><rect x="371.63" y="119.80" width="9.21" height="4.10" fill="#fbe5d8"/><rect x="380.24" y="119.80" width="9.21" height="4.10" fill="#fbe5d8"/><rect x="388.85" y="119.80" width="9.21" height="4.10" fill="#fbe5d8"/><rect x="397.45" y="119.80" width="9.21" height="4.10" fill="#fbe5d8"/><rect x="406.06" y="119.80" width="9.21" height="4.10" fill="#fae8de"/><rect x="414.67" y="119.80" width="9.21" height="4.10" fill="#f9ede5"/><rect x="423.28" y="119.80" width="9.21" height="4.10" fill="#f9ede5"/><rect x="431.88" y="119.80" width="9.21" height="4.10" fill="#f9ede5"/><rect x="440.49" y="119.80" width="9.21" height="4.10" fill="#f9ede5"/><rect x="337.20" y="123.30" width="9.21" height="4.10" fill="#fbe5d8"/><rect x="345.81" y="123.30" width="9.21" height="4.10" fill="#fdddcb"/><rect x="354.42" y="123.30" width="9.21" height="4.10" fill="#fdd9c4"/><rect x="363.02" y="123.30" width="9.21" height="4.10" fill="#fdd9c4"/><rect x="371.63" y="123.30" width="9.21" height="4.10" fill="#fdd9c4"/><rect x="380.24" y="123.30" width="9.21" height="4.10" fill="#fdd9c4"/><rect x="388.85" y="123.30" width="9.21" height="4.10" fill="#fdd9c4"/><rect x="397.45" y="123.30" width="9.21" height="4.10" fill="#fdd9c4"/><rect x="406.06" y="123.30" width="9.21" height="4.10" fill="#fdddcb"/><rect x="414.67" y="123.30" width="9.21" height="4.10" fill="#fce2d2"/><rect x="423.28" y="123.30" width="9.21" height="4.10" fill="#fdddcb"/><rect x="431.88" y="123.30" width="9.21" height="4.10" fill="#fdddcb"/><rect x="440.49" y="123.30" width="9.21" height="4.10" fill="#fdddcb"/><rect x="337.20" y="126.80" width="9.21" height="4.10" fill="#fdd9c4"/><rect x="345.81" y="126.80" width="9.21" height="4.10" fill="#facab1"/><rect x="354.42" y="126.80" width="9.21" height="4.10" fill="#f9c4a9"/><rect x="363.02" y="126.80" width="9.21" height="4.10" fill="#f9c4a9"/><rect x="371.63" y="126.80" width="9.21" height="4.10" fill="#f9c4a9"/><rect x="380.24" y="126.80" width="9.21" height="4.10" fill="#f9c4a9"/><rect x="388.85" y="126.80" width="9.21" height="4.10" fill="#f9c4a9"/><rect x="397.45" y="126.80" width="9.21" height="4.10" fill="#facab1"/><rect x="406.06" y="126.80" width="9.21" height="4.10" fill="#fcd3bc"/><rect x="414.67" y="126.80" width="9.21" height="4.10" fill="#fcd3bc"/><rect x="423.28" y="126.80" width="9.21" height="4.10" fill="#facab1"/><rect x="431.88" y="126.80" width="9.21" height="4.10" fill="#facab1"/><rect x="440.49" y="126.80" width="9.21" height="4.10" fill="#facab1"/><rect x="337.20" y="130.30" width="9.21" height="4.10" fill="#facab1"/><rect x="345.81" y="130.30" width="9.21" height="4.10" fill="#f7b596"/><rect x="354.42" y="130.30" width="9.21" height="4.10" fill="#f6af8e"/><rect x="363.02" y="130.30" width="9.21" height="4.10" fill="#f6af8e"/><rect x="371.63" y="130.30" width="9.21" height="4.10" fill="#f6af8e"/><rect x="380.24" y="130.30" width="9.21" height="4.10" fill="#f6af8e"/><rect x="388.85" y="130.30" width="9.21" height="4.10" fill="#f5aa89"/><rect x="397.45" y="130.30" width="9.21" height="4.10" fill="#f8bda1"/><rect x="406.06" y="130.30" width="9.21" height="4.10" fill="#facab1"/><rect x="414.67" y="130.30" width="9.21" height="4.10" fill="#facab1"/><rect x="423.28" y="130.30" width="9.21" height="4.10" fill="#f8bda1"/><rect x="431.88" y="130.30" width="9.21" height="4.10" fill="#f6af8e"/><rect x="440.49" y="130.30" width="9.21" height="4.10" fill="#f7b596"/><rect x="337.20" y="133.80" width="9.21" height="4.10" fill="#f8bda1"/><rect x="345.81" y="133.80" width="9.21" height="4.10" fill="#f6af8e"/><rect x="354.42" y="133.80" width="9.21" height="4.10" fill="#f19e7d"/><rect x="363.02" y="133.80" width="9.21" height="4.10" fill="#f19e7d"/><rect x="371.63" y="133.80" width="9.21" height="4.10" fill="#f19e7d"/><rect x="380.24" y="133.80" width="9.21" height="4.10" fill="#f19e7d"/><rect x="388.85" y="133.80" width="9.21" height="4.10" fill="#f09c7b"/><rect x="397.45" y="133.80" width="9.21" height="4.10" fill="#f7b596"/><rect x="406.06" y="133.80" width="9.21" height="4.10" fill="#f9c4a9"/><rect x="414.67" y="133.80" width="9.21" height="4.10" fill="#facab1"/><rect x="423.28" y="133.80" width="9.21" height="4.10" fill="#f7b596"/><rect x="431.88" y="133.80" width="9.21" height="4.10" fill="#ee9677"/><rect x="440.49" y="133.80" width="9.21" height="4.10" fill="#f19e7d"/><rect x="337.20" y="137.30" width="9.21" height="4.10" fill="#f8bda1"/><rect x="345.81" y="137.30" width="9.21" height="4.10" fill="#f6af8e"/><rect x="354.42" y="137.30" width="9.21" height="4.10" fill="#ee9677"/><rect x="363.02" y="137.30" width="9.21" height="4.10" fill="#ee9677"/><rect x="371.63" y="137.30" width="9.21" height="4.10" fill="#f19e7d"/><rect x="380.24" y="137.30" width="9.21" height="4.10" fill="#ee9677"/><rect x="388.85" y="137.30" width="9.21" height="4.10" fill="#f09c7b"/><rect x="397.45" y="137.30" width="9.21" height="4.10" fill="#f7b596"/><rect x="406.06" y="137.30" width="9.21" height="4.10" fill="#fcd3bc"/><rect x="414.67" y="137.30" width="9.21" height="4.10" fill="#fcd3bc"/><rect x="423.28" y="137.30" width="9.21" height="4.10" fill="#f7b596"/><rect x="431.88" y="137.30" width="9.21" height="4.10" fill="#ea8e70"/><rect x="440.49" y="137.30" width="9.21" height="4.10" fill="#ee9677"/><rect x="337.20" y="140.80" width="9.21" height="4.10" fill="#f8bda1"/><rect x="345.81" y="140.80" width="9.21" height="4.10" fill="#f5ac8b"/><rect x="354.42" y="140.80" width="9.21" height="4.10" fill="#f3a481"/><rect x="363.02" y="140.80" width="9.21" height="4.10" fill="#f3a481"/><rect x="371.63" y="140.80" width="9.21" height="4.10" fill="#f3a481"/><rect x="380.24" y="140.80" width="9.21" height="4.10" fill="#ef9979"/><rect x="388.85" y="140.80" width="9.21" height="4.10" fill="#f3a481"/><rect x="397.45" y="140.80" width="9.21" height="4.10" fill="#f7b596"/><rect x="406.06" y="140.80" width="9.21" height="4.10" fill="#fbceb7"/><rect x="414.67" y="140.80" width="9.21" height="4.10" fill="#fbceb7"/><rect x="423.28" y="140.80" width="9.21" height="4.10" fill="#f8bda1"/><rect x="431.88" y="140.80" width="9.21" height="4.10" fill="#ef9979"/><rect x="440.49" y="140.80" width="9.21" height="4.10" fill="#ef9979"/><rect x="337.20" y="144.30" width="9.21" height="4.10" fill="#fbceb7"/><rect x="345.81" y="144.30" width="9.21" height="4.10" fill="#fbceb7"/><rect x="354.42" y="144.30" width="9.21" height="4.10" fill="#fbceb7"/><rect x="363.02" y="144.30" width="9.21" height="4.10" fill="#fcd7c2"/><rect x="371.63" y="144.30" width="9.21" height="4.10" fill="#fbceb7"/><rect x="380.24" y="144.30" width="9.21" height="4.10" fill="#f9c6ac"/><rect x="388.85" y="144.30" width="9.21" height="4.10" fill="#f9c6ac"/><rect x="397.45" y="144.30" width="9.21" height="4.10" fill="#fbceb7"/><rect x="406.06" y="144.30" width="9.21" height="4.10" fill="#fcd7c2"/><rect x="414.67" y="144.30" width="9.21" height="4.10" fill="#fcd7c2"/><rect x="423.28" y="144.30" width="9.21" height="4.10" fill="#fbceb7"/><rect x="431.88" y="144.30" width="9.21" height="4.10" fill="#f9c6ac"/><rect x="440.49" y="144.30" width="9.21" height="4.10" fill="#f9c6ac"/><rect x="337.20" y="147.80" width="9.21" height="4.10" fill="#fce2d2"/><rect x="345.81" y="147.80" width="9.21" height="4.10" fill="#fce2d2"/><rect x="354.42" y="147.80" width="9.21" height="4.10" fill="#fce2d2"/><rect x="363.02" y="147.80" width="9.21" height="4.10" fill="#fce2d2"/><rect x="371.63" y="147.80" width="9.21" height="4.10" fill="#facab1"/><rect x="380.24" y="147.80" width="9.21" height="4.10" fill="#facab1"/><rect x="388.85" y="147.80" width="9.21" height="4.10" fill="#fbe3d4"/><rect x="397.45" y="147.80" width="9.21" height="4.10" fill="#fbe5d8"/><rect x="406.06" y="147.80" width="9.21" height="4.10" fill="#fbe5d8"/><rect x="414.67" y="147.80" width="9.21" height="4.10" fill="#fbe5d8"/><rect x="423.28" y="147.80" width="9.21" height="4.10" fill="#fce2d2"/><rect x="431.88" y="147.80" width="9.21" height="4.10" fill="#fce2d2"/><rect x="440.49" y="147.80" width="9.21" height="4.10" fill="#fce2d2"/><rect x="337.20" y="151.30" width="9.21" height="4.10" fill="#fbe5d8"/><rect x="345.81" y="151.30" width="9.21" height="4.10" fill="#fbe5d8"/><rect x="354.42" y="151.30" width="9.21" height="4.10" fill="#fbe5d8"/><rect x="363.02" y="151.30" width="9.21" height="4.10" fill="#fbe5d8"/><rect x="371.63" y="151.30" width="9.21" height="4.10" fill="#fce2d2"/><rect x="380.24" y="151.30" width="9.21" height="4.10" fill="#fce2d2"/><rect x="388.85" y="151.30" width="9.21" height="4.10" fill="#faeae1"/><rect x="397.45" y="151.30" width="9.21" height="4.10" fill="#f9f0eb"/><rect x="406.06" y="151.30" width="9.21" height="4.10" fill="#f9f0eb"/><rect x="414.67" y="151.30" width="9.21" height="4.10" fill="#fbe5d8"/><rect x="423.28" y="151.30" width="9.21" height="4.10" fill="#fce2d2"/><rect x="431.88" y="151.30" width="9.21" height="4.10" fill="#fbe5d8"/><rect x="440.49" y="151.30" width="9.21" height="4.10" fill="#fae8de"/><rect x="337.20" y="154.80" width="9.21" height="4.10" fill="#f9ede5"/><rect x="345.81" y="154.80" width="9.21" height="4.10" fill="#f9ede5"/><rect x="354.42" y="154.80" width="9.21" height="4.10" fill="#f9ede5"/><rect x="363.02" y="154.80" width="9.21" height="4.10" fill="#f9ede5"/><rect x="371.63" y="154.80" width="9.21" height="4.10" fill="#f9ede5"/><rect x="380.24" y="154.80" width="9.21" height="4.10" fill="#f9ede5"/><rect x="388.85" y="154.80" width="9.21" height="4.10" fill="#f2f5f6"/><rect x="397.45" y="154.80" width="9.21" height="4.10" fill="#e4eef4"/><rect x="406.06" y="154.80" width="9.21" height="4.10" fill="#ecf2f5"/><rect x="414.67" y="154.80" width="9.21" height="4.10" fill="#f9f0eb"/><rect x="423.28" y="154.80" width="9.21" height="4.10" fill="#fae9df"/><rect x="431.88" y="154.80" width="9.21" height="4.10" fill="#fae9df"/><rect x="440.49" y="154.80" width="9.21" height="4.10" fill="#f8f3f0"/><rect x="337.20" y="158.30" width="9.21" height="4.10" fill="#f6f7f7"/><rect x="345.81" y="158.30" width="9.21" height="4.10" fill="#f8f3f0"/><rect x="354.42" y="158.30" width="9.21" height="4.10" fill="#f6f7f7"/><rect x="363.02" y="158.30" width="9.21" height="4.10" fill="#f6f7f7"/><rect x="371.63" y="158.30" width="9.21" height="4.10" fill="#f6f7f7"/><rect x="380.24" y="158.30" width="9.21" height="4.10" fill="#f6f7f7"/><rect x="388.85" y="158.30" width="9.21" height="4.10" fill="#ecf2f5"/><rect x="397.45" y="158.30" width="9.21" height="4.10" fill="#e4eef4"/><rect x="406.06" y="158.30" width="9.21" height="4.10" fill="#ecf2f5"/><rect x="414.67" y="158.30" width="9.21" height="4.10" fill="#f6f7f7"/><rect x="423.28" y="158.30" width="9.21" height="4.10" fill="#f9ede5"/><rect x="431.88" y="158.30" width="9.21" height="4.10" fill="#f9ede5"/><rect x="440.49" y="158.30" width="9.21" height="4.10" fill="#f6f7f7"/><rect x="337.20" y="161.80" width="9.21" height="4.10" fill="#eff3f5"/><rect x="345.81" y="161.80" width="9.21" height="4.10" fill="#eff3f5"/><rect x="354.42" y="161.80" width="9.21" height="4.10" fill="#ecf2f5"/><rect x="363.02" y="161.80" width="9.21" height="4.10" fill="#ecf2f5"/><rect x="371.63" y="161.80" width="9.21" height="4.10" fill="#ecf2f5"/><rect x="380.24" y="161.80" width="9.21" height="4.10" fill="#ecf2f5"/><rect x="388.85" y="161.80" width="9.21" height="4.10" fill="#eaf1f5"/><rect x="397.45" y="161.80" width="9.21" height="4.10" fill="#e7f0f4"/><rect x="406.06" y="161.80" width="9.21" height="4.10" fill="#ecf2f5"/><rect x="414.67" y="161.80" width="9.21" height="4.10" fill="#f6f7f7"/><rect x="423.28" y="161.80" width="9.21" height="4.10" fill="#f9ede5"/><rect x="431.88" y="161.80" width="9.21" height="4.10" fill="#f9ede5"/><rect x="440.49" y="161.80" width="9.21" height="4.10" fill="#f6f7f7"/><rect x="337.20" y="165.30" width="9.21" height="4.10" fill="#eff3f5"/><rect x="345.81" y="165.30" width="9.21" height="4.10" fill="#e7f0f4"/><rect x="354.42" y="165.30" width="9.21" height="4.10" fill="#e4eef4"/><rect x="363.02" y="165.30" width="9.21" height="4.10" fill="#e4eef4"/><rect x="371.63" y="165.30" width="9.21" height="4.10" fill="#e4eef4"/><rect x="380.24" y="165.30" width="9.21" height="4.10" fill="#e7f0f4"/><rect x="388.85" y="165.30" width="9.21" height="4.10" fill="#ecf2f5"/><rect x="397.45" y="165.30" width="9.21" height="4.10" fill="#eff3f5"/><rect x="406.06" y="165.30" width="9.21" height="4.10" fill="#eff3f5"/><rect x="414.67" y="165.30" width="9.21" height="4.10" fill="#f3f5f6"/><rect x="423.28" y="165.30" width="9.21" height="4.10" fill="#f8f3f0"/><rect x="431.88" y="165.30" width="9.21" height="4.10" fill="#f8f3f0"/><rect x="440.49" y="165.30" width="9.21" height="4.10" fill="#f6f7f7"/><rect x="337.20" y="168.80" width="9.21" height="4.10" fill="#eff3f5"/><rect x="345.81" y="168.80" width="9.21" height="4.10" fill="#e7f0f4"/><rect x="354.42" y="168.80" width="9.21" height="4.10" fill="#e4eef4"/><rect x="363.02" y="168.80" width="9.21" height="4.10" fill="#e4eef4"/><rect x="371.63" y="168.80" width="9.21" height="4.10" fill="#e4eef4"/><rect x="380.24" y="168.80" width="9.21" height="4.10" fill="#e7f0f4"/><rect x="388.85" y="168.80" width="9.21" height="4.10" fill="#eff3f5"/><rect x="397.45" y="168.80" width="9.21" height="4.10" fill="#f3f5f6"/><rect x="406.06" y="168.80" width="9.21" height="4.10" fill="#f3f5f6"/><rect x="414.67" y="168.80" width="9.21" height="4.10" fill="#e7f0f4"/><rect x="423.28" y="168.80" width="9.21" height="4.10" fill="#e7f0f4"/><rect x="431.88" y="168.80" width="9.21" height="4.10" fill="#f6f7f7"/><rect x="440.49" y="168.80" width="9.21" height="4.10" fill="#f8f3f0"/><rect x="337.20" y="172.30" width="9.21" height="4.10" fill="#f3f5f6"/><rect x="345.81" y="172.30" width="9.21" height="4.10" fill="#ecf2f5"/><rect x="354.42" y="172.30" width="9.21" height="4.10" fill="#ecf2f5"/><rect x="363.02" y="172.30" width="9.21" height="4.10" fill="#ecf2f5"/><rect x="371.63" y="172.30" width="9.21" height="4.10" fill="#ecf2f5"/><rect x="380.24" y="172.30" width="9.21" height="4.10" fill="#ecf2f5"/><rect x="388.85" y="172.30" width="9.21" height="4.10" fill="#f3f5f6"/><rect x="397.45" y="172.30" width="9.21" height="4.10" fill="#f6f7f7"/><rect x="406.06" y="172.30" width="9.21" height="4.10" fill="#f6f7f7"/><rect x="414.67" y="172.30" width="9.21" height="4.10" fill="#e7f0f4"/><rect x="423.28" y="172.30" width="9.21" height="4.10" fill="#e7f0f4"/><rect x="431.88" y="172.30" width="9.21" height="4.10" fill="#f6f7f7"/><rect x="440.49" y="172.30" width="9.21" height="4.10" fill="#f9f0eb"/><rect x="337.20" y="175.80" width="9.21" height="4.10" fill="#f6f7f7"/><rect x="345.81" y="175.80" width="9.21" height="4.10" fill="#f3f5f6"/><rect x="354.42" y="175.80" width="9.21" height="4.10" fill="#f3f5f6"/><rect x="363.02" y="175.80" width="9.21" height="4.10" fill="#f3f5f6"/><rect x="371.63" y="175.80" width="9.21" height="4.10" fill="#f3f5f6"/><rect x="380.24" y="175.80" width="9.21" height="4.10" fill="#f3f5f6"/><rect x="388.85" y="175.80" width="9.21" height="4.10" fill="#f7f5f4"/><rect x="397.45" y="175.80" width="9.21" height="4.10" fill="#f9ede5"/><rect x="406.06" y="175.80" width="9.21" height="4.10" fill="#f8f3f0"/><rect x="414.67" y="175.80" width="9.21" height="4.10" fill="#eff3f5"/><rect x="423.28" y="175.80" width="9.21" height="4.10" fill="#f3f5f6"/><rect x="431.88" y="175.80" width="9.21" height="4.10" fill="#f9f0eb"/><rect x="440.49" y="175.80" width="9.21" height="4.10" fill="#f9ede5"/><rect x="337.20" y="179.30" width="9.21" height="4.10" fill="#f8f3f0"/><rect x="345.81" y="179.30" width="9.21" height="4.10" fill="#f6f7f7"/><rect x="354.42" y="179.30" width="9.21" height="4.10" fill="#f6f7f7"/><rect x="363.02" y="179.30" width="9.21" height="4.10" fill="#f6f7f7"/><rect x="371.63" y="179.30" width="9.21" height="4.10" fill="#f6f7f7"/><rect x="380.24" y="179.30" width="9.21" height="4.10" fill="#f6f7f7"/><rect x="388.85" y="179.30" width="9.21" height="4.10" fill="#f8f3f0"/><rect x="397.45" y="179.30" width="9.21" height="4.10" fill="#f9ede5"/><rect x="406.06" y="179.30" width="9.21" height="4.10" fill="#f9f0eb"/><rect x="414.67" y="179.30" width="9.21" height="4.10" fill="#f9f0eb"/><rect x="423.28" y="179.30" width="9.21" height="4.10" fill="#f9ede5"/><rect x="431.88" y="179.30" width="9.21" height="4.10" fill="#fae9df"/><rect x="440.49" y="179.30" width="9.21" height="4.10" fill="#f9ede5"/></g>
<rect x="337.20" y="112.80" width="111.90" height="70.00" fill="none" stroke="#000" stroke-width="1.40"/>
<path d="M332.00 123.60H337.20M332.00 182.80H337.20M337.20 182.80V188.00M396.40 182.80V188.00" stroke="#000" stroke-width="1.40" fill="none"/>
<g filter="url(#bl)" shape-rendering="crispEdges"><rect x="460.60" y="112.80" width="9.21" height="4.10" fill="#b1d5e7"/><rect x="469.21" y="112.80" width="9.21" height="4.10" fill="#e4eef4"/><rect x="477.82" y="112.80" width="9.21" height="4.10" fill="#ecf2f5"/><rect x="486.42" y="112.80" width="9.21" height="4.10" fill="#eff3f5"/><rect x="495.03" y="112.80" width="9.21" height="4.10" fill="#f3f5f6"/><rect x="503.64" y="112.80" width="9.21" height="4.10" fill="#f6f7f7"/><rect x="512.25" y="112.80" width="9.21" height="4.10" fill="#f6f7f7"/><rect x="520.85" y="112.80" width="9.21" height="4.10" fill="#f6f7f7"/><rect x="529.46" y="112.80" width="9.21" height="4.10" fill="#f3f5f6"/><rect x="538.07" y="112.80" width="9.21" height="4.10" fill="#f3f5f6"/><rect x="546.68" y="112.80" width="9.21" height="4.10" fill="#eff3f5"/><rect x="555.28" y="112.80" width="9.21" height="4.10" fill="#ecf2f5"/><rect x="563.89" y="112.80" width="9.21" height="4.10" fill="#e0ecf3"/><rect x="460.60" y="116.30" width="9.21" height="4.10" fill="#ddebf2"/><rect x="469.21" y="116.30" width="9.21" height="4.10" fill="#f9efe9"/><rect x="477.82" y="116.30" width="9.21" height="4.10" fill="#fae9df"/><rect x="486.42" y="116.30" width="9.21" height="4.10" fill="#fbe6da"/><rect x="495.03" y="116.30" width="9.21" height="4.10" fill="#fbe4d6"/><rect x="503.64" y="116.30" width="9.21" height="4.10" fill="#fce0d0"/><rect x="512.25" y="116.30" width="9.21" height="4.10" fill="#fce0d0"/><rect x="520.85" y="116.30" width="9.21" height="4.10" fill="#fbe4d6"/><rect x="529.46" y="116.30" width="9.21" height="4.10" fill="#fbe5d8"/><rect x="538.07" y="116.30" width="9.21" height="4.10" fill="#fae7dc"/><rect x="546.68" y="116.30" width="9.21" height="4.10" fill="#faeae1"/><rect x="555.28" y="116.30" width="9.21" height="4.10" fill="#f8f1ed"/><rect x="563.89" y="116.30" width="9.21" height="4.10" fill="#eff3f5"/><rect x="460.60" y="119.80" width="9.21" height="4.10" fill="#f6f7f7"/><rect x="469.21" y="119.80" width="9.21" height="4.10" fill="#fcd3bc"/><rect x="477.82" y="119.80" width="9.21" height="4.10" fill="#f9c6ac"/><rect x="486.42" y="119.80" width="9.21" height="4.10" fill="#f7b99c"/><rect x="495.03" y="119.80" width="9.21" height="4.10" fill="#f6b394"/><rect x="503.64" y="119.80" width="9.21" height="4.10" fill="#f5ac8b"/><rect x="512.25" y="119.80" width="9.21" height="4.10" fill="#f4a683"/><rect x="520.85" y="119.80" width="9.21" height="4.10" fill="#f5ac8b"/><rect x="529.46" y="119.80" width="9.21" height="4.10" fill="#f5aa89"/><rect x="538.07" y="119.80" width="9.21" height="4.10" fill="#f7b799"/><rect x="546.68" y="119.80" width="9.21" height="4.10" fill="#f9c6ac"/><rect x="555.28" y="119.80" width="9.21" height="4.10" fill="#fcd3bc"/><rect x="563.89" y="119.80" width="9.21" height="4.10" fill="#fbe5d8"/><rect x="460.60" y="123.30" width="9.21" height="4.10" fill="#fcd3bc"/><rect x="469.21" y="123.30" width="9.21" height="4.10" fill="#f4a683"/><rect x="477.82" y="123.30" width="9.21" height="4.10" fill="#ef9979"/><rect x="486.42" y="123.30" width="9.21" height="4.10" fill="#e8896c"/><rect x="495.03" y="123.30" width="9.21" height="4.10" fill="#e17860"/><rect x="503.64" y="123.30" width="9.21" height="4.10" fill="#da6853"/><rect x="512.25" y="123.30" width="9.21" height="4.10" fill="#d6604d"/><rect x="520.85" y="123.30" width="9.21" height="4.10" fill="#da6853"/><rect x="529.46" y="123.30" width="9.21" height="4.10" fill="#d55d4c"/><rect x="538.07" y="123.30" width="9.21" height="4.10" fill="#e17860"/><rect x="546.68" y="123.30" width="9.21" height="4.10" fill="#eb9172"/><rect x="555.28" y="123.30" width="9.21" height="4.10" fill="#f5aa89"/><rect x="563.89" y="123.30" width="9.21" height="4.10" fill="#f9c6ac"/><rect x="460.60" y="126.80" width="9.21" height="4.10" fill="#f6af8e"/><rect x="469.21" y="126.80" width="9.21" height="4.10" fill="#eb9172"/><rect x="477.82" y="126.80" width="9.21" height="4.10" fill="#e58368"/><rect x="486.42" y="126.80" width="9.21" height="4.10" fill="#dc6e57"/><rect x="495.03" y="126.80" width="9.21" height="4.10" fill="#d6604d"/><rect x="503.64" y="126.80" width="9.21" height="4.10" fill="#cf5246"/><rect x="512.25" y="126.80" width="9.21" height="4.10" fill="#cb4942"/><rect x="520.85" y="126.80" width="9.21" height="4.10" fill="#cf5246"/><rect x="529.46" y="126.80" width="9.21" height="4.10" fill="#cb4942"/><rect x="538.07" y="126.80" width="9.21" height="4.10" fill="#d6604d"/><rect x="546.68" y="126.80" width="9.21" height="4.10" fill="#e17860"/><rect x="555.28" y="126.80" width="9.21" height="4.10" fill="#ee9677"/><rect x="563.89" y="126.80" width="9.21" height="4.10" fill="#f6b191"/><rect x="460.60" y="130.30" width="9.21" height="4.10" fill="#eb9172"/><rect x="469.21" y="130.30" width="9.21" height="4.10" fill="#de735c"/><rect x="477.82" y="130.30" width="9.21" height="4.10" fill="#d86551"/><rect x="486.42" y="130.30" width="9.21" height="4.10" fill="#cf5246"/><rect x="495.03" y="130.30" width="9.21" height="4.10" fill="#c43b3c"/><rect x="503.64" y="130.30" width="9.21" height="4.10" fill="#bf3338"/><rect x="512.25" y="130.30" width="9.21" height="4.10" fill="#bd2d35"/><rect x="520.85" y="130.30" width="9.21" height="4.10" fill="#bf3338"/><rect x="529.46" y="130.30" width="9.21" height="4.10" fill="#bb2a34"/><rect x="538.07" y="130.30" width="9.21" height="4.10" fill="#c6413e"/><rect x="546.68" y="130.30" width="9.21" height="4.10" fill="#d35a4a"/><rect x="555.28" y="130.30" width="9.21" height="4.10" fill="#e48066"/><rect x="563.89" y="130.30" width="9.21" height="4.10" fill="#f19e7d"/><rect x="460.60" y="133.80" width="9.21" height="4.10" fill="#de735c"/><rect x="469.21" y="133.80" width="9.21" height="4.10" fill="#d6604d"/><rect x="477.82" y="133.80" width="9.21" height="4.10" fill="#cf5246"/><rect x="486.42" y="133.80" width="9.21" height="4.10" fill="#c43b3c"/><rect x="495.03" y="133.80" width="9.21" height="4.10" fill="#b82531"/><rect x="503.64" y="133.80" width="9.21" height="4.10" fill="#b61f2e"/><rect x="512.25" y="133.80" width="9.21" height="4.10" fill="#b61f2e"/><rect x="520.85" y="133.80" width="9.21" height="4.10" fill="#bd2d35"/><rect x="529.46" y="133.80" width="9.21" height="4.10" fill="#b72230"/><rect x="538.07" y="133.80" width="9.21" height="4.10" fill="#c2383a"/><rect x="546.68" y="133.80" width="9.21" height="4.10" fill="#cf5246"/><rect x="555.28" y="133.80" width="9.21" height="4.10" fill="#e17860"/><rect x="563.89" y="133.80" width="9.21" height="4.10" fill="#ee9677"/><rect x="460.60" y="137.30" width="9.21" height="4.10" fill="#de735c"/><rect x="469.21" y="137.30" width="9.21" height="4.10" fill="#d6604d"/><rect x="477.82" y="137.30" width="9.21" height="4.10" fill="#d25849"/><rect x="486.42" y="137.30" width="9.21" height="4.10" fill="#cb4942"/><rect x="495.03" y="137.30" width="9.21" height="4.10" fill="#c43b3c"/><rect x="503.64" y="137.30" width="9.21" height="4.10" fill="#bf3338"/><rect x="512.25" y="137.30" width="9.21" height="4.10" fill="#bf3338"/><rect x="520.85" y="137.30" width="9.21" height="4.10" fill="#c6413e"/><rect x="529.46" y="137.30" width="9.21" height="4.10" fill="#c2383a"/><rect x="538.07" y="137.30" width="9.21" height="4.10" fill="#cf5246"/><rect x="546.68" y="137.30" width="9.21" height="4.10" fill="#da6853"/><rect x="555.28" y="137.30" width="9.21" height="4.10" fill="#e8896c"/><rect x="563.89" y="137.30" width="9.21" height="4.10" fill="#f4a683"/><rect x="460.60" y="140.80" width="9.21" height="4.10" fill="#dd7059"/><rect x="469.21" y="140.80" width="9.21" height="4.10" fill="#d6604d"/><rect x="477.82" y="140.80" width="9.21" height="4.10" fill="#d25849"/><rect x="486.42" y="140.80" width="9.21" height="4.10" fill="#d25849"/><rect x="495.03" y="140.80" width="9.21" height="4.10" fill="#ce4f45"/><rect x="503.64" y="140.80" width="9.21" height="4.10" fill="#c94741"/><rect x="512.25" y="140.80" width="9.21" height="4.10" fill="#c94741"/><rect x="520.85" y="140.80" width="9.21" height="4.10" fill="#d25849"/><rect x="529.46" y="140.80" width="9.21" height="4.10" fill="#d05548"/><rect x="538.07" y="140.80" width="9.21" height="4.10" fill="#d86551"/><rect x="546.68" y="140.80" width="9.21" height="4.10" fill="#e17860"/><rect x="555.28" y="140.80" width="9.21" height="4.10" fill="#eb9172"/><rect x="563.89" y="140.80" width="9.21" height="4.10" fill="#f5aa89"/><rect x="460.60" y="144.30" width="9.21" height="4.10" fill="#ef9979"/><rect x="469.21" y="144.30" width="9.21" height="4.10" fill="#ef9979"/><rect x="477.82" y="144.30" width="9.21" height="4.10" fill="#ef9979"/><rect x="486.42" y="144.30" width="9.21" height="4.10" fill="#ef9979"/><rect x="495.03" y="144.30" width="9.21" height="4.10" fill="#eb9172"/><rect x="503.64" y="144.30" width="9.21" height="4.10" fill="#eb9172"/><rect x="512.25" y="144.30" width="9.21" height="4.10" fill="#eb9172"/><rect x="520.85" y="144.30" width="9.21" height="4.10" fill="#ef9979"/><rect x="529.46" y="144.30" width="9.21" height="4.10" fill="#eb9172"/><rect x="538.07" y="144.30" width="9.21" height="4.10" fill="#f3a481"/><rect x="546.68" y="144.30" width="9.21" height="4.10" fill="#f5aa89"/><rect x="555.28" y="144.30" width="9.21" height="4.10" fill="#f7b799"/><rect x="563.89" y="144.30" width="9.21" height="4.10" fill="#f9c6ac"/><rect x="460.60" y="147.80" width="9.21" height="4.10" fill="#fcd3bc"/><rect x="469.21" y="147.80" width="9.21" height="4.10" fill="#f8bfa4"/><rect x="477.82" y="147.80" width="9.21" height="4.10" fill="#f7b99c"/><rect x="486.42" y="147.80" width="9.21" height="4.10" fill="#f7b99c"/><rect x="495.03" y="147.80" width="9.21" height="4.10" fill="#f7b99c"/><rect x="503.64" y="147.80" width="9.21" height="4.10" fill="#f8bfa4"/><rect x="512.25" y="147.80" width="9.21" height="4.10" fill="#f9c6ac"/><rect x="520.85" y="147.80" width="9.21" height="4.10" fill="#f9c6ac"/><rect x="529.46" y="147.80" width="9.21" height="4.10" fill="#f9c6ac"/><rect x="538.07" y="147.80" width="9.21" height="4.10" fill="#fbccb4"/><rect x="546.68" y="147.80" width="9.21" height="4.10" fill="#fcd3bc"/><rect x="555.28" y="147.80" width="9.21" height="4.10" fill="#fddbc7"/><rect x="563.89" y="147.80" width="9.21" height="4.10" fill="#fcdecd"/><rect x="460.60" y="151.30" width="9.21" height="4.10" fill="#f9efe9"/><rect x="469.21" y="151.30" width="9.21" height="4.10" fill="#fbe6da"/><rect x="477.82" y="151.30" width="9.21" height="4.10" fill="#fbe4d6"/><rect x="486.42" y="151.30" width="9.21" height="4.10" fill="#fce0d0"/><rect x="495.03" y="151.30" width="9.21" height="4.10" fill="#fce0d0"/><rect x="503.64" y="151.30" width="9.21" height="4.10" fill="#fbe4d6"/><rect x="512.25" y="151.30" width="9.21" height="4.10" fill="#fbe6da"/><rect x="520.85" y="151.30" width="9.21" height="4.10" fill="#fbe6da"/><rect x="529.46" y="151.30" width="9.21" height="4.10" fill="#fae7dc"/><rect x="538.07" y="151.30" width="9.21" height="4.10" fill="#faeae1"/><rect x="546.68" y="151.30" width="9.21" height="4.10" fill="#f9eee7"/><rect x="555.28" y="151.30" width="9.21" height="4.10" fill="#f9eee7"/><rect x="563.89" y="151.30" width="9.21" height="4.10" fill="#f9eee7"/><rect x="460.60" y="154.80" width="9.21" height="4.10" fill="#eff3f5"/><rect x="469.21" y="154.80" width="9.21" height="4.10" fill="#f6f7f7"/><rect x="477.82" y="154.80" width="9.21" height="4.10" fill="#f8f1ed"/><rect x="486.42" y="154.80" width="9.21" height="4.10" fill="#f9ebe3"/><rect x="495.03" y="154.80" width="9.21" height="4.10" fill="#f9ebe3"/><rect x="503.64" y="154.80" width="9.21" height="4.10" fill="#f8f1ed"/><rect x="512.25" y="154.80" width="9.21" height="4.10" fill="#f8f1ed"/><rect x="520.85" y="154.80" width="9.21" height="4.10" fill="#f8f4f2"/><rect x="529.46" y="154.80" width="9.21" height="4.10" fill="#f6f7f7"/><rect x="538.07" y="154.80" width="9.21" height="4.10" fill="#f3f5f6"/><rect x="546.68" y="154.80" width="9.21" height="4.10" fill="#f3f5f6"/><rect x="555.28" y="154.80" width="9.21" height="4.10" fill="#f3f5f6"/><rect x="563.89" y="154.80" width="9.21" height="4.10" fill="#f3f5f6"/><rect x="460.60" y="158.30" width="9.21" height="4.10" fill="#d8e9f1"/><rect x="469.21" y="158.30" width="9.21" height="4.10" fill="#e0ecf3"/><rect x="477.82" y="158.30" width="9.21" height="4.10" fill="#ecf2f5"/><rect x="486.42" y="158.30" width="9.21" height="4.10" fill="#f6f7f7"/><rect x="495.03" y="158.30" width="9.21" height="4.10" fill="#f6f7f7"/><rect x="503.64" y="158.30" width="9.21" height="4.10" fill="#ecf2f5"/><rect x="512.25" y="158.30" width="9.21" height="4.10" fill="#ecf2f5"/><rect x="520.85" y="158.30" width="9.21" height="4.10" fill="#e7f0f4"/><rect x="529.46" y="158.30" width="9.21" height="4.10" fill="#e4eef4"/><rect x="538.07" y="158.30" width="9.21" height="4.10" fill="#e4eef4"/><rect x="546.68" y="158.30" width="9.21" height="4.10" fill="#e4eef4"/><rect x="555.28" y="158.30" width="9.21" height="4.10" fill="#e4eef4"/><rect x="563.89" y="158.30" width="9.21" height="4.10" fill="#e4eef4"/><rect x="460.60" y="161.80" width="9.21" height="4.10" fill="#bddbea"/><rect x="469.21" y="161.80" width="9.21" height="4.10" fill="#c5dfec"/><rect x="477.82" y="161.80" width="9.21" height="4.10" fill="#d4e6f1"/><rect x="486.42" y="161.80" width="9.21" height="4.10" fill="#e0ecf3"/><rect x="495.03" y="161.80" width="9.21" height="4.10" fill="#e0ecf3"/><rect x="503.64" y="161.80" width="9.21" height="4.10" fill="#d4e6f1"/><rect x="512.25" y="161.80" width="9.21" height="4.10" fill="#d1e5f0"/><rect x="520.85" y="161.80" width="9.21" height="4.10" fill="#d1e5f0"/><rect x="529.46" y="161.80" width="9.21" height="4.10" fill="#d1e5f0"/><rect x="538.07" y="161.80" width="9.21" height="4.10" fill="#d8e9f1"/><rect x="546.68" y="161.80" width="9.21" height="4.10" fill="#ddebf2"/><rect x="555.28" y="161.80" width="9.21" height="4.10" fill="#ddebf2"/><rect x="563.89" y="161.80" width="9.21" height="4.10" fill="#ddebf2"/><rect x="460.60" y="165.30" width="9.21" height="4.10" fill="#9dcbe1"/><rect x="469.21" y="165.30" width="9.21" height="4.10" fill="#a5cee3"/><rect x="477.82" y="165.30" width="9.21" height="4.10" fill="#b1d5e7"/><rect x="486.42" y="165.30" width="9.21" height="4.10" fill="#bddbea"/><rect x="495.03" y="165.30" width="9.21" height="4.10" fill="#bddbea"/><rect x="503.64" y="165.30" width="9.21" height="4.10" fill="#b8d8e9"/><rect x="512.25" y="165.30" width="9.21" height="4.10" fill="#b8d8e9"/><rect x="520.85" y="165.30" width="9.21" height="4.10" fill="#b1d5e7"/><rect x="529.46" y="165.30" width="9.21" height="4.10" fill="#b1d5e7"/><rect x="538.07" y="165.30" width="9.21" height="4.10" fill="#bddbea"/><rect x="546.68" y="165.30" width="9.21" height="4.10" fill="#d4e6f1"/><rect x="555.28" y="165.30" width="9.21" height="4.10" fill="#d8e9f1"/><rect x="563.89" y="165.30" width="9.21" height="4.10" fill="#d8e9f1"/><rect x="460.60" y="168.80" width="9.21" height="4.10" fill="#81bad8"/><rect x="469.21" y="168.80" width="9.21" height="4.10" fill="#81bad8"/><rect x="477.82" y="168.80" width="9.21" height="4.10" fill="#8ac0db"/><rect x="486.42" y="168.80" width="9.21" height="4.10" fill="#90c4dd"/><rect x="495.03" y="168.80" width="9.21" height="4.10" fill="#90c4dd"/><rect x="503.64" y="168.80" width="9.21" height="4.10" fill="#a5cee3"/><rect x="512.25" y="168.80" width="9.21" height="4.10" fill="#acd2e5"/><rect x="520.85" y="168.80" width="9.21" height="4.10" fill="#a5cee3"/><rect x="529.46" y="168.80" width="9.21" height="4.10" fill="#a5cee3"/><rect x="538.07" y="168.80" width="9.21" height="4.10" fill="#b1d5e7"/><rect x="546.68" y="168.80" width="9.21" height="4.10" fill="#d1e5f0"/><rect x="555.28" y="168.80" width="9.21" height="4.10" fill="#d4e6f1"/><rect x="563.89" y="168.80" width="9.21" height="4.10" fill="#d4e6f1"/><rect x="460.60" y="172.30" width="9.21" height="4.10" fill="#68abd0"/><rect x="469.21" y="172.30" width="9.21" height="4.10" fill="#62a7ce"/><rect x="477.82" y="172.30" width="9.21" height="4.10" fill="#68abd0"/><rect x="486.42" y="172.30" width="9.21" height="4.10" fill="#71b0d3"/><rect x="495.03" y="172.30" width="9.21" height="4.10" fill="#81bad8"/><rect x="503.64" y="172.30" width="9.21" height="4.10" fill="#9dcbe1"/><rect x="512.25" y="172.30" width="9.21" height="4.10" fill="#acd2e5"/><rect x="520.85" y="172.30" width="9.21" height="4.10" fill="#a5cee3"/><rect x="529.46" y="172.30" width="9.21" height="4.10" fill="#a5cee3"/><rect x="538.07" y="172.30" width="9.21" height="4.10" fill="#b1d5e7"/><rect x="546.68" y="172.30" width="9.21" height="4.10" fill="#d1e5f0"/><rect x="555.28" y="172.30" width="9.21" height="4.10" fill="#d1e5f0"/><rect x="563.89" y="172.30" width="9.21" height="4.10" fill="#d1e5f0"/><rect x="460.60" y="175.80" width="9.21" height="4.10" fill="#71b0d3"/><rect x="469.21" y="175.80" width="9.21" height="4.10" fill="#81bad8"/><rect x="477.82" y="175.80" width="9.21" height="4.10" fill="#90c4dd"/><rect x="486.42" y="175.80" width="9.21" height="4.10" fill="#98c8e0"/><rect x="495.03" y="175.80" width="9.21" height="4.10" fill="#9dcbe1"/><rect x="503.64" y="175.80" width="9.21" height="4.10" fill="#a5cee3"/><rect x="512.25" y="175.80" width="9.21" height="4.10" fill="#aed3e6"/><rect x="520.85" y="175.80" width="9.21" height="4.10" fill="#b1d5e7"/><rect x="529.46" y="175.80" width="9.21" height="4.10" fill="#b8d8e9"/><rect x="538.07" y="175.80" width="9.21" height="4.10" fill="#c5dfec"/><rect x="546.68" y="175.80" width="9.21" height="4.10" fill="#d1e5f0"/><rect x="555.28" y="175.80" width="9.21" height="4.10" fill="#d1e5f0"/><rect x="563.89" y="175.80" width="9.21" height="4.10" fill="#d1e5f0"/><rect x="460.60" y="179.30" width="9.21" height="4.10" fill="#59a1ca"/><rect x="469.21" y="179.30" width="9.21" height="4.10" fill="#9dcbe1"/><rect x="477.82" y="179.30" width="9.21" height="4.10" fill="#acd2e5"/><rect x="486.42" y="179.30" width="9.21" height="4.10" fill="#acd2e5"/><rect x="495.03" y="179.30" width="9.21" height="4.10" fill="#acd2e5"/><rect x="503.64" y="179.30" width="9.21" height="4.10" fill="#acd2e5"/><rect x="512.25" y="179.30" width="9.21" height="4.10" fill="#aed3e6"/><rect x="520.85" y="179.30" width="9.21" height="4.10" fill="#b8d8e9"/><rect x="529.46" y="179.30" width="9.21" height="4.10" fill="#bddbea"/><rect x="538.07" y="179.30" width="9.21" height="4.10" fill="#c5dfec"/><rect x="546.68" y="179.30" width="9.21" height="4.10" fill="#cae1ee"/><rect x="555.28" y="179.30" width="9.21" height="4.10" fill="#cae1ee"/><rect x="563.89" y="179.30" width="9.21" height="4.10" fill="#cae1ee"/></g>
<rect x="460.60" y="112.80" width="111.90" height="70.00" fill="none" stroke="#000" stroke-width="1.40"/>
<path d="M455.40 123.60H460.60M455.40 182.80H460.60M460.60 182.80V188.00M519.80 182.80V188.00" stroke="#000" stroke-width="1.40" fill="none"/>
<g filter="url(#bl)" shape-rendering="crispEdges"><rect x="90.50" y="196.80" width="9.21" height="4.12" fill="#4393c3"/><rect x="99.11" y="196.80" width="9.21" height="4.12" fill="#529dc8"/><rect x="107.72" y="196.80" width="9.21" height="4.12" fill="#62a7ce"/><rect x="116.32" y="196.80" width="9.21" height="4.12" fill="#68abd0"/><rect x="124.93" y="196.80" width="9.21" height="4.12" fill="#71b0d3"/><rect x="133.54" y="196.80" width="9.21" height="4.12" fill="#7bb6d6"/><rect x="142.15" y="196.80" width="9.21" height="4.12" fill="#7bb6d6"/><rect x="150.75" y="196.80" width="9.21" height="4.12" fill="#7bb6d6"/><rect x="159.36" y="196.80" width="9.21" height="4.12" fill="#7bb6d6"/><rect x="167.97" y="196.80" width="9.21" height="4.12" fill="#71b0d3"/><rect x="176.58" y="196.80" width="9.21" height="4.12" fill="#68abd0"/><rect x="185.18" y="196.80" width="9.21" height="4.12" fill="#62a7ce"/><rect x="193.79" y="196.80" width="9.21" height="4.12" fill="#59a1ca"/><rect x="90.50" y="200.31" width="9.21" height="4.12" fill="#7bb6d6"/><rect x="99.11" y="200.31" width="9.21" height="4.12" fill="#8ac0db"/><rect x="107.72" y="200.31" width="9.21" height="4.12" fill="#98c8e0"/><rect x="116.32" y="200.31" width="9.21" height="4.12" fill="#9dcbe1"/><rect x="124.93" y="200.31" width="9.21" height="4.12" fill="#a5cee3"/><rect x="133.54" y="200.31" width="9.21" height="4.12" fill="#acd2e5"/><rect x="142.15" y="200.31" width="9.21" height="4.12" fill="#aed3e6"/><rect x="150.75" y="200.31" width="9.21" height="4.12" fill="#b1d5e7"/><rect x="159.36" y="200.31" width="9.21" height="4.12" fill="#acd2e5"/><rect x="167.97" y="200.31" width="9.21" height="4.12" fill="#a5cee3"/><rect x="176.58" y="200.31" width="9.21" height="4.12" fill="#9dcbe1"/><rect x="185.18" y="200.31" width="9.21" height="4.12" fill="#98c8e0"/><rect x="193.79" y="200.31" width="9.21" height="4.12" fill="#90c4dd"/><rect x="90.50" y="203.83" width="9.21" height="4.12" fill="#acd2e5"/><rect x="99.11" y="203.83" width="9.21" height="4.12" fill="#bddbea"/><rect x="107.72" y="203.83" width="9.21" height="4.12" fill="#cae1ee"/><rect x="116.32" y="203.83" width="9.21" height="4.12" fill="#d1e5f0"/><rect x="124.93" y="203.83" width="9.21" height="4.12" fill="#d4e6f1"/><rect x="133.54" y="203.83" width="9.21" height="4.12" fill="#d8e9f1"/><rect x="142.15" y="203.83" width="9.21" height="4.12" fill="#dae9f2"/><rect x="150.75" y="203.83" width="9.21" height="4.12" fill="#ddebf2"/><rect x="159.36" y="203.83" width="9.21" height="4.12" fill="#d8e9f1"/><rect x="167.97" y="203.83" width="9.21" height="4.12" fill="#d4e6f1"/><rect x="176.58" y="203.83" width="9.21" height="4.12" fill="#d1e5f0"/><rect x="185.18" y="203.83" width="9.21" height="4.12" fill="#cae1ee"/><rect x="193.79" y="203.83" width="9.21" height="4.12" fill="#c5dfec"/><rect x="90.50" y="207.35" width="9.21" height="4.12" fill="#d8e9f1"/><rect x="99.11" y="207.35" width="9.21" height="4.12" fill="#e0ecf3"/><rect x="107.72" y="207.35" width="9.21" height="4.12" fill="#f3f5f6"/><rect x="116.32" y="207.35" width="9.21" height="4.12" fill="#f6f7f7"/><rect x="124.93" y="207.35" width="9.21" height="4.12" fill="#f8f4f2"/><rect x="133.54" y="207.35" width="9.21" height="4.12" fill="#f8f1ed"/><rect x="142.15" y="207.35" width="9.21" height="4.12" fill="#f9f0eb"/><rect x="150.75" y="207.35" width="9.21" height="4.12" fill="#f9efe9"/><rect x="159.36" y="207.35" width="9.21" height="4.12" fill="#f8f1ed"/><rect x="167.97" y="207.35" width="9.21" height="4.12" fill="#f6f7f7"/><rect x="176.58" y="207.35" width="9.21" height="4.12" fill="#f3f5f6"/><rect x="185.18" y="207.35" width="9.21" height="4.12" fill="#e4eef4"/><rect x="193.79" y="207.35" width="9.21" height="4.12" fill="#e4eef4"/><rect x="90.50" y="210.86" width="9.21" height="4.12" fill="#ecf2f5"/><rect x="99.11" y="210.86" width="9.21" height="4.12" fill="#f3f5f6"/><rect x="107.72" y="210.86" width="9.21" height="4.12" fill="#faeae1"/><rect x="116.32" y="210.86" width="9.21" height="4.12" fill="#fae7dc"/><rect x="124.93" y="210.86" width="9.21" height="4.12" fill="#fbe4d6"/><rect x="133.54" y="210.86" width="9.21" height="4.12" fill="#fce0d0"/><rect x="142.15" y="210.86" width="9.21" height="4.12" fill="#fcdecd"/><rect x="150.75" y="210.86" width="9.21" height="4.12" fill="#fddcc9"/><rect x="159.36" y="210.86" width="9.21" height="4.12" fill="#fce0d0"/><rect x="167.97" y="210.86" width="9.21" height="4.12" fill="#faeae1"/><rect x="176.58" y="210.86" width="9.21" height="4.12" fill="#f8f1ed"/><rect x="185.18" y="210.86" width="9.21" height="4.12" fill="#eff3f5"/><rect x="193.79" y="210.86" width="9.21" height="4.12" fill="#eff3f5"/><rect x="90.50" y="214.38" width="9.21" height="4.12" fill="#f9ede5"/><rect x="99.11" y="214.38" width="9.21" height="4.12" fill="#fae8de"/><rect x="107.72" y="214.38" width="9.21" height="4.12" fill="#fbe5d8"/><rect x="116.32" y="214.38" width="9.21" height="4.12" fill="#fce2d2"/><rect x="124.93" y="214.38" width="9.21" height="4.12" fill="#fdddcb"/><rect x="133.54" y="214.38" width="9.21" height="4.12" fill="#fdd9c4"/><rect x="142.15" y="214.38" width="9.21" height="4.12" fill="#fcd7c2"/><rect x="150.75" y="214.38" width="9.21" height="4.12" fill="#fcd5bf"/><rect x="159.36" y="214.38" width="9.21" height="4.12" fill="#fdd9c4"/><rect x="167.97" y="214.38" width="9.21" height="4.12" fill="#fae8de"/><rect x="176.58" y="214.38" width="9.21" height="4.12" fill="#f8f3f0"/><rect x="185.18" y="214.38" width="9.21" height="4.12" fill="#f6f7f7"/><rect x="193.79" y="214.38" width="9.21" height="4.12" fill="#f6f7f7"/><rect x="90.50" y="217.89" width="9.21" height="4.12" fill="#fdddcb"/><rect x="99.11" y="217.89" width="9.21" height="4.12" fill="#fdd9c4"/><rect x="107.72" y="217.89" width="9.21" height="4.12" fill="#fdd9c4"/><rect x="116.32" y="217.89" width="9.21" height="4.12" fill="#fcd3bc"/><rect x="124.93" y="217.89" width="9.21" height="4.12" fill="#fcd5bf"/><rect x="133.54" y="217.89" width="9.21" height="4.12" fill="#f9c2a7"/><rect x="142.15" y="217.89" width="9.21" height="4.12" fill="#f7b99c"/><rect x="150.75" y="217.89" width="9.21" height="4.12" fill="#f7b596"/><rect x="159.36" y="217.89" width="9.21" height="4.12" fill="#fbceb7"/><rect x="167.97" y="217.89" width="9.21" height="4.12" fill="#fdddcb"/><rect x="176.58" y="217.89" width="9.21" height="4.12" fill="#fae8de"/><rect x="185.18" y="217.89" width="9.21" height="4.12" fill="#f9f0eb"/><rect x="193.79" y="217.89" width="9.21" height="4.12" fill="#f9f0eb"/><rect x="90.50" y="221.41" width="9.21" height="4.12" fill="#f8bda1"/><rect x="99.11" y="221.41" width="9.21" height="4.12" fill="#facab1"/><rect x="107.72" y="221.41" width="9.21" height="4.12" fill="#fdd9c4"/><rect x="116.32" y="221.41" width="9.21" height="4.12" fill="#fcd3bc"/><rect x="124.93" y="221.41" width="9.21" height="4.12" fill="#fac8af"/><rect x="133.54" y="221.41" width="9.21" height="4.12" fill="#f6af8e"/><rect x="142.15" y="221.41" width="9.21" height="4.12" fill="#f4a683"/><rect x="150.75" y="221.41" width="9.21" height="4.12" fill="#f5a886"/><rect x="159.36" y="221.41" width="9.21" height="4.12" fill="#fac8af"/><rect x="167.97" y="221.41" width="9.21" height="4.12" fill="#fdd9c4"/><rect x="176.58" y="221.41" width="9.21" height="4.12" fill="#fae8de"/><rect x="185.18" y="221.41" width="9.21" height="4.12" fill="#f9ede5"/><rect x="193.79" y="221.41" width="9.21" height="4.12" fill="#f9ede5"/><rect x="90.50" y="224.92" width="9.21" height="4.12" fill="#facab1"/><rect x="99.11" y="224.92" width="9.21" height="4.12" fill="#fdd9c4"/><rect x="107.72" y="224.92" width="9.21" height="4.12" fill="#fce2d2"/><rect x="116.32" y="224.92" width="9.21" height="4.12" fill="#fdddcb"/><rect x="124.93" y="224.92" width="9.21" height="4.12" fill="#fcd5bf"/><rect x="133.54" y="224.92" width="9.21" height="4.12" fill="#f9c2a7"/><rect x="142.15" y="224.92" width="9.21" height="4.12" fill="#f7b99c"/><rect x="150.75" y="224.92" width="9.21" height="4.12" fill="#f9c2a7"/><rect x="159.36" y="224.92" width="9.21" height="4.12" fill="#fcd3bc"/><rect x="167.97" y="224.92" width="9.21" height="4.12" fill="#fce2d2"/><rect x="176.58" y="224.92" width="9.21" height="4.12" fill="#fae8de"/><rect x="185.18" y="224.92" width="9.21" height="4.12" fill="#f9ede5"/><rect x="193.79" y="224.92" width="9.21" height="4.12" fill="#f9ede5"/><rect x="90.50" y="228.44" width="9.21" height="4.12" fill="#f9ede5"/><rect x="99.11" y="228.44" width="9.21" height="4.12" fill="#f9f0eb"/><rect x="107.72" y="228.44" width="9.21" height="4.12" fill="#faeae1"/><rect x="116.32" y="228.44" width="9.21" height="4.12" fill="#fae7dc"/><rect x="124.93" y="228.44" width="9.21" height="4.12" fill="#fbe4d6"/><rect x="133.54" y="228.44" width="9.21" height="4.12" fill="#fddcc9"/><rect x="142.15" y="228.44" width="9.21" height="4.12" fill="#fddbc7"/><rect x="150.75" y="228.44" width="9.21" height="4.12" fill="#fddcc9"/><rect x="159.36" y="228.44" width="9.21" height="4.12" fill="#fce0d0"/><rect x="167.97" y="228.44" width="9.21" height="4.12" fill="#fce0d0"/><rect x="176.58" y="228.44" width="9.21" height="4.12" fill="#fce0d0"/><rect x="185.18" y="228.44" width="9.21" height="4.12" fill="#f9ede5"/><rect x="193.79" y="228.44" width="9.21" height="4.12" fill="#f9ede5"/><rect x="90.50" y="231.95" width="9.21" height="4.12" fill="#ecf2f5"/><rect x="99.11" y="231.95" width="9.21" height="4.12" fill="#eff3f5"/><rect x="107.72" y="231.95" width="9.21" height="4.12" fill="#f8f4f2"/><rect x="116.32" y="231.95" width="9.21" height="4.12" fill="#f8f4f2"/><rect x="124.93" y="231.95" width="9.21" height="4.12" fill="#f8f1ed"/><rect x="133.54" y="231.95" width="9.21" height="4.12" fill="#fae7dc"/><rect x="142.15" y="231.95" width="9.21" height="4.12" fill="#fddcc9"/><rect x="150.75" y="231.95" width="9.21" height="4.12" fill="#fddcc9"/><rect x="159.36" y="231.95" width="9.21" height="4.12" fill="#fce0d0"/><rect x="167.97" y="231.95" width="9.21" height="4.12" fill="#f9efe9"/><rect x="176.58" y="231.95" width="9.21" height="4.12" fill="#f8f1ed"/><rect x="185.18" y="231.95" width="9.21" height="4.12" fill="#f3f5f6"/><rect x="193.79" y="231.95" width="9.21" height="4.12" fill="#f6f7f7"/><rect x="90.50" y="235.47" width="9.21" height="4.12" fill="#cce2ef"/><rect x="99.11" y="235.47" width="9.21" height="4.12" fill="#d4e6f1"/><rect x="107.72" y="235.47" width="9.21" height="4.12" fill="#dbeaf2"/><rect x="116.32" y="235.47" width="9.21" height="4.12" fill="#deebf2"/><rect x="124.93" y="235.47" width="9.21" height="4.12" fill="#e3edf3"/><rect x="133.54" y="235.47" width="9.21" height="4.12" fill="#f0f4f6"/><rect x="142.15" y="235.47" width="9.21" height="4.12" fill="#fbe5d8"/><rect x="150.75" y="235.47" width="9.21" height="4.12" fill="#fce2d2"/><rect x="159.36" y="235.47" width="9.21" height="4.12" fill="#fbe5d8"/><rect x="167.97" y="235.47" width="9.21" height="4.12" fill="#f6f7f7"/><rect x="176.58" y="235.47" width="9.21" height="4.12" fill="#e9f0f4"/><rect x="185.18" y="235.47" width="9.21" height="4.12" fill="#e9f0f4"/><rect x="193.79" y="235.47" width="9.21" height="4.12" fill="#f0f4f6"/><rect x="90.50" y="238.98" width="9.21" height="4.12" fill="#9dcbe1"/><rect x="99.11" y="238.98" width="9.21" height="4.12" fill="#a9d1e5"/><rect x="107.72" y="238.98" width="9.21" height="4.12" fill="#c7e0ed"/><rect x="116.32" y="238.98" width="9.21" height="4.12" fill="#d4e6f1"/><rect x="124.93" y="238.98" width="9.21" height="4.12" fill="#d8e9f1"/><rect x="133.54" y="238.98" width="9.21" height="4.12" fill="#e9f0f4"/><rect x="142.15" y="238.98" width="9.21" height="4.12" fill="#f9ebe3"/><rect x="150.75" y="238.98" width="9.21" height="4.12" fill="#fbe6da"/><rect x="159.36" y="238.98" width="9.21" height="4.12" fill="#fae9df"/><rect x="167.97" y="238.98" width="9.21" height="4.12" fill="#f6f7f7"/><rect x="176.58" y="238.98" width="9.21" height="4.12" fill="#e6eff4"/><rect x="185.18" y="238.98" width="9.21" height="4.12" fill="#e6eff4"/><rect x="193.79" y="238.98" width="9.21" height="4.12" fill="#edf2f5"/><rect x="90.50" y="242.50" width="9.21" height="4.12" fill="#bbdaea"/><rect x="99.11" y="242.50" width="9.21" height="4.12" fill="#c0dceb"/><rect x="107.72" y="242.50" width="9.21" height="4.12" fill="#d1e5f0"/><rect x="116.32" y="242.50" width="9.21" height="4.12" fill="#d4e6f1"/><rect x="124.93" y="242.50" width="9.21" height="4.12" fill="#d8e9f1"/><rect x="133.54" y="242.50" width="9.21" height="4.12" fill="#e9f0f4"/><rect x="142.15" y="242.50" width="9.21" height="4.12" fill="#f5f6f7"/><rect x="150.75" y="242.50" width="9.21" height="4.12" fill="#f6f7f7"/><rect x="159.36" y="242.50" width="9.21" height="4.12" fill="#f6f7f7"/><rect x="167.97" y="242.50" width="9.21" height="4.12" fill="#f6f7f7"/><rect x="176.58" y="242.50" width="9.21" height="4.12" fill="#e6eff4"/><rect x="185.18" y="242.50" width="9.21" height="4.12" fill="#e3edf3"/><rect x="193.79" y="242.50" width="9.21" height="4.12" fill="#edf2f5"/><rect x="90.50" y="246.01" width="9.21" height="4.12" fill="#d8e9f1"/><rect x="99.11" y="246.01" width="9.21" height="4.12" fill="#d8e9f1"/><rect x="107.72" y="246.01" width="9.21" height="4.12" fill="#ddebf2"/><rect x="116.32" y="246.01" width="9.21" height="4.12" fill="#e0ecf3"/><rect x="124.93" y="246.01" width="9.21" height="4.12" fill="#e0ecf3"/><rect x="133.54" y="246.01" width="9.21" height="4.12" fill="#ecf2f5"/><rect x="142.15" y="246.01" width="9.21" height="4.12" fill="#edf2f5"/><rect x="150.75" y="246.01" width="9.21" height="4.12" fill="#e4eef4"/><rect x="159.36" y="246.01" width="9.21" height="4.12" fill="#ecf2f5"/><rect x="167.97" y="246.01" width="9.21" height="4.12" fill="#f3f5f6"/><rect x="176.58" y="246.01" width="9.21" height="4.12" fill="#e7f0f4"/><rect x="185.18" y="246.01" width="9.21" height="4.12" fill="#e4eef4"/><rect x="193.79" y="246.01" width="9.21" height="4.12" fill="#eff3f5"/><rect x="90.50" y="249.53" width="9.21" height="4.12" fill="#e0ecf3"/><rect x="99.11" y="249.53" width="9.21" height="4.12" fill="#e0ecf3"/><rect x="107.72" y="249.53" width="9.21" height="4.12" fill="#e4eef4"/><rect x="116.32" y="249.53" width="9.21" height="4.12" fill="#e7f0f4"/><rect x="124.93" y="249.53" width="9.21" height="4.12" fill="#ecf2f5"/><rect x="133.54" y="249.53" width="9.21" height="4.12" fill="#eff3f5"/><rect x="142.15" y="249.53" width="9.21" height="4.12" fill="#edf2f5"/><rect x="150.75" y="249.53" width="9.21" height="4.12" fill="#e4eef4"/><rect x="159.36" y="249.53" width="9.21" height="4.12" fill="#eff3f5"/><rect x="167.97" y="249.53" width="9.21" height="4.12" fill="#f3f5f6"/><rect x="176.58" y="249.53" width="9.21" height="4.12" fill="#eff3f5"/><rect x="185.18" y="249.53" width="9.21" height="4.12" fill="#eff3f5"/><rect x="193.79" y="249.53" width="9.21" height="4.12" fill="#f3f5f6"/><rect x="90.50" y="253.04" width="9.21" height="4.12" fill="#eff3f5"/><rect x="99.11" y="253.04" width="9.21" height="4.12" fill="#f6f7f7"/><rect x="107.72" y="253.04" width="9.21" height="4.12" fill="#f6f7f7"/><rect x="116.32" y="253.04" width="9.21" height="4.12" fill="#f6f7f7"/><rect x="124.93" y="253.04" width="9.21" height="4.12" fill="#f6f7f7"/><rect x="133.54" y="253.04" width="9.21" height="4.12" fill="#f3f5f6"/><rect x="142.15" y="253.04" width="9.21" height="4.12" fill="#f2f5f6"/><rect x="150.75" y="253.04" width="9.21" height="4.12" fill="#eff3f5"/><rect x="159.36" y="253.04" width="9.21" height="4.12" fill="#f6f7f7"/><rect x="167.97" y="253.04" width="9.21" height="4.12" fill="#f6f7f7"/><rect x="176.58" y="253.04" width="9.21" height="4.12" fill="#f6f7f7"/><rect x="185.18" y="253.04" width="9.21" height="4.12" fill="#f6f7f7"/><rect x="193.79" y="253.04" width="9.21" height="4.12" fill="#f6f7f7"/><rect x="90.50" y="256.56" width="9.21" height="4.12" fill="#f6f7f7"/><rect x="99.11" y="256.56" width="9.21" height="4.12" fill="#fae9df"/><rect x="107.72" y="256.56" width="9.21" height="4.12" fill="#f9ede5"/><rect x="116.32" y="256.56" width="9.21" height="4.12" fill="#f9ede5"/><rect x="124.93" y="256.56" width="9.21" height="4.12" fill="#f8f3f0"/><rect x="133.54" y="256.56" width="9.21" height="4.12" fill="#f6f7f7"/><rect x="142.15" y="256.56" width="9.21" height="4.12" fill="#f5f6f7"/><rect x="150.75" y="256.56" width="9.21" height="4.12" fill="#f8f2ef"/><rect x="159.36" y="256.56" width="9.21" height="4.12" fill="#fae8de"/><rect x="167.97" y="256.56" width="9.21" height="4.12" fill="#fae8de"/><rect x="176.58" y="256.56" width="9.21" height="4.12" fill="#fae8de"/><rect x="185.18" y="256.56" width="9.21" height="4.12" fill="#fae8de"/><rect x="193.79" y="256.56" width="9.21" height="4.12" fill="#f9ede5"/><rect x="90.50" y="260.07" width="9.21" height="4.12" fill="#f6f7f7"/><rect x="99.11" y="260.07" width="9.21" height="4.12" fill="#fbe6da"/><rect x="107.72" y="260.07" width="9.21" height="4.12" fill="#fae9df"/><rect x="116.32" y="260.07" width="9.21" height="4.12" fill="#fae9df"/><rect x="124.93" y="260.07" width="9.21" height="4.12" fill="#f9f0eb"/><rect x="133.54" y="260.07" width="9.21" height="4.12" fill="#f6f7f7"/><rect x="142.15" y="260.07" width="9.21" height="4.12" fill="#f6f7f7"/><rect x="150.75" y="260.07" width="9.21" height="4.12" fill="#fae8de"/><rect x="159.36" y="260.07" width="9.21" height="4.12" fill="#fdddcb"/><rect x="167.97" y="260.07" width="9.21" height="4.12" fill="#fdddcb"/><rect x="176.58" y="260.07" width="9.21" height="4.12" fill="#fdddcb"/><rect x="185.18" y="260.07" width="9.21" height="4.12" fill="#fdddcb"/><rect x="193.79" y="260.07" width="9.21" height="4.12" fill="#fbe3d4"/><rect x="90.50" y="263.59" width="9.21" height="4.12" fill="#eff3f5"/><rect x="99.11" y="263.59" width="9.21" height="4.12" fill="#f9f0eb"/><rect x="107.72" y="263.59" width="9.21" height="4.12" fill="#f9f0eb"/><rect x="116.32" y="263.59" width="9.21" height="4.12" fill="#f9f0eb"/><rect x="124.93" y="263.59" width="9.21" height="4.12" fill="#f8f3f0"/><rect x="133.54" y="263.59" width="9.21" height="4.12" fill="#f3f5f6"/><rect x="142.15" y="263.59" width="9.21" height="4.12" fill="#f5f6f7"/><rect x="150.75" y="263.59" width="9.21" height="4.12" fill="#fae8de"/><rect x="159.36" y="263.59" width="9.21" height="4.12" fill="#fdddcb"/><rect x="167.97" y="263.59" width="9.21" height="4.12" fill="#fcd7c2"/><rect x="176.58" y="263.59" width="9.21" height="4.12" fill="#fcd7c2"/><rect x="185.18" y="263.59" width="9.21" height="4.12" fill="#fdddcb"/><rect x="193.79" y="263.59" width="9.21" height="4.12" fill="#fbe3d4"/></g>
<rect x="90.50" y="196.80" width="111.90" height="70.30" fill="none" stroke="#000" stroke-width="1.40"/>
<path d="M85.30 207.90H90.50M85.30 267.10H90.50M90.50 267.10V272.30M149.70 267.10V272.30" stroke="#000" stroke-width="1.40" fill="none"/>
<g filter="url(#bl)" shape-rendering="crispEdges"><rect x="214.20" y="196.80" width="9.21" height="4.12" fill="#053061"/><rect x="222.81" y="196.80" width="9.21" height="4.12" fill="#053061"/><rect x="231.42" y="196.80" width="9.21" height="4.12" fill="#053061"/><rect x="240.02" y="196.80" width="9.21" height="4.12" fill="#053061"/><rect x="248.63" y="196.80" width="9.21" height="4.12" fill="#053061"/><rect x="257.24" y="196.80" width="9.21" height="4.12" fill="#053061"/><rect x="265.85" y="196.80" width="9.21" height="4.12" fill="#053061"/><rect x="274.45" y="196.80" width="9.21" height="4.12" fill="#053061"/><rect x="283.06" y="196.80" width="9.21" height="4.12" fill="#053061"/><rect x="291.67" y="196.80" width="9.21" height="4.12" fill="#053061"/><rect x="300.28" y="196.80" width="9.21" height="4.12" fill="#053061"/><rect x="308.88" y="196.80" width="9.21" height="4.12" fill="#053061"/><rect x="317.49" y="196.80" width="9.21" height="4.12" fill="#053061"/><rect x="214.20" y="200.31" width="9.21" height="4.12" fill="#073467"/><rect x="222.81" y="200.31" width="9.21" height="4.12" fill="#073467"/><rect x="231.42" y="200.31" width="9.21" height="4.12" fill="#073467"/><rect x="240.02" y="200.31" width="9.21" height="4.12" fill="#0a3b70"/><rect x="248.63" y="200.31" width="9.21" height="4.12" fill="#0d3f76"/><rect x="257.24" y="200.31" width="9.21" height="4.12" fill="#0d3f76"/><rect x="265.85" y="200.31" width="9.21" height="4.12" fill="#10457e"/><rect x="274.45" y="200.31" width="9.21" height="4.12" fill="#10457e"/><rect x="283.06" y="200.31" width="9.21" height="4.12" fill="#10457e"/><rect x="291.67" y="200.31" width="9.21" height="4.12" fill="#10457e"/><rect x="300.28" y="200.31" width="9.21" height="4.12" fill="#10457e"/><rect x="308.88" y="200.31" width="9.21" height="4.12" fill="#124984"/><rect x="317.49" y="200.31" width="9.21" height="4.12" fill="#124984"/><rect x="214.20" y="203.83" width="9.21" height="4.12" fill="#0d3f76"/><rect x="222.81" y="203.83" width="9.21" height="4.12" fill="#10457e"/><rect x="231.42" y="203.83" width="9.21" height="4.12" fill="#124984"/><rect x="240.02" y="203.83" width="9.21" height="4.12" fill="#15508d"/><rect x="248.63" y="203.83" width="9.21" height="4.12" fill="#1e61a5"/><rect x="257.24" y="203.83" width="9.21" height="4.12" fill="#2065ab"/><rect x="265.85" y="203.83" width="9.21" height="4.12" fill="#2267ac"/><rect x="274.45" y="203.83" width="9.21" height="4.12" fill="#246aae"/><rect x="283.06" y="203.83" width="9.21" height="4.12" fill="#246aae"/><rect x="291.67" y="203.83" width="9.21" height="4.12" fill="#246aae"/><rect x="300.28" y="203.83" width="9.21" height="4.12" fill="#246aae"/><rect x="308.88" y="203.83" width="9.21" height="4.12" fill="#276eb0"/><rect x="317.49" y="203.83" width="9.21" height="4.12" fill="#246aae"/><rect x="214.20" y="207.35" width="9.21" height="4.12" fill="#124984"/><rect x="222.81" y="207.35" width="9.21" height="4.12" fill="#246aae"/><rect x="231.42" y="207.35" width="9.21" height="4.12" fill="#2b73b3"/><rect x="240.02" y="207.35" width="9.21" height="4.12" fill="#327cb7"/><rect x="248.63" y="207.35" width="9.21" height="4.12" fill="#3480b9"/><rect x="257.24" y="207.35" width="9.21" height="4.12" fill="#3885bc"/><rect x="265.85" y="207.35" width="9.21" height="4.12" fill="#3885bc"/><rect x="274.45" y="207.35" width="9.21" height="4.12" fill="#3885bc"/><rect x="283.06" y="207.35" width="9.21" height="4.12" fill="#3885bc"/><rect x="291.67" y="207.35" width="9.21" height="4.12" fill="#3885bc"/><rect x="300.28" y="207.35" width="9.21" height="4.12" fill="#3c8abe"/><rect x="308.88" y="207.35" width="9.21" height="4.12" fill="#3c8abe"/><rect x="317.49" y="207.35" width="9.21" height="4.12" fill="#3885bc"/><rect x="214.20" y="210.86" width="9.21" height="4.12" fill="#2065ab"/><rect x="222.81" y="210.86" width="9.21" height="4.12" fill="#3885bc"/><rect x="231.42" y="210.86" width="9.21" height="4.12" fill="#4393c3"/><rect x="240.02" y="210.86" width="9.21" height="4.12" fill="#4997c5"/><rect x="248.63" y="210.86" width="9.21" height="4.12" fill="#529dc8"/><rect x="257.24" y="210.86" width="9.21" height="4.12" fill="#59a1ca"/><rect x="265.85" y="210.86" width="9.21" height="4.12" fill="#5fa5cd"/><rect x="274.45" y="210.86" width="9.21" height="4.12" fill="#62a7ce"/><rect x="283.06" y="210.86" width="9.21" height="4.12" fill="#62a7ce"/><rect x="291.67" y="210.86" width="9.21" height="4.12" fill="#62a7ce"/><rect x="300.28" y="210.86" width="9.21" height="4.12" fill="#68abd0"/><rect x="308.88" y="210.86" width="9.21" height="4.12" fill="#68abd0"/><rect x="317.49" y="210.86" width="9.21" height="4.12" fill="#62a7ce"/><rect x="214.20" y="214.38" width="9.21" height="4.12" fill="#3c8abe"/><rect x="222.81" y="214.38" width="9.21" height="4.12" fill="#7bb6d6"/><rect x="231.42" y="214.38" width="9.21" height="4.12" fill="#90c4dd"/><rect x="240.02" y="214.38" width="9.21" height="4.12" fill="#90c4dd"/><rect x="248.63" y="214.38" width="9.21" height="4.12" fill="#90c4dd"/><rect x="257.24" y="214.38" width="9.21" height="4.12" fill="#90c4dd"/><rect x="265.85" y="214.38" width="9.21" height="4.12" fill="#96c7df"/><rect x="274.45" y="214.38" width="9.21" height="4.12" fill="#98c8e0"/><rect x="283.06" y="214.38" width="9.21" height="4.12" fill="#98c8e0"/><rect x="291.67" y="214.38" width="9.21" height="4.12" fill="#9dcbe1"/><rect x="300.28" y="214.38" width="9.21" height="4.12" fill="#9dcbe1"/><rect x="308.88" y="214.38" width="9.21" height="4.12" fill="#9dcbe1"/><rect x="317.49" y="214.38" width="9.21" height="4.12" fill="#98c8e0"/><rect x="214.20" y="217.89" width="9.21" height="4.12" fill="#81bad8"/><rect x="222.81" y="217.89" width="9.21" height="4.12" fill="#d1e5f0"/><rect x="231.42" y="217.89" width="9.21" height="4.12" fill="#d1e5f0"/><rect x="240.02" y="217.89" width="9.21" height="4.12" fill="#c5dfec"/><rect x="248.63" y="217.89" width="9.21" height="4.12" fill="#bddbea"/><rect x="257.24" y="217.89" width="9.21" height="4.12" fill="#bddbea"/><rect x="265.85" y="217.89" width="9.21" height="4.12" fill="#c0dceb"/><rect x="274.45" y="217.89" width="9.21" height="4.12" fill="#c5dfec"/><rect x="283.06" y="217.89" width="9.21" height="4.12" fill="#c5dfec"/><rect x="291.67" y="217.89" width="9.21" height="4.12" fill="#cae1ee"/><rect x="300.28" y="217.89" width="9.21" height="4.12" fill="#cae1ee"/><rect x="308.88" y="217.89" width="9.21" height="4.12" fill="#cae1ee"/><rect x="317.49" y="217.89" width="9.21" height="4.12" fill="#bddbea"/><rect x="214.20" y="221.41" width="9.21" height="4.12" fill="#b1d5e7"/><rect x="222.81" y="221.41" width="9.21" height="4.12" fill="#e7f0f4"/><rect x="231.42" y="221.41" width="9.21" height="4.12" fill="#f9efe9"/><rect x="240.02" y="221.41" width="9.21" height="4.12" fill="#ecf2f5"/><rect x="248.63" y="221.41" width="9.21" height="4.12" fill="#d8e9f1"/><rect x="257.24" y="221.41" width="9.21" height="4.12" fill="#d4e6f1"/><rect x="265.85" y="221.41" width="9.21" height="4.12" fill="#dae9f2"/><rect x="274.45" y="221.41" width="9.21" height="4.12" fill="#e4eef4"/><rect x="283.06" y="221.41" width="9.21" height="4.12" fill="#e7f0f4"/><rect x="291.67" y="221.41" width="9.21" height="4.12" fill="#e7f0f4"/><rect x="300.28" y="221.41" width="9.21" height="4.12" fill="#e4eef4"/><rect x="308.88" y="221.41" width="9.21" height="4.12" fill="#e0ecf3"/><rect x="317.49" y="221.41" width="9.21" height="4.12" fill="#d1e5f0"/><rect x="214.20" y="224.92" width="9.21" height="4.12" fill="#b1d5e7"/><rect x="222.81" y="224.92" width="9.21" height="4.12" fill="#e7f0f4"/><rect x="231.42" y="224.92" width="9.21" height="4.12" fill="#fae9df"/><rect x="240.02" y="224.92" width="9.21" height="4.12" fill="#f8f1ed"/><rect x="248.63" y="224.92" width="9.21" height="4.12" fill="#e0ecf3"/><rect x="257.24" y="224.92" width="9.21" height="4.12" fill="#d8e9f1"/><rect x="265.85" y="224.92" width="9.21" height="4.12" fill="#e0ecf3"/><rect x="274.45" y="224.92" width="9.21" height="4.12" fill="#ecf2f5"/><rect x="283.06" y="224.92" width="9.21" height="4.12" fill="#eff3f5"/><rect x="291.67" y="224.92" width="9.21" height="4.12" fill="#eff3f5"/><rect x="300.28" y="224.92" width="9.21" height="4.12" fill="#eff3f5"/><rect x="308.88" y="224.92" width="9.21" height="4.12" fill="#e7f0f4"/><rect x="317.49" y="224.92" width="9.21" height="4.12" fill="#d8e9f1"/><rect x="214.20" y="228.44" width="9.21" height="4.12" fill="#bddbea"/><rect x="222.81" y="228.44" width="9.21" height="4.12" fill="#e0ecf3"/><rect x="231.42" y="228.44" width="9.21" height="4.12" fill="#eff3f5"/><rect x="240.02" y="228.44" width="9.21" height="4.12" fill="#ecf2f5"/><rect x="248.63" y="228.44" width="9.21" height="4.12" fill="#e0ecf3"/><rect x="257.24" y="228.44" width="9.21" height="4.12" fill="#d8e9f1"/><rect x="265.85" y="228.44" width="9.21" height="4.12" fill="#e0ecf3"/><rect x="274.45" y="228.44" width="9.21" height="4.12" fill="#ecf2f5"/><rect x="283.06" y="228.44" width="9.21" height="4.12" fill="#eff3f5"/><rect x="291.67" y="228.44" width="9.21" height="4.12" fill="#f3f5f6"/><rect x="300.28" y="228.44" width="9.21" height="4.12" fill="#eff3f5"/><rect x="308.88" y="228.44" width="9.21" height="4.12" fill="#e7f0f4"/><rect x="317.49" y="228.44" width="9.21" height="4.12" fill="#d8e9f1"/><rect x="214.20" y="231.95" width="9.21" height="4.12" fill="#d1e5f0"/><rect x="222.81" y="231.95" width="9.21" height="4.12" fill="#d4e6f1"/><rect x="231.42" y="231.95" width="9.21" height="4.12" fill="#d4e6f1"/><rect x="240.02" y="231.95" width="9.21" height="4.12" fill="#d1e5f0"/><rect x="248.63" y="231.95" width="9.21" height="4.12" fill="#c5dfec"/><rect x="257.24" y="231.95" width="9.21" height="4.12" fill="#b1d5e7"/><rect x="265.85" y="231.95" width="9.21" height="4.12" fill="#d2e6f0"/><rect x="274.45" y="231.95" width="9.21" height="4.12" fill="#e4eef4"/><rect x="283.06" y="231.95" width="9.21" height="4.12" fill="#e7f0f4"/><rect x="291.67" y="231.95" width="9.21" height="4.12" fill="#ecf2f5"/><rect x="300.28" y="231.95" width="9.21" height="4.12" fill="#eff3f5"/><rect x="308.88" y="231.95" width="9.21" height="4.12" fill="#f3f5f6"/><rect x="317.49" y="231.95" width="9.21" height="4.12" fill="#eff3f5"/><rect x="214.20" y="235.47" width="9.21" height="4.12" fill="#d1e5f0"/><rect x="222.81" y="235.47" width="9.21" height="4.12" fill="#d8e9f1"/><rect x="231.42" y="235.47" width="9.21" height="4.12" fill="#d1e5f0"/><rect x="240.02" y="235.47" width="9.21" height="4.12" fill="#b1d5e7"/><rect x="248.63" y="235.47" width="9.21" height="4.12" fill="#9dcbe1"/><rect x="257.24" y="235.47" width="9.21" height="4.12" fill="#9dcbe1"/><rect x="265.85" y="235.47" width="9.21" height="4.12" fill="#bbdaea"/><rect x="274.45" y="235.47" width="9.21" height="4.12" fill="#d1e5f0"/><rect x="283.06" y="235.47" width="9.21" height="4.12" fill="#d8e9f1"/><rect x="291.67" y="235.47" width="9.21" height="4.12" fill="#ddebf2"/><rect x="300.28" y="235.47" width="9.21" height="4.12" fill="#e0ecf3"/><rect x="308.88" y="235.47" width="9.21" height="4.12" fill="#eff3f5"/><rect x="317.49" y="235.47" width="9.21" height="4.12" fill="#f3f5f6"/><rect x="214.20" y="238.98" width="9.21" height="4.12" fill="#d4e6f1"/><rect x="222.81" y="238.98" width="9.21" height="4.12" fill="#e4eef4"/><rect x="231.42" y="238.98" width="9.21" height="4.12" fill="#e0ecf3"/><rect x="240.02" y="238.98" width="9.21" height="4.12" fill="#d8e9f1"/><rect x="248.63" y="238.98" width="9.21" height="4.12" fill="#d1e5f0"/><rect x="257.24" y="238.98" width="9.21" height="4.12" fill="#c5dfec"/><rect x="265.85" y="238.98" width="9.21" height="4.12" fill="#cfe4ef"/><rect x="274.45" y="238.98" width="9.21" height="4.12" fill="#d4e6f1"/><rect x="283.06" y="238.98" width="9.21" height="4.12" fill="#d8e9f1"/><rect x="291.67" y="238.98" width="9.21" height="4.12" fill="#ddebf2"/><rect x="300.28" y="238.98" width="9.21" height="4.12" fill="#e0ecf3"/><rect x="308.88" y="238.98" width="9.21" height="4.12" fill="#eff3f5"/><rect x="317.49" y="238.98" width="9.21" height="4.12" fill="#f3f5f6"/><rect x="214.20" y="242.50" width="9.21" height="4.12" fill="#d4e6f1"/><rect x="222.81" y="242.50" width="9.21" height="4.12" fill="#eff3f5"/><rect x="231.42" y="242.50" width="9.21" height="4.12" fill="#f6f7f7"/><rect x="240.02" y="242.50" width="9.21" height="4.12" fill="#f6f7f7"/><rect x="248.63" y="242.50" width="9.21" height="4.12" fill="#ecf2f5"/><rect x="257.24" y="242.50" width="9.21" height="4.12" fill="#e0ecf3"/><rect x="265.85" y="242.50" width="9.21" height="4.12" fill="#e1edf3"/><rect x="274.45" y="242.50" width="9.21" height="4.12" fill="#e7f0f4"/><rect x="283.06" y="242.50" width="9.21" height="4.12" fill="#ecf2f5"/><rect x="291.67" y="242.50" width="9.21" height="4.12" fill="#ecf2f5"/><rect x="300.28" y="242.50" width="9.21" height="4.12" fill="#eff3f5"/><rect x="308.88" y="242.50" width="9.21" height="4.12" fill="#f6f7f7"/><rect x="317.49" y="242.50" width="9.21" height="4.12" fill="#f6f7f7"/><rect x="214.20" y="246.01" width="9.21" height="4.12" fill="#d4e6f1"/><rect x="222.81" y="246.01" width="9.21" height="4.12" fill="#eff3f5"/><rect x="231.42" y="246.01" width="9.21" height="4.12" fill="#f8f1ed"/><rect x="240.02" y="246.01" width="9.21" height="4.12" fill="#f9ebe3"/><rect x="248.63" y="246.01" width="9.21" height="4.12" fill="#f8f1ed"/><rect x="257.24" y="246.01" width="9.21" height="4.12" fill="#f3f5f6"/><rect x="265.85" y="246.01" width="9.21" height="4.12" fill="#eff3f5"/><rect x="274.45" y="246.01" width="9.21" height="4.12" fill="#f3f5f6"/><rect x="283.06" y="246.01" width="9.21" height="4.12" fill="#f3f5f6"/><rect x="291.67" y="246.01" width="9.21" height="4.12" fill="#f6f7f7"/><rect x="300.28" y="246.01" width="9.21" height="4.12" fill="#f8f1ed"/><rect x="308.88" y="246.01" width="9.21" height="4.12" fill="#fae9df"/><rect x="317.49" y="246.01" width="9.21" height="4.12" fill="#f9ebe3"/><rect x="214.20" y="249.53" width="9.21" height="4.12" fill="#d4e6f1"/><rect x="222.81" y="249.53" width="9.21" height="4.12" fill="#ecf2f5"/><rect x="231.42" y="249.53" width="9.21" height="4.12" fill="#f3f5f6"/><rect x="240.02" y="249.53" width="9.21" height="4.12" fill="#f6f7f7"/><rect x="248.63" y="249.53" width="9.21" height="4.12" fill="#f3f5f6"/><rect x="257.24" y="249.53" width="9.21" height="4.12" fill="#f3f5f6"/><rect x="265.85" y="249.53" width="9.21" height="4.12" fill="#f2f5f6"/><rect x="274.45" y="249.53" width="9.21" height="4.12" fill="#f6f7f7"/><rect x="283.06" y="249.53" width="9.21" height="4.12" fill="#f8f4f2"/><rect x="291.67" y="249.53" width="9.21" height="4.12" fill="#f8f1ed"/><rect x="300.28" y="249.53" width="9.21" height="4.12" fill="#f9efe9"/><rect x="308.88" y="249.53" width="9.21" height="4.12" fill="#fbe6da"/><rect x="317.49" y="249.53" width="9.21" height="4.12" fill="#fae9df"/><rect x="214.20" y="253.04" width="9.21" height="4.12" fill="#d1e5f0"/><rect x="222.81" y="253.04" width="9.21" height="4.12" fill="#e4eef4"/><rect x="231.42" y="253.04" width="9.21" height="4.12" fill="#e7f0f4"/><rect x="240.02" y="253.04" width="9.21" height="4.12" fill="#e7f0f4"/><rect x="248.63" y="253.04" width="9.21" height="4.12" fill="#e7f0f4"/><rect x="257.24" y="253.04" width="9.21" height="4.12" fill="#ecf2f5"/><rect x="265.85" y="253.04" width="9.21" height="4.12" fill="#eff3f5"/><rect x="274.45" y="253.04" width="9.21" height="4.12" fill="#f8f4f2"/><rect x="283.06" y="253.04" width="9.21" height="4.12" fill="#f8f4f2"/><rect x="291.67" y="253.04" width="9.21" height="4.12" fill="#f8f1ed"/><rect x="300.28" y="253.04" width="9.21" height="4.12" fill="#f8f1ed"/><rect x="308.88" y="253.04" width="9.21" height="4.12" fill="#fbe6da"/><rect x="317.49" y="253.04" width="9.21" height="4.12" fill="#fae9df"/><rect x="214.20" y="256.56" width="9.21" height="4.12" fill="#bddbea"/><rect x="222.81" y="256.56" width="9.21" height="4.12" fill="#e0ecf3"/><rect x="231.42" y="256.56" width="9.21" height="4.12" fill="#e0ecf3"/><rect x="240.02" y="256.56" width="9.21" height="4.12" fill="#e0ecf3"/><rect x="248.63" y="256.56" width="9.21" height="4.12" fill="#e0ecf3"/><rect x="257.24" y="256.56" width="9.21" height="4.12" fill="#e4eef4"/><rect x="265.85" y="256.56" width="9.21" height="4.12" fill="#eaf1f5"/><rect x="274.45" y="256.56" width="9.21" height="4.12" fill="#eff3f5"/><rect x="283.06" y="256.56" width="9.21" height="4.12" fill="#f3f5f6"/><rect x="291.67" y="256.56" width="9.21" height="4.12" fill="#f3f5f6"/><rect x="300.28" y="256.56" width="9.21" height="4.12" fill="#f6f7f7"/><rect x="308.88" y="256.56" width="9.21" height="4.12" fill="#fae9df"/><rect x="317.49" y="256.56" width="9.21" height="4.12" fill="#f9ebe3"/><rect x="214.20" y="260.07" width="9.21" height="4.12" fill="#b1d5e7"/><rect x="222.81" y="260.07" width="9.21" height="4.12" fill="#ddebf2"/><rect x="231.42" y="260.07" width="9.21" height="4.12" fill="#e0ecf3"/><rect x="240.02" y="260.07" width="9.21" height="4.12" fill="#ddebf2"/><rect x="248.63" y="260.07" width="9.21" height="4.12" fill="#ddebf2"/><rect x="257.24" y="260.07" width="9.21" height="4.12" fill="#e4eef4"/><rect x="265.85" y="260.07" width="9.21" height="4.12" fill="#e4eef4"/><rect x="274.45" y="260.07" width="9.21" height="4.12" fill="#e0ecf3"/><rect x="283.06" y="260.07" width="9.21" height="4.12" fill="#e7f0f4"/><rect x="291.67" y="260.07" width="9.21" height="4.12" fill="#ecf2f5"/><rect x="300.28" y="260.07" width="9.21" height="4.12" fill="#f3f5f6"/><rect x="308.88" y="260.07" width="9.21" height="4.12" fill="#f9ebe3"/><rect x="317.49" y="260.07" width="9.21" height="4.12" fill="#f9efe9"/><rect x="214.20" y="263.59" width="9.21" height="4.12" fill="#acd2e5"/><rect x="222.81" y="263.59" width="9.21" height="4.12" fill="#d8e9f1"/><rect x="231.42" y="263.59" width="9.21" height="4.12" fill="#ddebf2"/><rect x="240.02" y="263.59" width="9.21" height="4.12" fill="#d8e9f1"/><rect x="248.63" y="263.59" width="9.21" height="4.12" fill="#d8e9f1"/><rect x="257.24" y="263.59" width="9.21" height="4.12" fill="#e0ecf3"/><rect x="265.85" y="263.59" width="9.21" height="4.12" fill="#dae9f2"/><rect x="274.45" y="263.59" width="9.21" height="4.12" fill="#c5dfec"/><rect x="283.06" y="263.59" width="9.21" height="4.12" fill="#d1e5f0"/><rect x="291.67" y="263.59" width="9.21" height="4.12" fill="#e0ecf3"/><rect x="300.28" y="263.59" width="9.21" height="4.12" fill="#ecf2f5"/><rect x="308.88" y="263.59" width="9.21" height="4.12" fill="#f8f1ed"/><rect x="317.49" y="263.59" width="9.21" height="4.12" fill="#f8f1ed"/></g>
<rect x="214.20" y="196.80" width="111.90" height="70.30" fill="none" stroke="#000" stroke-width="1.40"/>
<path d="M209.00 207.90H214.20M209.00 267.10H214.20M214.20 267.10V272.30M273.40 267.10V272.30" stroke="#000" stroke-width="1.40" fill="none"/>
<g filter="url(#bl)" shape-rendering="crispEdges"><rect x="337.20" y="196.80" width="9.21" height="4.12" fill="#529dc8"/><rect x="345.81" y="196.80" width="9.21" height="4.12" fill="#62a7ce"/><rect x="354.42" y="196.80" width="9.21" height="4.12" fill="#68abd0"/><rect x="363.02" y="196.80" width="9.21" height="4.12" fill="#71b0d3"/><rect x="371.63" y="196.80" width="9.21" height="4.12" fill="#7bb6d6"/><rect x="380.24" y="196.80" width="9.21" height="4.12" fill="#81bad8"/><rect x="388.85" y="196.80" width="9.21" height="4.12" fill="#8ac0db"/><rect x="397.45" y="196.80" width="9.21" height="4.12" fill="#90c4dd"/><rect x="406.06" y="196.80" width="9.21" height="4.12" fill="#90c4dd"/><rect x="414.67" y="196.80" width="9.21" height="4.12" fill="#90c4dd"/><rect x="423.28" y="196.80" width="9.21" height="4.12" fill="#90c4dd"/><rect x="431.88" y="196.80" width="9.21" height="4.12" fill="#8ac0db"/><rect x="440.49" y="196.80" width="9.21" height="4.12" fill="#8ac0db"/><rect x="337.20" y="200.31" width="9.21" height="4.12" fill="#7bb6d6"/><rect x="345.81" y="200.31" width="9.21" height="4.12" fill="#90c4dd"/><rect x="354.42" y="200.31" width="9.21" height="4.12" fill="#98c8e0"/><rect x="363.02" y="200.31" width="9.21" height="4.12" fill="#9dcbe1"/><rect x="371.63" y="200.31" width="9.21" height="4.12" fill="#a5cee3"/><rect x="380.24" y="200.31" width="9.21" height="4.12" fill="#acd2e5"/><rect x="388.85" y="200.31" width="9.21" height="4.12" fill="#b1d5e7"/><rect x="397.45" y="200.31" width="9.21" height="4.12" fill="#b8d8e9"/><rect x="406.06" y="200.31" width="9.21" height="4.12" fill="#b8d8e9"/><rect x="414.67" y="200.31" width="9.21" height="4.12" fill="#b8d8e9"/><rect x="423.28" y="200.31" width="9.21" height="4.12" fill="#b8d8e9"/><rect x="431.88" y="200.31" width="9.21" height="4.12" fill="#b1d5e7"/><rect x="440.49" y="200.31" width="9.21" height="4.12" fill="#b1d5e7"/><rect x="337.20" y="203.83" width="9.21" height="4.12" fill="#9dcbe1"/><rect x="345.81" y="203.83" width="9.21" height="4.12" fill="#bddbea"/><rect x="354.42" y="203.83" width="9.21" height="4.12" fill="#c5dfec"/><rect x="363.02" y="203.83" width="9.21" height="4.12" fill="#cae1ee"/><rect x="371.63" y="203.83" width="9.21" height="4.12" fill="#d1e5f0"/><rect x="380.24" y="203.83" width="9.21" height="4.12" fill="#d4e6f1"/><rect x="388.85" y="203.83" width="9.21" height="4.12" fill="#d7e8f1"/><rect x="397.45" y="203.83" width="9.21" height="4.12" fill="#d8e9f1"/><rect x="406.06" y="203.83" width="9.21" height="4.12" fill="#d8e9f1"/><rect x="414.67" y="203.83" width="9.21" height="4.12" fill="#d8e9f1"/><rect x="423.28" y="203.83" width="9.21" height="4.12" fill="#d8e9f1"/><rect x="431.88" y="203.83" width="9.21" height="4.12" fill="#d8e9f1"/><rect x="440.49" y="203.83" width="9.21" height="4.12" fill="#d4e6f1"/><rect x="337.20" y="207.35" width="9.21" height="4.12" fill="#d8e9f1"/><rect x="345.81" y="207.35" width="9.21" height="4.12" fill="#ecf2f5"/><rect x="354.42" y="207.35" width="9.21" height="4.12" fill="#eff3f5"/><rect x="363.02" y="207.35" width="9.21" height="4.12" fill="#f3f5f6"/><rect x="371.63" y="207.35" width="9.21" height="4.12" fill="#f6f7f7"/><rect x="380.24" y="207.35" width="9.21" height="4.12" fill="#f6f7f7"/><rect x="388.85" y="207.35" width="9.21" height="4.12" fill="#f8f3f0"/><rect x="397.45" y="207.35" width="9.21" height="4.12" fill="#f6f7f7"/><rect x="406.06" y="207.35" width="9.21" height="4.12" fill="#f6f7f7"/><rect x="414.67" y="207.35" width="9.21" height="4.12" fill="#f6f7f7"/><rect x="423.28" y="207.35" width="9.21" height="4.12" fill="#f6f7f7"/><rect x="431.88" y="207.35" width="9.21" height="4.12" fill="#f6f7f7"/><rect x="440.49" y="207.35" width="9.21" height="4.12" fill="#f3f5f6"/><rect x="337.20" y="210.86" width="9.21" height="4.12" fill="#eff3f5"/><rect x="345.81" y="210.86" width="9.21" height="4.12" fill="#f9ede5"/><rect x="354.42" y="210.86" width="9.21" height="4.12" fill="#fae8de"/><rect x="363.02" y="210.86" width="9.21" height="4.12" fill="#fae8de"/><rect x="371.63" y="210.86" width="9.21" height="4.12" fill="#fbe5d8"/><rect x="380.24" y="210.86" width="9.21" height="4.12" fill="#fbe5d8"/><rect x="388.85" y="210.86" width="9.21" height="4.12" fill="#fce2d2"/><rect x="397.45" y="210.86" width="9.21" height="4.12" fill="#fae8de"/><rect x="406.06" y="210.86" width="9.21" height="4.12" fill="#fae8de"/><rect x="414.67" y="210.86" width="9.21" height="4.12" fill="#fae8de"/><rect x="423.28" y="210.86" width="9.21" height="4.12" fill="#fbe5d8"/><rect x="431.88" y="210.86" width="9.21" height="4.12" fill="#fce2d2"/><rect x="440.49" y="210.86" width="9.21" height="4.12" fill="#fbe5d8"/><rect x="337.20" y="214.38" width="9.21" height="4.12" fill="#f9ede5"/><rect x="345.81" y="214.38" width="9.21" height="4.12" fill="#fdddcb"/><rect x="354.42" y="214.38" width="9.21" height="4.12" fill="#fdd9c4"/><rect x="363.02" y="214.38" width="9.21" height="4.12" fill="#fcd3bc"/><rect x="371.63" y="214.38" width="9.21" height="4.12" fill="#fcd3bc"/><rect x="380.24" y="214.38" width="9.21" height="4.12" fill="#facab1"/><rect x="388.85" y="214.38" width="9.21" height="4.12" fill="#facab1"/><rect x="397.45" y="214.38" width="9.21" height="4.12" fill="#fdd9c4"/><rect x="406.06" y="214.38" width="9.21" height="4.12" fill="#fdddcb"/><rect x="414.67" y="214.38" width="9.21" height="4.12" fill="#fdddcb"/><rect x="423.28" y="214.38" width="9.21" height="4.12" fill="#fcd3bc"/><rect x="431.88" y="214.38" width="9.21" height="4.12" fill="#facab1"/><rect x="440.49" y="214.38" width="9.21" height="4.12" fill="#fcd3bc"/><rect x="337.20" y="217.89" width="9.21" height="4.12" fill="#fdddcb"/><rect x="345.81" y="217.89" width="9.21" height="4.12" fill="#f9c4a9"/><rect x="354.42" y="217.89" width="9.21" height="4.12" fill="#f8bda1"/><rect x="363.02" y="217.89" width="9.21" height="4.12" fill="#f7b596"/><rect x="371.63" y="217.89" width="9.21" height="4.12" fill="#f7b596"/><rect x="380.24" y="217.89" width="9.21" height="4.12" fill="#f7b596"/><rect x="388.85" y="217.89" width="9.21" height="4.12" fill="#f6b394"/><rect x="397.45" y="217.89" width="9.21" height="4.12" fill="#facab1"/><rect x="406.06" y="217.89" width="9.21" height="4.12" fill="#fdd9c4"/><rect x="414.67" y="217.89" width="9.21" height="4.12" fill="#fdd9c4"/><rect x="423.28" y="217.89" width="9.21" height="4.12" fill="#f9c4a9"/><rect x="431.88" y="217.89" width="9.21" height="4.12" fill="#f6af8e"/><rect x="440.49" y="217.89" width="9.21" height="4.12" fill="#f7b596"/><rect x="337.20" y="221.41" width="9.21" height="4.12" fill="#facab1"/><rect x="345.81" y="221.41" width="9.21" height="4.12" fill="#f6af8e"/><rect x="354.42" y="221.41" width="9.21" height="4.12" fill="#f5a886"/><rect x="363.02" y="221.41" width="9.21" height="4.12" fill="#f19e7d"/><rect x="371.63" y="221.41" width="9.21" height="4.12" fill="#f5a886"/><rect x="380.24" y="221.41" width="9.21" height="4.12" fill="#f6af8e"/><rect x="388.85" y="221.41" width="9.21" height="4.12" fill="#f5aa89"/><rect x="397.45" y="221.41" width="9.21" height="4.12" fill="#facab1"/><rect x="406.06" y="221.41" width="9.21" height="4.12" fill="#fdd9c4"/><rect x="414.67" y="221.41" width="9.21" height="4.12" fill="#fdd9c4"/><rect x="423.28" y="221.41" width="9.21" height="4.12" fill="#f8bda1"/><rect x="431.88" y="221.41" width="9.21" height="4.12" fill="#f19e7d"/><rect x="440.49" y="221.41" width="9.21" height="4.12" fill="#f5a886"/><rect x="337.20" y="224.92" width="9.21" height="4.12" fill="#facab1"/><rect x="345.81" y="224.92" width="9.21" height="4.12" fill="#f6af8e"/><rect x="354.42" y="224.92" width="9.21" height="4.12" fill="#f5a886"/><rect x="363.02" y="224.92" width="9.21" height="4.12" fill="#f19e7d"/><rect x="371.63" y="224.92" width="9.21" height="4.12" fill="#f5a886"/><rect x="380.24" y="224.92" width="9.21" height="4.12" fill="#f7b596"/><rect x="388.85" y="224.92" width="9.21" height="4.12" fill="#f6b394"/><rect x="397.45" y="224.92" width="9.21" height="4.12" fill="#facab1"/><rect x="406.06" y="224.92" width="9.21" height="4.12" fill="#fdddcb"/><rect x="414.67" y="224.92" width="9.21" height="4.12" fill="#fdddcb"/><rect x="423.28" y="224.92" width="9.21" height="4.12" fill="#f9c4a9"/><rect x="431.88" y="224.92" width="9.21" height="4.12" fill="#f5a886"/><rect x="440.49" y="224.92" width="9.21" height="4.12" fill="#f6af8e"/><rect x="337.20" y="228.44" width="9.21" height="4.12" fill="#fcd3bc"/><rect x="345.81" y="228.44" width="9.21" height="4.12" fill="#f8bda1"/><rect x="354.42" y="228.44" width="9.21" height="4.12" fill="#f7b596"/><rect x="363.02" y="228.44" width="9.21" height="4.12" fill="#f6af8e"/><rect x="371.63" y="228.44" width="9.21" height="4.12" fill="#f7b596"/><rect x="380.24" y="228.44" width="9.21" height="4.12" fill="#f8bda1"/><rect x="388.85" y="228.44" width="9.21" height="4.12" fill="#f8bda1"/><rect x="397.45" y="228.44" width="9.21" height="4.12" fill="#fcd3bc"/><rect x="406.06" y="228.44" width="9.21" height="4.12" fill="#fdddcb"/><rect x="414.67" y="228.44" width="9.21" height="4.12" fill="#fdddcb"/><rect x="423.28" y="228.44" width="9.21" height="4.12" fill="#fcd3bc"/><rect x="431.88" y="228.44" width="9.21" height="4.12" fill="#f9c4a9"/><rect x="440.49" y="228.44" width="9.21" height="4.12" fill="#facab1"/><rect x="337.20" y="231.95" width="9.21" height="4.12" fill="#fdddcb"/><rect x="345.81" y="231.95" width="9.21" height="4.12" fill="#fdddcb"/><rect x="354.42" y="231.95" width="9.21" height="4.12" fill="#fdd9c4"/><rect x="363.02" y="231.95" width="9.21" height="4.12" fill="#f8bda1"/><rect x="371.63" y="231.95" width="9.21" height="4.12" fill="#f7b596"/><rect x="380.24" y="231.95" width="9.21" height="4.12" fill="#f8bda1"/><rect x="388.85" y="231.95" width="9.21" height="4.12" fill="#fcd3bc"/><rect x="397.45" y="231.95" width="9.21" height="4.12" fill="#fdd9c4"/><rect x="406.06" y="231.95" width="9.21" height="4.12" fill="#fdddcb"/><rect x="414.67" y="231.95" width="9.21" height="4.12" fill="#fcd3bc"/><rect x="423.28" y="231.95" width="9.21" height="4.12" fill="#fce2d2"/><rect x="431.88" y="231.95" width="9.21" height="4.12" fill="#fce2d2"/><rect x="440.49" y="231.95" width="9.21" height="4.12" fill="#fbe5d8"/><rect x="337.20" y="235.47" width="9.21" height="4.12" fill="#fae8de"/><rect x="345.81" y="235.47" width="9.21" height="4.12" fill="#fce2d2"/><rect x="354.42" y="235.47" width="9.21" height="4.12" fill="#fdddcb"/><rect x="363.02" y="235.47" width="9.21" height="4.12" fill="#fcd3bc"/><rect x="371.63" y="235.47" width="9.21" height="4.12" fill="#fcd3bc"/><rect x="380.24" y="235.47" width="9.21" height="4.12" fill="#fcd3bc"/><rect x="388.85" y="235.47" width="9.21" height="4.12" fill="#fce2d2"/><rect x="397.45" y="235.47" width="9.21" height="4.12" fill="#fae8de"/><rect x="406.06" y="235.47" width="9.21" height="4.12" fill="#fae8de"/><rect x="414.67" y="235.47" width="9.21" height="4.12" fill="#fdddcb"/><rect x="423.28" y="235.47" width="9.21" height="4.12" fill="#fce2d2"/><rect x="431.88" y="235.47" width="9.21" height="4.12" fill="#fbe5d8"/><rect x="440.49" y="235.47" width="9.21" height="4.12" fill="#fae8de"/><rect x="337.20" y="238.98" width="9.21" height="4.12" fill="#f9ede5"/><rect x="345.81" y="238.98" width="9.21" height="4.12" fill="#fae9df"/><rect x="354.42" y="238.98" width="9.21" height="4.12" fill="#fbe6da"/><rect x="363.02" y="238.98" width="9.21" height="4.12" fill="#fbe6da"/><rect x="371.63" y="238.98" width="9.21" height="4.12" fill="#fbe6da"/><rect x="380.24" y="238.98" width="9.21" height="4.12" fill="#fbe6da"/><rect x="388.85" y="238.98" width="9.21" height="4.12" fill="#f8f2ef"/><rect x="397.45" y="238.98" width="9.21" height="4.12" fill="#e4eef4"/><rect x="406.06" y="238.98" width="9.21" height="4.12" fill="#ecf2f5"/><rect x="414.67" y="238.98" width="9.21" height="4.12" fill="#f9f0eb"/><rect x="423.28" y="238.98" width="9.21" height="4.12" fill="#fbe6da"/><rect x="431.88" y="238.98" width="9.21" height="4.12" fill="#fae9df"/><rect x="440.49" y="238.98" width="9.21" height="4.12" fill="#f9f0eb"/><rect x="337.20" y="242.50" width="9.21" height="4.12" fill="#f9ede5"/><rect x="345.81" y="242.50" width="9.21" height="4.12" fill="#f9f0eb"/><rect x="354.42" y="242.50" width="9.21" height="4.12" fill="#f9f0eb"/><rect x="363.02" y="242.50" width="9.21" height="4.12" fill="#f9f0eb"/><rect x="371.63" y="242.50" width="9.21" height="4.12" fill="#f9f0eb"/><rect x="380.24" y="242.50" width="9.21" height="4.12" fill="#f9f0eb"/><rect x="388.85" y="242.50" width="9.21" height="4.12" fill="#f5f6f7"/><rect x="397.45" y="242.50" width="9.21" height="4.12" fill="#e0ecf3"/><rect x="406.06" y="242.50" width="9.21" height="4.12" fill="#e7f0f4"/><rect x="414.67" y="242.50" width="9.21" height="4.12" fill="#f6f7f7"/><rect x="423.28" y="242.50" width="9.21" height="4.12" fill="#fae9df"/><rect x="431.88" y="242.50" width="9.21" height="4.12" fill="#fae9df"/><rect x="440.49" y="242.50" width="9.21" height="4.12" fill="#f9f0eb"/><rect x="337.20" y="246.01" width="9.21" height="4.12" fill="#f9ede5"/><rect x="345.81" y="246.01" width="9.21" height="4.12" fill="#f3f5f6"/><rect x="354.42" y="246.01" width="9.21" height="4.12" fill="#eff3f5"/><rect x="363.02" y="246.01" width="9.21" height="4.12" fill="#eff3f5"/><rect x="371.63" y="246.01" width="9.21" height="4.12" fill="#f3f5f6"/><rect x="380.24" y="246.01" width="9.21" height="4.12" fill="#f6f7f7"/><rect x="388.85" y="246.01" width="9.21" height="4.12" fill="#f3f5f6"/><rect x="397.45" y="246.01" width="9.21" height="4.12" fill="#ecf2f5"/><rect x="406.06" y="246.01" width="9.21" height="4.12" fill="#eff3f5"/><rect x="414.67" y="246.01" width="9.21" height="4.12" fill="#f6f7f7"/><rect x="423.28" y="246.01" width="9.21" height="4.12" fill="#fae9df"/><rect x="431.88" y="246.01" width="9.21" height="4.12" fill="#fae9df"/><rect x="440.49" y="246.01" width="9.21" height="4.12" fill="#f9ede5"/><rect x="337.20" y="249.53" width="9.21" height="4.12" fill="#fae9df"/><rect x="345.81" y="249.53" width="9.21" height="4.12" fill="#f6f7f7"/><rect x="354.42" y="249.53" width="9.21" height="4.12" fill="#eff3f5"/><rect x="363.02" y="249.53" width="9.21" height="4.12" fill="#eff3f5"/><rect x="371.63" y="249.53" width="9.21" height="4.12" fill="#f3f5f6"/><rect x="380.24" y="249.53" width="9.21" height="4.12" fill="#f6f7f7"/><rect x="388.85" y="249.53" width="9.21" height="4.12" fill="#f6f7f7"/><rect x="397.45" y="249.53" width="9.21" height="4.12" fill="#f6f7f7"/><rect x="406.06" y="249.53" width="9.21" height="4.12" fill="#f6f7f7"/><rect x="414.67" y="249.53" width="9.21" height="4.12" fill="#f8f3f0"/><rect x="423.28" y="249.53" width="9.21" height="4.12" fill="#fae9df"/><rect x="431.88" y="249.53" width="9.21" height="4.12" fill="#fae9df"/><rect x="440.49" y="249.53" width="9.21" height="4.12" fill="#f9ede5"/><rect x="337.20" y="253.04" width="9.21" height="4.12" fill="#fbe6da"/><rect x="345.81" y="253.04" width="9.21" height="4.12" fill="#f9ede5"/><rect x="354.42" y="253.04" width="9.21" height="4.12" fill="#f9f0eb"/><rect x="363.02" y="253.04" width="9.21" height="4.12" fill="#f9f0eb"/><rect x="371.63" y="253.04" width="9.21" height="4.12" fill="#f9ede5"/><rect x="380.24" y="253.04" width="9.21" height="4.12" fill="#f9ede5"/><rect x="388.85" y="253.04" width="9.21" height="4.12" fill="#f9efe9"/><rect x="397.45" y="253.04" width="9.21" height="4.12" fill="#f9f0eb"/><rect x="406.06" y="253.04" width="9.21" height="4.12" fill="#f9f0eb"/><rect x="414.67" y="253.04" width="9.21" height="4.12" fill="#f9f0eb"/><rect x="423.28" y="253.04" width="9.21" height="4.12" fill="#fae9df"/><rect x="431.88" y="253.04" width="9.21" height="4.12" fill="#fae9df"/><rect x="440.49" y="253.04" width="9.21" height="4.12" fill="#f9ede5"/><rect x="337.20" y="256.56" width="9.21" height="4.12" fill="#fbe3d4"/><rect x="345.81" y="256.56" width="9.21" height="4.12" fill="#fbe3d4"/><rect x="354.42" y="256.56" width="9.21" height="4.12" fill="#fbe3d4"/><rect x="363.02" y="256.56" width="9.21" height="4.12" fill="#fbe3d4"/><rect x="371.63" y="256.56" width="9.21" height="4.12" fill="#fbe3d4"/><rect x="380.24" y="256.56" width="9.21" height="4.12" fill="#fbe6da"/><rect x="388.85" y="256.56" width="9.21" height="4.12" fill="#fbe3d4"/><rect x="397.45" y="256.56" width="9.21" height="4.12" fill="#fbe3d4"/><rect x="406.06" y="256.56" width="9.21" height="4.12" fill="#fbe6da"/><rect x="414.67" y="256.56" width="9.21" height="4.12" fill="#f9f0eb"/><rect x="423.28" y="256.56" width="9.21" height="4.12" fill="#fae9df"/><rect x="431.88" y="256.56" width="9.21" height="4.12" fill="#fae9df"/><rect x="440.49" y="256.56" width="9.21" height="4.12" fill="#f9ede5"/><rect x="337.20" y="260.07" width="9.21" height="4.12" fill="#fbe3d4"/><rect x="345.81" y="260.07" width="9.21" height="4.12" fill="#fcdfcf"/><rect x="354.42" y="260.07" width="9.21" height="4.12" fill="#fddcc9"/><rect x="363.02" y="260.07" width="9.21" height="4.12" fill="#fddcc9"/><rect x="371.63" y="260.07" width="9.21" height="4.12" fill="#fcdfcf"/><rect x="380.24" y="260.07" width="9.21" height="4.12" fill="#fbe3d4"/><rect x="388.85" y="260.07" width="9.21" height="4.12" fill="#fbe3d4"/><rect x="397.45" y="260.07" width="9.21" height="4.12" fill="#fbe3d4"/><rect x="406.06" y="260.07" width="9.21" height="4.12" fill="#fbe6da"/><rect x="414.67" y="260.07" width="9.21" height="4.12" fill="#f9f0eb"/><rect x="423.28" y="260.07" width="9.21" height="4.12" fill="#fae9df"/><rect x="431.88" y="260.07" width="9.21" height="4.12" fill="#fae9df"/><rect x="440.49" y="260.07" width="9.21" height="4.12" fill="#f9ede5"/><rect x="337.20" y="263.59" width="9.21" height="4.12" fill="#fbe3d4"/><rect x="345.81" y="263.59" width="9.21" height="4.12" fill="#fcdfcf"/><rect x="354.42" y="263.59" width="9.21" height="4.12" fill="#fddcc9"/><rect x="363.02" y="263.59" width="9.21" height="4.12" fill="#fddcc9"/><rect x="371.63" y="263.59" width="9.21" height="4.12" fill="#fcdfcf"/><rect x="380.24" y="263.59" width="9.21" height="4.12" fill="#fbe3d4"/><rect x="388.85" y="263.59" width="9.21" height="4.12" fill="#fbe5d8"/><rect x="397.45" y="263.59" width="9.21" height="4.12" fill="#fbe6da"/><rect x="406.06" y="263.59" width="9.21" height="4.12" fill="#f9ede5"/><rect x="414.67" y="263.59" width="9.21" height="4.12" fill="#f8f3f0"/><rect x="423.28" y="263.59" width="9.21" height="4.12" fill="#f9ede5"/><rect x="431.88" y="263.59" width="9.21" height="4.12" fill="#fae9df"/><rect x="440.49" y="263.59" width="9.21" height="4.12" fill="#f9ede5"/></g>
<rect x="337.20" y="196.80" width="111.90" height="70.30" fill="none" stroke="#000" stroke-width="1.40"/>
<path d="M332.00 207.90H337.20M332.00 267.10H337.20M337.20 267.10V272.30M396.40 267.10V272.30" stroke="#000" stroke-width="1.40" fill="none"/>
<g filter="url(#bl)" shape-rendering="crispEdges"><rect x="460.60" y="196.80" width="9.21" height="4.12" fill="#e4eef4"/><rect x="469.21" y="196.80" width="9.21" height="4.12" fill="#f9efe9"/><rect x="477.82" y="196.80" width="9.21" height="4.12" fill="#fae9df"/><rect x="486.42" y="196.80" width="9.21" height="4.12" fill="#fae9df"/><rect x="495.03" y="196.80" width="9.21" height="4.12" fill="#fbe6da"/><rect x="503.64" y="196.80" width="9.21" height="4.12" fill="#fbe6da"/><rect x="512.25" y="196.80" width="9.21" height="4.12" fill="#fbe6da"/><rect x="520.85" y="196.80" width="9.21" height="4.12" fill="#fbe6da"/><rect x="529.46" y="196.80" width="9.21" height="4.12" fill="#fae7dc"/><rect x="538.07" y="196.80" width="9.21" height="4.12" fill="#fae7dc"/><rect x="546.68" y="196.80" width="9.21" height="4.12" fill="#faeae1"/><rect x="555.28" y="196.80" width="9.21" height="4.12" fill="#f8f1ed"/><rect x="563.89" y="196.80" width="9.21" height="4.12" fill="#eff3f5"/><rect x="460.60" y="200.31" width="9.21" height="4.12" fill="#fae9df"/><rect x="469.21" y="200.31" width="9.21" height="4.12" fill="#fbd0b9"/><rect x="477.82" y="200.31" width="9.21" height="4.12" fill="#facab1"/><rect x="486.42" y="200.31" width="9.21" height="4.12" fill="#f9c6ac"/><rect x="495.03" y="200.31" width="9.21" height="4.12" fill="#f8bfa4"/><rect x="503.64" y="200.31" width="9.21" height="4.12" fill="#f8bfa4"/><rect x="512.25" y="200.31" width="9.21" height="4.12" fill="#f8bfa4"/><rect x="520.85" y="200.31" width="9.21" height="4.12" fill="#f8bfa4"/><rect x="529.46" y="200.31" width="9.21" height="4.12" fill="#f8bda1"/><rect x="538.07" y="200.31" width="9.21" height="4.12" fill="#f8bda1"/><rect x="546.68" y="200.31" width="9.21" height="4.12" fill="#f9c4a9"/><rect x="555.28" y="200.31" width="9.21" height="4.12" fill="#fbd0b9"/><rect x="563.89" y="200.31" width="9.21" height="4.12" fill="#fce2d2"/><rect x="460.60" y="203.83" width="9.21" height="4.12" fill="#f8bfa4"/><rect x="469.21" y="203.83" width="9.21" height="4.12" fill="#f3a481"/><rect x="477.82" y="203.83" width="9.21" height="4.12" fill="#ee9677"/><rect x="486.42" y="203.83" width="9.21" height="4.12" fill="#eb9172"/><rect x="495.03" y="203.83" width="9.21" height="4.12" fill="#e8896c"/><rect x="503.64" y="203.83" width="9.21" height="4.12" fill="#e8896c"/><rect x="512.25" y="203.83" width="9.21" height="4.12" fill="#e8896c"/><rect x="520.85" y="203.83" width="9.21" height="4.12" fill="#e8896c"/><rect x="529.46" y="203.83" width="9.21" height="4.12" fill="#e48066"/><rect x="538.07" y="203.83" width="9.21" height="4.12" fill="#e8896c"/><rect x="546.68" y="203.83" width="9.21" height="4.12" fill="#ea8e70"/><rect x="555.28" y="203.83" width="9.21" height="4.12" fill="#f19e7d"/><rect x="563.89" y="203.83" width="9.21" height="4.12" fill="#f7b799"/><rect x="460.60" y="207.35" width="9.21" height="4.12" fill="#ee9677"/><rect x="469.21" y="207.35" width="9.21" height="4.12" fill="#de735c"/><rect x="477.82" y="207.35" width="9.21" height="4.12" fill="#d86551"/><rect x="486.42" y="207.35" width="9.21" height="4.12" fill="#d6604d"/><rect x="495.03" y="207.35" width="9.21" height="4.12" fill="#d25849"/><rect x="503.64" y="207.35" width="9.21" height="4.12" fill="#d25849"/><rect x="512.25" y="207.35" width="9.21" height="4.12" fill="#d25849"/><rect x="520.85" y="207.35" width="9.21" height="4.12" fill="#d6604d"/><rect x="529.46" y="207.35" width="9.21" height="4.12" fill="#cf5246"/><rect x="538.07" y="207.35" width="9.21" height="4.12" fill="#d35a4a"/><rect x="546.68" y="207.35" width="9.21" height="4.12" fill="#d6604d"/><rect x="555.28" y="207.35" width="9.21" height="4.12" fill="#dd7059"/><rect x="563.89" y="207.35" width="9.21" height="4.12" fill="#ea8e70"/><rect x="460.60" y="210.86" width="9.21" height="4.12" fill="#d86551"/><rect x="469.21" y="210.86" width="9.21" height="4.12" fill="#cb4942"/><rect x="477.82" y="210.86" width="9.21" height="4.12" fill="#c43b3c"/><rect x="486.42" y="210.86" width="9.21" height="4.12" fill="#bf3338"/><rect x="495.03" y="210.86" width="9.21" height="4.12" fill="#bd2d35"/><rect x="503.64" y="210.86" width="9.21" height="4.12" fill="#bd2d35"/><rect x="512.25" y="210.86" width="9.21" height="4.12" fill="#bd2d35"/><rect x="520.85" y="210.86" width="9.21" height="4.12" fill="#bf3338"/><rect x="529.46" y="210.86" width="9.21" height="4.12" fill="#b72230"/><rect x="538.07" y="210.86" width="9.21" height="4.12" fill="#bb2a34"/><rect x="546.68" y="210.86" width="9.21" height="4.12" fill="#c2383a"/><rect x="555.28" y="210.86" width="9.21" height="4.12" fill="#cb4942"/><rect x="563.89" y="210.86" width="9.21" height="4.12" fill="#da6853"/><rect x="460.60" y="214.38" width="9.21" height="4.12" fill="#c43b3c"/><rect x="469.21" y="214.38" width="9.21" height="4.12" fill="#b1182b"/><rect x="477.82" y="214.38" width="9.21" height="4.12" fill="#b1182b"/><rect x="486.42" y="214.38" width="9.21" height="4.12" fill="#b1182b"/><rect x="495.03" y="214.38" width="9.21" height="4.12" fill="#b1182b"/><rect x="503.64" y="214.38" width="9.21" height="4.12" fill="#b1182b"/><rect x="512.25" y="214.38" width="9.21" height="4.12" fill="#b1182b"/><rect x="520.85" y="214.38" width="9.21" height="4.12" fill="#b1182b"/><rect x="529.46" y="214.38" width="9.21" height="4.12" fill="#b1182b"/><rect x="538.07" y="214.38" width="9.21" height="4.12" fill="#b82531"/><rect x="546.68" y="214.38" width="9.21" height="4.12" fill="#bf3338"/><rect x="555.28" y="214.38" width="9.21" height="4.12" fill="#c6413e"/><rect x="563.89" y="214.38" width="9.21" height="4.12" fill="#d6604d"/><rect x="460.60" y="217.89" width="9.21" height="4.12" fill="#b82531"/><rect x="469.21" y="217.89" width="9.21" height="4.12" fill="#991027"/><rect x="477.82" y="217.89" width="9.21" height="4.12" fill="#991027"/><rect x="486.42" y="217.89" width="9.21" height="4.12" fill="#991027"/><rect x="495.03" y="217.89" width="9.21" height="4.12" fill="#991027"/><rect x="503.64" y="217.89" width="9.21" height="4.12" fill="#991027"/><rect x="512.25" y="217.89" width="9.21" height="4.12" fill="#991027"/><rect x="520.85" y="217.89" width="9.21" height="4.12" fill="#991027"/><rect x="529.46" y="217.89" width="9.21" height="4.12" fill="#991027"/><rect x="538.07" y="217.89" width="9.21" height="4.12" fill="#ab162a"/><rect x="546.68" y="217.89" width="9.21" height="4.12" fill="#b61f2e"/><rect x="555.28" y="217.89" width="9.21" height="4.12" fill="#bd2d35"/><rect x="563.89" y="217.89" width="9.21" height="4.12" fill="#cb4942"/><rect x="460.60" y="221.41" width="9.21" height="4.12" fill="#b72230"/><rect x="469.21" y="221.41" width="9.21" height="4.12" fill="#960f27"/><rect x="477.82" y="221.41" width="9.21" height="4.12" fill="#960f27"/><rect x="486.42" y="221.41" width="9.21" height="4.12" fill="#960f27"/><rect x="495.03" y="221.41" width="9.21" height="4.12" fill="#960f27"/><rect x="503.64" y="221.41" width="9.21" height="4.12" fill="#960f27"/><rect x="512.25" y="221.41" width="9.21" height="4.12" fill="#960f27"/><rect x="520.85" y="221.41" width="9.21" height="4.12" fill="#960f27"/><rect x="529.46" y="221.41" width="9.21" height="4.12" fill="#960f27"/><rect x="538.07" y="221.41" width="9.21" height="4.12" fill="#a51429"/><rect x="546.68" y="221.41" width="9.21" height="4.12" fill="#b3192c"/><rect x="555.28" y="221.41" width="9.21" height="4.12" fill="#bb2a34"/><rect x="563.89" y="221.41" width="9.21" height="4.12" fill="#c94741"/><rect x="460.60" y="224.92" width="9.21" height="4.12" fill="#bf3338"/><rect x="469.21" y="224.92" width="9.21" height="4.12" fill="#ab162a"/><rect x="477.82" y="224.92" width="9.21" height="4.12" fill="#ab162a"/><rect x="486.42" y="224.92" width="9.21" height="4.12" fill="#ab162a"/><rect x="495.03" y="224.92" width="9.21" height="4.12" fill="#ab162a"/><rect x="503.64" y="224.92" width="9.21" height="4.12" fill="#ab162a"/><rect x="512.25" y="224.92" width="9.21" height="4.12" fill="#ab162a"/><rect x="520.85" y="224.92" width="9.21" height="4.12" fill="#ab162a"/><rect x="529.46" y="224.92" width="9.21" height="4.12" fill="#ab162a"/><rect x="538.07" y="224.92" width="9.21" height="4.12" fill="#b61f2e"/><rect x="546.68" y="224.92" width="9.21" height="4.12" fill="#bd2d35"/><rect x="555.28" y="224.92" width="9.21" height="4.12" fill="#c43b3c"/><rect x="563.89" y="224.92" width="9.21" height="4.12" fill="#d25849"/><rect x="460.60" y="228.44" width="9.21" height="4.12" fill="#cf5246"/><rect x="469.21" y="228.44" width="9.21" height="4.12" fill="#bd2d35"/><rect x="477.82" y="228.44" width="9.21" height="4.12" fill="#bd2d35"/><rect x="486.42" y="228.44" width="9.21" height="4.12" fill="#bd2d35"/><rect x="495.03" y="228.44" width="9.21" height="4.12" fill="#bd2d35"/><rect x="503.64" y="228.44" width="9.21" height="4.12" fill="#bd2d35"/><rect x="512.25" y="228.44" width="9.21" height="4.12" fill="#bd2d35"/><rect x="520.85" y="228.44" width="9.21" height="4.12" fill="#bd2d35"/><rect x="529.46" y="228.44" width="9.21" height="4.12" fill="#bd2d35"/><rect x="538.07" y="228.44" width="9.21" height="4.12" fill="#c43b3c"/><rect x="546.68" y="228.44" width="9.21" height="4.12" fill="#cb4942"/><rect x="555.28" y="228.44" width="9.21" height="4.12" fill="#d25849"/><rect x="563.89" y="228.44" width="9.21" height="4.12" fill="#de735c"/><rect x="460.60" y="231.95" width="9.21" height="4.12" fill="#d6604d"/><rect x="469.21" y="231.95" width="9.21" height="4.12" fill="#cb4942"/><rect x="477.82" y="231.95" width="9.21" height="4.12" fill="#cb4942"/><rect x="486.42" y="231.95" width="9.21" height="4.12" fill="#cb4942"/><rect x="495.03" y="231.95" width="9.21" height="4.12" fill="#cb4942"/><rect x="503.64" y="231.95" width="9.21" height="4.12" fill="#cb4942"/><rect x="512.25" y="231.95" width="9.21" height="4.12" fill="#cb4942"/><rect x="520.85" y="231.95" width="9.21" height="4.12" fill="#cf5246"/><rect x="529.46" y="231.95" width="9.21" height="4.12" fill="#c84440"/><rect x="538.07" y="231.95" width="9.21" height="4.12" fill="#cc4c44"/><rect x="546.68" y="231.95" width="9.21" height="4.12" fill="#d05548"/><rect x="555.28" y="231.95" width="9.21" height="4.12" fill="#d55d4c"/><rect x="563.89" y="231.95" width="9.21" height="4.12" fill="#dc6e57"/><rect x="460.60" y="235.47" width="9.21" height="4.12" fill="#f19e7d"/><rect x="469.21" y="235.47" width="9.21" height="4.12" fill="#e8896c"/><rect x="477.82" y="235.47" width="9.21" height="4.12" fill="#e48066"/><rect x="486.42" y="235.47" width="9.21" height="4.12" fill="#e17860"/><rect x="495.03" y="235.47" width="9.21" height="4.12" fill="#e17860"/><rect x="503.64" y="235.47" width="9.21" height="4.12" fill="#e17860"/><rect x="512.25" y="235.47" width="9.21" height="4.12" fill="#e27b62"/><rect x="520.85" y="235.47" width="9.21" height="4.12" fill="#e8896c"/><rect x="529.46" y="235.47" width="9.21" height="4.12" fill="#e37e64"/><rect x="538.07" y="235.47" width="9.21" height="4.12" fill="#e8896c"/><rect x="546.68" y="235.47" width="9.21" height="4.12" fill="#eb9172"/><rect x="555.28" y="235.47" width="9.21" height="4.12" fill="#ef9979"/><rect x="563.89" y="235.47" width="9.21" height="4.12" fill="#f5a886"/><rect x="460.60" y="238.98" width="9.21" height="4.12" fill="#fcd5bf"/><rect x="469.21" y="238.98" width="9.21" height="4.12" fill="#f9c6ac"/><rect x="477.82" y="238.98" width="9.21" height="4.12" fill="#f8bfa4"/><rect x="486.42" y="238.98" width="9.21" height="4.12" fill="#f8bb9e"/><rect x="495.03" y="238.98" width="9.21" height="4.12" fill="#f7b596"/><rect x="503.64" y="238.98" width="9.21" height="4.12" fill="#f7b596"/><rect x="512.25" y="238.98" width="9.21" height="4.12" fill="#f7b799"/><rect x="520.85" y="238.98" width="9.21" height="4.12" fill="#f8bfa4"/><rect x="529.46" y="238.98" width="9.21" height="4.12" fill="#f8bda1"/><rect x="538.07" y="238.98" width="9.21" height="4.12" fill="#f9c4a9"/><rect x="546.68" y="238.98" width="9.21" height="4.12" fill="#facab1"/><rect x="555.28" y="238.98" width="9.21" height="4.12" fill="#fbd0b9"/><rect x="563.89" y="238.98" width="9.21" height="4.12" fill="#fcd5bf"/><rect x="460.60" y="242.50" width="9.21" height="4.12" fill="#f8f1ed"/><rect x="469.21" y="242.50" width="9.21" height="4.12" fill="#fae9df"/><rect x="477.82" y="242.50" width="9.21" height="4.12" fill="#fbe6da"/><rect x="486.42" y="242.50" width="9.21" height="4.12" fill="#fce0d0"/><rect x="495.03" y="242.50" width="9.21" height="4.12" fill="#fce0d0"/><rect x="503.64" y="242.50" width="9.21" height="4.12" fill="#fdddcb"/><rect x="512.25" y="242.50" width="9.21" height="4.12" fill="#fcdfcf"/><rect x="520.85" y="242.50" width="9.21" height="4.12" fill="#fbe4d6"/><rect x="529.46" y="242.50" width="9.21" height="4.12" fill="#fbe5d8"/><rect x="538.07" y="242.50" width="9.21" height="4.12" fill="#fae7dc"/><rect x="546.68" y="242.50" width="9.21" height="4.12" fill="#faeae1"/><rect x="555.28" y="242.50" width="9.21" height="4.12" fill="#faeae1"/><rect x="563.89" y="242.50" width="9.21" height="4.12" fill="#f9eee7"/><rect x="460.60" y="246.01" width="9.21" height="4.12" fill="#e0ecf3"/><rect x="469.21" y="246.01" width="9.21" height="4.12" fill="#e7f0f4"/><rect x="477.82" y="246.01" width="9.21" height="4.12" fill="#ecf2f5"/><rect x="486.42" y="246.01" width="9.21" height="4.12" fill="#f3f5f6"/><rect x="495.03" y="246.01" width="9.21" height="4.12" fill="#f6f7f7"/><rect x="503.64" y="246.01" width="9.21" height="4.12" fill="#f6f7f7"/><rect x="512.25" y="246.01" width="9.21" height="4.12" fill="#f6f7f7"/><rect x="520.85" y="246.01" width="9.21" height="4.12" fill="#f3f5f6"/><rect x="529.46" y="246.01" width="9.21" height="4.12" fill="#f3f5f6"/><rect x="538.07" y="246.01" width="9.21" height="4.12" fill="#f3f5f6"/><rect x="546.68" y="246.01" width="9.21" height="4.12" fill="#eff3f5"/><rect x="555.28" y="246.01" width="9.21" height="4.12" fill="#eff3f5"/><rect x="563.89" y="246.01" width="9.21" height="4.12" fill="#eff3f5"/><rect x="460.60" y="249.53" width="9.21" height="4.12" fill="#bddbea"/><rect x="469.21" y="249.53" width="9.21" height="4.12" fill="#c5dfec"/><rect x="477.82" y="249.53" width="9.21" height="4.12" fill="#cae1ee"/><rect x="486.42" y="249.53" width="9.21" height="4.12" fill="#d1e5f0"/><rect x="495.03" y="249.53" width="9.21" height="4.12" fill="#d4e6f1"/><rect x="503.64" y="249.53" width="9.21" height="4.12" fill="#d4e6f1"/><rect x="512.25" y="249.53" width="9.21" height="4.12" fill="#d4e6f1"/><rect x="520.85" y="249.53" width="9.21" height="4.12" fill="#d4e6f1"/><rect x="529.46" y="249.53" width="9.21" height="4.12" fill="#d4e6f1"/><rect x="538.07" y="249.53" width="9.21" height="4.12" fill="#d8e9f1"/><rect x="546.68" y="249.53" width="9.21" height="4.12" fill="#d8e9f1"/><rect x="555.28" y="249.53" width="9.21" height="4.12" fill="#d8e9f1"/><rect x="563.89" y="249.53" width="9.21" height="4.12" fill="#d8e9f1"/><rect x="460.60" y="253.04" width="9.21" height="4.12" fill="#90c4dd"/><rect x="469.21" y="253.04" width="9.21" height="4.12" fill="#90c4dd"/><rect x="477.82" y="253.04" width="9.21" height="4.12" fill="#98c8e0"/><rect x="486.42" y="253.04" width="9.21" height="4.12" fill="#9dcbe1"/><rect x="495.03" y="253.04" width="9.21" height="4.12" fill="#a5cee3"/><rect x="503.64" y="253.04" width="9.21" height="4.12" fill="#a5cee3"/><rect x="512.25" y="253.04" width="9.21" height="4.12" fill="#a5cee3"/><rect x="520.85" y="253.04" width="9.21" height="4.12" fill="#9dcbe1"/><rect x="529.46" y="253.04" width="9.21" height="4.12" fill="#9dcbe1"/><rect x="538.07" y="253.04" width="9.21" height="4.12" fill="#acd2e5"/><rect x="546.68" y="253.04" width="9.21" height="4.12" fill="#b1d5e7"/><rect x="555.28" y="253.04" width="9.21" height="4.12" fill="#b1d5e7"/><rect x="563.89" y="253.04" width="9.21" height="4.12" fill="#b1d5e7"/><rect x="460.60" y="256.56" width="9.21" height="4.12" fill="#62a7ce"/><rect x="469.21" y="256.56" width="9.21" height="4.12" fill="#59a1ca"/><rect x="477.82" y="256.56" width="9.21" height="4.12" fill="#62a7ce"/><rect x="486.42" y="256.56" width="9.21" height="4.12" fill="#68abd0"/><rect x="495.03" y="256.56" width="9.21" height="4.12" fill="#71b0d3"/><rect x="503.64" y="256.56" width="9.21" height="4.12" fill="#71b0d3"/><rect x="512.25" y="256.56" width="9.21" height="4.12" fill="#71b0d3"/><rect x="520.85" y="256.56" width="9.21" height="4.12" fill="#68abd0"/><rect x="529.46" y="256.56" width="9.21" height="4.12" fill="#68abd0"/><rect x="538.07" y="256.56" width="9.21" height="4.12" fill="#7bb6d6"/><rect x="546.68" y="256.56" width="9.21" height="4.12" fill="#81bad8"/><rect x="555.28" y="256.56" width="9.21" height="4.12" fill="#81bad8"/><rect x="563.89" y="256.56" width="9.21" height="4.12" fill="#81bad8"/><rect x="460.60" y="260.07" width="9.21" height="4.12" fill="#4393c3"/><rect x="469.21" y="260.07" width="9.21" height="4.12" fill="#3f8ec0"/><rect x="477.82" y="260.07" width="9.21" height="4.12" fill="#4393c3"/><rect x="486.42" y="260.07" width="9.21" height="4.12" fill="#4393c3"/><rect x="495.03" y="260.07" width="9.21" height="4.12" fill="#4997c5"/><rect x="503.64" y="260.07" width="9.21" height="4.12" fill="#4997c5"/><rect x="512.25" y="260.07" width="9.21" height="4.12" fill="#4997c5"/><rect x="520.85" y="260.07" width="9.21" height="4.12" fill="#4393c3"/><rect x="529.46" y="260.07" width="9.21" height="4.12" fill="#4393c3"/><rect x="538.07" y="260.07" width="9.21" height="4.12" fill="#529dc8"/><rect x="546.68" y="260.07" width="9.21" height="4.12" fill="#59a1ca"/><rect x="555.28" y="260.07" width="9.21" height="4.12" fill="#59a1ca"/><rect x="563.89" y="260.07" width="9.21" height="4.12" fill="#529dc8"/><rect x="460.60" y="263.59" width="9.21" height="4.12" fill="#3885bc"/><rect x="469.21" y="263.59" width="9.21" height="4.12" fill="#3c8abe"/><rect x="477.82" y="263.59" width="9.21" height="4.12" fill="#3f8ec0"/><rect x="486.42" y="263.59" width="9.21" height="4.12" fill="#3f8ec0"/><rect x="495.03" y="263.59" width="9.21" height="4.12" fill="#3f8ec0"/><rect x="503.64" y="263.59" width="9.21" height="4.12" fill="#3f8ec0"/><rect x="512.25" y="263.59" width="9.21" height="4.12" fill="#3f8ec0"/><rect x="520.85" y="263.59" width="9.21" height="4.12" fill="#3c8abe"/><rect x="529.46" y="263.59" width="9.21" height="4.12" fill="#3c8abe"/><rect x="538.07" y="263.59" width="9.21" height="4.12" fill="#3f8ec0"/><rect x="546.68" y="263.59" width="9.21" height="4.12" fill="#4393c3"/><rect x="555.28" y="263.59" width="9.21" height="4.12" fill="#4393c3"/><rect x="563.89" y="263.59" width="9.21" height="4.12" fill="#3f8ec0"/></g>
<rect x="460.60" y="196.80" width="111.90" height="70.30" fill="none" stroke="#000" stroke-width="1.40"/>
<path d="M455.40 207.90H460.60M455.40 267.10H460.60M460.60 267.10V272.30M519.80 267.10V272.30" stroke="#000" stroke-width="1.40" fill="none"/>
<rect x="602.40" y="12.80" width="14.10" height="269.00" fill="url(#cb)" stroke="#000" stroke-width="1.40"/>
<path d="M616.50 277.80H621.90M616.50 224.23H621.90M616.50 170.65H621.90M616.50 117.07H621.90M616.50 63.50H621.90" stroke="#000" stroke-width="1.40"/>
<g>
<text transform="scale(0.9735 1)" x="88.57 104.94 113.13 127.17 133.35 146.89 160.41 167.68 182.20 194.41 200.29" y="17.90" font-size="23.84">Atelectasis</text>
<text transform="scale(1.0196 1)" x="219.76 235.55 243.28 250.45 263.99 275.92 281.69 295.40" y="17.90" font-size="23.84">Effusion</text>
<text transform="scale(1.0196 1)" x="328.86 335.74 350.06 357.35 363.41 370.01 378.59 385.88 400.96 409.01 414.75 428.41" y="17.90" font-size="23.84">Infiltration</text>
<text transform="scale(1.0268 1)" x="446.38 463.24 466.24 484.32 491.61 497.63 511.34 525.43 531.46 545.16" y="17.90" font-size="23.84">No finding</text>
<text transform="scale(0.9757 1)" x="59.27 70.02" y="46.20" font-size="17.50">50</text>
<text transform="scale(1.0039 1)" x="68.59" y="105.40" font-size="17.50">0</text>
<text transform="scale(0.9757 1)" x="59.27 70.02" y="130.10" font-size="17.50">50</text>
<text transform="scale(1.0039 1)" x="68.59" y="189.30" font-size="17.50">0</text>
<text transform="scale(0.9757 1)" x="59.27 70.02" y="214.40" font-size="17.50">50</text>
<text transform="scale(1.0039 1)" x="68.59" y="273.60" font-size="17.50">0</text>
<text transform="scale(1.0039 1)" x="85.28" y="291.80" font-size="17.50">0</text>
<text transform="scale(0.9757 1)" x="142.79 154.06" y="291.80" font-size="17.50">50</text>
<text transform="scale(1.0039 1)" x="208.49" y="291.80" font-size="17.50">0</text>
<text transform="scale(0.9757 1)" x="269.57 280.84" y="291.80" font-size="17.50">50</text>
<text transform="scale(1.0039 1)" x="331.01" y="291.80" font-size="17.50">0</text>
<text transform="scale(0.9757 1)" x="395.63 406.91" y="291.80" font-size="17.50">50</text>
<text transform="scale(1.0039 1)" x="453.93" y="291.80" font-size="17.50">0</text>
<text transform="scale(0.9757 1)" x="522.10 533.38" y="291.80" font-size="17.50">50</text>
<text transform="scale(1.0039 1)" x="626.13 637.21 643.44 654.95" y="284.05" font-size="17.50">0.30</text>
<text transform="scale(0.9840 1)" x="638.93 650.27 656.77 668.56" y="230.48" font-size="17.50">0.35</text>
<text transform="scale(1.0040 1)" x="626.09 637.17 643.37 654.91" y="176.90" font-size="17.50">0.40</text>
<text transform="scale(1.0040 1)" x="626.14 637.30 643.60 655.18" y="123.32" font-size="17.50">0.45</text>
<text transform="scale(1.0039 1)" x="626.13 637.21 643.35 654.95" y="69.75" font-size="17.50">0.50</text>
<text transform="rotate(-90) scale(0.9616 1)" x="-88.20 -74.05 -63.09 -58.38" y="48.00" font-size="17.01">Male</text>
<text transform="rotate(-90) scale(1.0011 1)" x="-179.69 -170.24 -159.45 -144.65 -133.84 -129.27" y="48.20" font-size="17.01">Female</text>
<text transform="rotate(-90) scale(0.9735 1)" x="-248.16 -236.34 -231.70" y="46.00" font-size="17.01">All</text>
<text transform="rotate(-90) scale(1.0125 1)" x="-233.74 -224.09 -211.86 -200.49 -189.30 -186.30 -178.62 -168.27 -156.49 -149.27 -142.14 -130.34 -118.57 -111.87 -106.75 -95.30 -84.10 -76.69 -58.17" y="13.90" font-size="18.17">Label corruption[%]</text>
<text transform="scale(1.0125 1)" x="279.36 292.83 305.20 311.27 322.98 332.80 344.49 347.49 357.62 364.26 375.56 387.29 398.48 409.31 416.01 421.14 432.60 443.80 451.23 469.75" y="319.30" font-size="18.17">Dataset reduction[%]</text>
</g>
</g>
</svg></body></html>
